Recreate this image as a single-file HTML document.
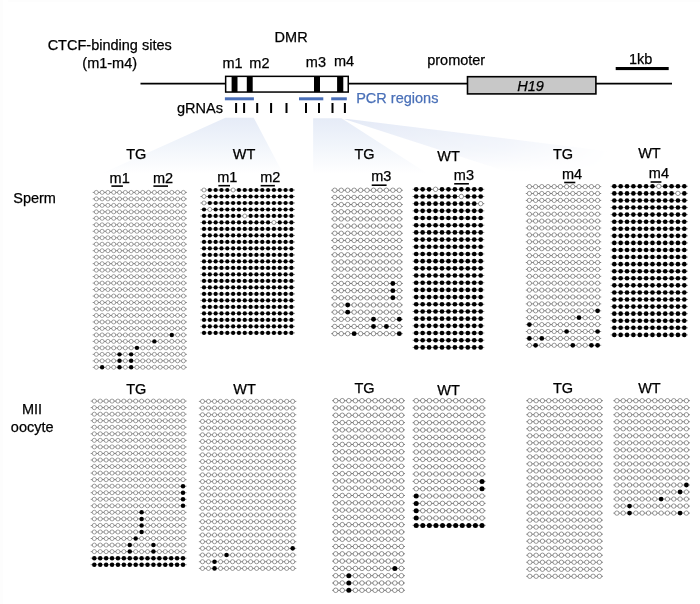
<!DOCTYPE html>
<html><head><meta charset="utf-8"><title>H19 DMR methylation</title>
<style>
html,body{margin:0;padding:0;background:#fff;}
body{width:700px;height:604px;overflow:hidden;}
svg{display:block;font-family:"Liberation Sans",Arial,sans-serif;}
</style></head><body>
<svg width="700" height="604" viewBox="0 0 700 604">
<rect width="700" height="604" fill="#fff"/><rect x="0" y="0" width="3" height="604" fill="#fdfdfd"/><rect x="8" y="0" width="692" height="2" fill="#fdfdfd"/>
<defs>
<linearGradient id="f1" x1="0" y1="117" x2="0" y2="174" gradientUnits="userSpaceOnUse"><stop offset="0" stop-color="#e5ebf7"/><stop offset="0.5" stop-color="#f1f5fb"/><stop offset="1" stop-color="#ffffff"/></linearGradient>
<linearGradient id="f3" x1="0" y1="119" x2="0" y2="172" gradientUnits="userSpaceOnUse"><stop offset="0" stop-color="#e3e9f6"/><stop offset="0.55" stop-color="#eef2fa"/><stop offset="1" stop-color="#ffffff"/></linearGradient>
<linearGradient id="mh" x1="345" y1="0" x2="610" y2="0" gradientUnits="userSpaceOnUse"><stop offset="0" stop-color="#fff"/><stop offset="0.6" stop-color="#aaa"/><stop offset="1" stop-color="#000"/></linearGradient>
<mask id="m3" maskUnits="userSpaceOnUse" x="340" y="110" width="300" height="90"><rect x="340" y="110" width="300" height="90" fill="url(#mh)"/></mask>
</defs>
<polygon points="225.4,117.7 253.7,117.7 283.3,174 100.7,174" fill="url(#f1)"/>
<polygon points="313.1,118.2 341.5,118.2 425,172 425,174 313.1,174" fill="url(#f1)"/>
<polygon points="344,119 348,119 610,151.5 610,172 508,172" fill="url(#f3)" mask="url(#m3)"/>

<path d="M140.5 83.7H225M349 83.7H467M596 83.7H672" stroke="#000" stroke-width="1.75" fill="none"/>
<rect x="225.65" y="76.35" width="122.6" height="15.7" fill="#fff" stroke="#000" stroke-width="1.5"/>
<rect x="231.6" y="76.3" width="5.9" height="15.8" fill="#000"/>
<rect x="246.8" y="76.3" width="5.9" height="15.8" fill="#000"/>
<rect x="314.0" y="76.3" width="6.0" height="15.8" fill="#000"/>
<rect x="337.1" y="76.3" width="6.2" height="15.8" fill="#000"/>
<rect x="467.5" y="76.7" width="128.4" height="17.2" fill="#c8c8c8" stroke="#000" stroke-width="1.6"/>
<rect x="224.9" y="97.3" width="29.0" height="3.0" fill="#4a6fb8"/>
<rect x="299.0" y="97.3" width="24.3" height="3.0" fill="#4a6fb8"/>
<rect x="331.2" y="97.3" width="15.6" height="3.0" fill="#4a6fb8"/>
<path d="M236.1 102.9V112.9M244.1 102.9V112.9M257.2 102.9V112.9M271.1 102.9V112.9M286.5 102.9V112.9M306.0 102.9V112.9M319.0 102.9V112.9M332.5 102.9V112.9M344.9 102.9V112.9" stroke="#000" stroke-width="2" fill="none"/>
<rect x="615.7" y="67.0" width="53" height="3.1" fill="#000"/>
<text x="109.7" y="50.1" text-anchor="middle" fill="#000" stroke="#000" stroke-width="0.25" font-size="14.5">CTCF-binding sites</text>
<text x="109.7" y="68.4" text-anchor="middle" fill="#000" stroke="#000" stroke-width="0.25" font-size="14.5">(m1-m4)</text>
<text x="291.1" y="42.2" text-anchor="middle" fill="#000" stroke="#000" stroke-width="0.25" font-size="14.5">DMR</text>
<text x="232.6" y="68.0" text-anchor="middle" fill="#000" stroke="#000" stroke-width="0.25" font-size="14.5">m1</text>
<text x="259.4" y="68.4" text-anchor="middle" fill="#000" stroke="#000" stroke-width="0.25" font-size="14.5">m2</text>
<text x="315.9" y="66.9" text-anchor="middle" fill="#000" stroke="#000" stroke-width="0.25" font-size="14.5">m3</text>
<text x="344.0" y="65.8" text-anchor="middle" fill="#000" stroke="#000" stroke-width="0.25" font-size="14.5">m4</text>
<text x="200.0" y="112.9" text-anchor="middle" fill="#000" stroke="#000" stroke-width="0.25" font-size="14.5">gRNAs</text>
<text x="397.3" y="103.0" text-anchor="middle" fill="#4a70b8" stroke="#4a70b8" stroke-width="0.25" font-size="14.5">PCR regions</text>
<text x="456.2" y="64.5" text-anchor="middle" fill="#000" stroke="#000" stroke-width="0.25" font-size="14.5">promoter</text>
<text x="530.5" y="90.9" text-anchor="middle" fill="#000" stroke="#000" stroke-width="0.25" font-size="14.5" font-style="italic">H19</text>
<text x="640.7" y="63.5" text-anchor="middle" fill="#000" stroke="#000" stroke-width="0.25" font-size="14.5">1kb</text>
<text x="34.6" y="202.9" text-anchor="middle" fill="#000" stroke="#000" stroke-width="0.25" font-size="14.5">Sperm</text>
<text x="32.0" y="414.3" text-anchor="middle" fill="#000" stroke="#000" stroke-width="0.25" font-size="14.5">MII</text>
<text x="32.2" y="431.7" text-anchor="middle" fill="#000" stroke="#000" stroke-width="0.25" font-size="14.5">oocyte</text>
<text x="136.2" y="159.4" text-anchor="middle" fill="#000" stroke="#000" stroke-width="0.25" font-size="14.5">TG</text>
<text x="244.1" y="159.4" text-anchor="middle" fill="#000" stroke="#000" stroke-width="0.25" font-size="14.5">WT</text>
<text x="364.5" y="159.3" text-anchor="middle" fill="#000" stroke="#000" stroke-width="0.25" font-size="14.5">TG</text>
<text x="448.6" y="161.1" text-anchor="middle" fill="#000" stroke="#000" stroke-width="0.25" font-size="14.5">WT</text>
<text x="563.0" y="158.9" text-anchor="middle" fill="#000" stroke="#000" stroke-width="0.25" font-size="14.5">TG</text>
<text x="649.4" y="158.1" text-anchor="middle" fill="#000" stroke="#000" stroke-width="0.25" font-size="14.5">WT</text>
<text x="136.2" y="394.4" text-anchor="middle" fill="#000" stroke="#000" stroke-width="0.25" font-size="14.5">TG</text>
<text x="244.5" y="393.8" text-anchor="middle" fill="#000" stroke="#000" stroke-width="0.25" font-size="14.5">WT</text>
<text x="364.5" y="393.1" text-anchor="middle" fill="#000" stroke="#000" stroke-width="0.25" font-size="14.5">TG</text>
<text x="448.6" y="394.9" text-anchor="middle" fill="#000" stroke="#000" stroke-width="0.25" font-size="14.5">WT</text>
<text x="563.0" y="393.1" text-anchor="middle" fill="#000" stroke="#000" stroke-width="0.25" font-size="14.5">TG</text>
<text x="649.4" y="392.6" text-anchor="middle" fill="#000" stroke="#000" stroke-width="0.25" font-size="14.5">WT</text>
<text x="109.6" y="182.8" text-anchor="start" fill="#000" stroke="#000" stroke-width="0.25" font-size="14.5">m1</text>
<path d="M111.4 186.1H122.9" stroke="#000" stroke-width="1.6"/>
<text x="153.0" y="182.9" text-anchor="start" fill="#000" stroke="#000" stroke-width="0.25" font-size="14.5">m2</text>
<path d="M153.4 186.1H168.0" stroke="#000" stroke-width="1.6"/>
<text x="217.2" y="181.6" text-anchor="start" fill="#000" stroke="#000" stroke-width="0.25" font-size="14.5">m1</text>
<path d="M218.4 185.7H230.0" stroke="#000" stroke-width="1.6"/>
<text x="260.2" y="181.6" text-anchor="start" fill="#000" stroke="#000" stroke-width="0.25" font-size="14.5">m2</text>
<path d="M260.6 185.7H274.9" stroke="#000" stroke-width="1.6"/>
<text x="371.2" y="181.1" text-anchor="start" fill="#000" stroke="#000" stroke-width="0.25" font-size="14.5">m3</text>
<path d="M371.7 185.2H386.6" stroke="#000" stroke-width="1.6"/>
<text x="453.8" y="179.9" text-anchor="start" fill="#000" stroke="#000" stroke-width="0.25" font-size="14.5">m3</text>
<path d="M454.2 183.8H468.9" stroke="#000" stroke-width="1.6"/>
<text x="561.9" y="178.7" text-anchor="start" fill="#000" stroke="#000" stroke-width="0.25" font-size="14.5">m4</text>
<path d="M564.2 182.5H575.3" stroke="#000" stroke-width="1.6"/>
<text x="648.8" y="177.9" text-anchor="start" fill="#000" stroke="#000" stroke-width="0.25" font-size="14.5">m4</text>
<path d="M650.6 182.0H661.4" stroke="#000" stroke-width="1.6"/>
<g>
<path d="M92.70 192.40H187.00M92.70 198.88H187.00M92.70 205.36H187.00M92.70 211.83H187.00M92.70 218.31H187.00M92.70 224.79H187.00M92.70 231.27H187.00M92.70 237.75H187.00M92.70 244.22H187.00M92.70 250.70H187.00M92.70 257.18H187.00M92.70 263.66H187.00M92.70 270.14H187.00M92.70 276.61H187.00M92.70 283.09H187.00M92.70 289.57H187.00M92.70 296.05H187.00M92.70 302.53H187.00M92.70 309.00H187.00M92.70 315.48H187.00M92.70 321.96H187.00M92.70 328.44H187.00M92.70 334.92H187.00M92.70 341.39H187.00M92.70 347.87H187.00M92.70 354.35H187.00M92.70 360.83H187.00M92.70 367.31H187.00" stroke="#222" stroke-width="0.48" fill="none"/>
<g fill="#fff" stroke="#222" stroke-width="0.42">
<circle cx="96.30" cy="192.40" r="2.00"/>
<circle cx="102.11" cy="192.40" r="2.00"/>
<circle cx="107.91" cy="192.40" r="2.00"/>
<circle cx="113.72" cy="192.40" r="2.00"/>
<circle cx="119.53" cy="192.40" r="2.00"/>
<circle cx="125.34" cy="192.40" r="2.00"/>
<circle cx="131.14" cy="192.40" r="2.00"/>
<circle cx="136.95" cy="192.40" r="2.00"/>
<circle cx="142.76" cy="192.40" r="2.00"/>
<circle cx="148.56" cy="192.40" r="2.00"/>
<circle cx="154.37" cy="192.40" r="2.00"/>
<circle cx="160.18" cy="192.40" r="2.00"/>
<circle cx="165.98" cy="192.40" r="2.00"/>
<circle cx="171.79" cy="192.40" r="2.00"/>
<circle cx="177.60" cy="192.40" r="2.00"/>
<circle cx="183.41" cy="192.40" r="2.00"/>
<circle cx="96.30" cy="198.88" r="2.00"/>
<circle cx="102.11" cy="198.88" r="2.00"/>
<circle cx="107.91" cy="198.88" r="2.00"/>
<circle cx="113.72" cy="198.88" r="2.00"/>
<circle cx="119.53" cy="198.88" r="2.00"/>
<circle cx="125.34" cy="198.88" r="2.00"/>
<circle cx="131.14" cy="198.88" r="2.00"/>
<circle cx="136.95" cy="198.88" r="2.00"/>
<circle cx="142.76" cy="198.88" r="2.00"/>
<circle cx="148.56" cy="198.88" r="2.00"/>
<circle cx="154.37" cy="198.88" r="2.00"/>
<circle cx="160.18" cy="198.88" r="2.00"/>
<circle cx="165.98" cy="198.88" r="2.00"/>
<circle cx="171.79" cy="198.88" r="2.00"/>
<circle cx="177.60" cy="198.88" r="2.00"/>
<circle cx="183.41" cy="198.88" r="2.00"/>
<circle cx="96.30" cy="205.36" r="2.00"/>
<circle cx="102.11" cy="205.36" r="2.00"/>
<circle cx="107.91" cy="205.36" r="2.00"/>
<circle cx="113.72" cy="205.36" r="2.00"/>
<circle cx="119.53" cy="205.36" r="2.00"/>
<circle cx="125.34" cy="205.36" r="2.00"/>
<circle cx="131.14" cy="205.36" r="2.00"/>
<circle cx="136.95" cy="205.36" r="2.00"/>
<circle cx="142.76" cy="205.36" r="2.00"/>
<circle cx="148.56" cy="205.36" r="2.00"/>
<circle cx="154.37" cy="205.36" r="2.00"/>
<circle cx="160.18" cy="205.36" r="2.00"/>
<circle cx="165.98" cy="205.36" r="2.00"/>
<circle cx="171.79" cy="205.36" r="2.00"/>
<circle cx="177.60" cy="205.36" r="2.00"/>
<circle cx="183.41" cy="205.36" r="2.00"/>
<circle cx="96.30" cy="211.83" r="2.00"/>
<circle cx="102.11" cy="211.83" r="2.00"/>
<circle cx="107.91" cy="211.83" r="2.00"/>
<circle cx="113.72" cy="211.83" r="2.00"/>
<circle cx="119.53" cy="211.83" r="2.00"/>
<circle cx="125.34" cy="211.83" r="2.00"/>
<circle cx="131.14" cy="211.83" r="2.00"/>
<circle cx="136.95" cy="211.83" r="2.00"/>
<circle cx="142.76" cy="211.83" r="2.00"/>
<circle cx="148.56" cy="211.83" r="2.00"/>
<circle cx="154.37" cy="211.83" r="2.00"/>
<circle cx="160.18" cy="211.83" r="2.00"/>
<circle cx="165.98" cy="211.83" r="2.00"/>
<circle cx="171.79" cy="211.83" r="2.00"/>
<circle cx="177.60" cy="211.83" r="2.00"/>
<circle cx="183.41" cy="211.83" r="2.00"/>
<circle cx="96.30" cy="218.31" r="2.00"/>
<circle cx="102.11" cy="218.31" r="2.00"/>
<circle cx="107.91" cy="218.31" r="2.00"/>
<circle cx="113.72" cy="218.31" r="2.00"/>
<circle cx="119.53" cy="218.31" r="2.00"/>
<circle cx="125.34" cy="218.31" r="2.00"/>
<circle cx="131.14" cy="218.31" r="2.00"/>
<circle cx="136.95" cy="218.31" r="2.00"/>
<circle cx="142.76" cy="218.31" r="2.00"/>
<circle cx="148.56" cy="218.31" r="2.00"/>
<circle cx="154.37" cy="218.31" r="2.00"/>
<circle cx="160.18" cy="218.31" r="2.00"/>
<circle cx="165.98" cy="218.31" r="2.00"/>
<circle cx="171.79" cy="218.31" r="2.00"/>
<circle cx="177.60" cy="218.31" r="2.00"/>
<circle cx="183.41" cy="218.31" r="2.00"/>
<circle cx="96.30" cy="224.79" r="2.00"/>
<circle cx="102.11" cy="224.79" r="2.00"/>
<circle cx="107.91" cy="224.79" r="2.00"/>
<circle cx="113.72" cy="224.79" r="2.00"/>
<circle cx="119.53" cy="224.79" r="2.00"/>
<circle cx="125.34" cy="224.79" r="2.00"/>
<circle cx="131.14" cy="224.79" r="2.00"/>
<circle cx="136.95" cy="224.79" r="2.00"/>
<circle cx="142.76" cy="224.79" r="2.00"/>
<circle cx="148.56" cy="224.79" r="2.00"/>
<circle cx="154.37" cy="224.79" r="2.00"/>
<circle cx="160.18" cy="224.79" r="2.00"/>
<circle cx="165.98" cy="224.79" r="2.00"/>
<circle cx="171.79" cy="224.79" r="2.00"/>
<circle cx="177.60" cy="224.79" r="2.00"/>
<circle cx="183.41" cy="224.79" r="2.00"/>
<circle cx="96.30" cy="231.27" r="2.00"/>
<circle cx="102.11" cy="231.27" r="2.00"/>
<circle cx="107.91" cy="231.27" r="2.00"/>
<circle cx="113.72" cy="231.27" r="2.00"/>
<circle cx="119.53" cy="231.27" r="2.00"/>
<circle cx="125.34" cy="231.27" r="2.00"/>
<circle cx="131.14" cy="231.27" r="2.00"/>
<circle cx="136.95" cy="231.27" r="2.00"/>
<circle cx="142.76" cy="231.27" r="2.00"/>
<circle cx="148.56" cy="231.27" r="2.00"/>
<circle cx="154.37" cy="231.27" r="2.00"/>
<circle cx="160.18" cy="231.27" r="2.00"/>
<circle cx="165.98" cy="231.27" r="2.00"/>
<circle cx="171.79" cy="231.27" r="2.00"/>
<circle cx="177.60" cy="231.27" r="2.00"/>
<circle cx="183.41" cy="231.27" r="2.00"/>
<circle cx="96.30" cy="237.75" r="2.00"/>
<circle cx="102.11" cy="237.75" r="2.00"/>
<circle cx="107.91" cy="237.75" r="2.00"/>
<circle cx="113.72" cy="237.75" r="2.00"/>
<circle cx="119.53" cy="237.75" r="2.00"/>
<circle cx="125.34" cy="237.75" r="2.00"/>
<circle cx="131.14" cy="237.75" r="2.00"/>
<circle cx="136.95" cy="237.75" r="2.00"/>
<circle cx="142.76" cy="237.75" r="2.00"/>
<circle cx="148.56" cy="237.75" r="2.00"/>
<circle cx="154.37" cy="237.75" r="2.00"/>
<circle cx="160.18" cy="237.75" r="2.00"/>
<circle cx="165.98" cy="237.75" r="2.00"/>
<circle cx="171.79" cy="237.75" r="2.00"/>
<circle cx="177.60" cy="237.75" r="2.00"/>
<circle cx="183.41" cy="237.75" r="2.00"/>
<circle cx="96.30" cy="244.22" r="2.00"/>
<circle cx="102.11" cy="244.22" r="2.00"/>
<circle cx="107.91" cy="244.22" r="2.00"/>
<circle cx="113.72" cy="244.22" r="2.00"/>
<circle cx="119.53" cy="244.22" r="2.00"/>
<circle cx="125.34" cy="244.22" r="2.00"/>
<circle cx="131.14" cy="244.22" r="2.00"/>
<circle cx="136.95" cy="244.22" r="2.00"/>
<circle cx="142.76" cy="244.22" r="2.00"/>
<circle cx="148.56" cy="244.22" r="2.00"/>
<circle cx="154.37" cy="244.22" r="2.00"/>
<circle cx="160.18" cy="244.22" r="2.00"/>
<circle cx="165.98" cy="244.22" r="2.00"/>
<circle cx="171.79" cy="244.22" r="2.00"/>
<circle cx="177.60" cy="244.22" r="2.00"/>
<circle cx="183.41" cy="244.22" r="2.00"/>
<circle cx="96.30" cy="250.70" r="2.00"/>
<circle cx="102.11" cy="250.70" r="2.00"/>
<circle cx="107.91" cy="250.70" r="2.00"/>
<circle cx="113.72" cy="250.70" r="2.00"/>
<circle cx="119.53" cy="250.70" r="2.00"/>
<circle cx="125.34" cy="250.70" r="2.00"/>
<circle cx="131.14" cy="250.70" r="2.00"/>
<circle cx="136.95" cy="250.70" r="2.00"/>
<circle cx="142.76" cy="250.70" r="2.00"/>
<circle cx="148.56" cy="250.70" r="2.00"/>
<circle cx="154.37" cy="250.70" r="2.00"/>
<circle cx="160.18" cy="250.70" r="2.00"/>
<circle cx="165.98" cy="250.70" r="2.00"/>
<circle cx="171.79" cy="250.70" r="2.00"/>
<circle cx="177.60" cy="250.70" r="2.00"/>
<circle cx="183.41" cy="250.70" r="2.00"/>
<circle cx="96.30" cy="257.18" r="2.00"/>
<circle cx="102.11" cy="257.18" r="2.00"/>
<circle cx="107.91" cy="257.18" r="2.00"/>
<circle cx="113.72" cy="257.18" r="2.00"/>
<circle cx="119.53" cy="257.18" r="2.00"/>
<circle cx="125.34" cy="257.18" r="2.00"/>
<circle cx="131.14" cy="257.18" r="2.00"/>
<circle cx="136.95" cy="257.18" r="2.00"/>
<circle cx="142.76" cy="257.18" r="2.00"/>
<circle cx="148.56" cy="257.18" r="2.00"/>
<circle cx="154.37" cy="257.18" r="2.00"/>
<circle cx="160.18" cy="257.18" r="2.00"/>
<circle cx="165.98" cy="257.18" r="2.00"/>
<circle cx="171.79" cy="257.18" r="2.00"/>
<circle cx="177.60" cy="257.18" r="2.00"/>
<circle cx="183.41" cy="257.18" r="2.00"/>
<circle cx="96.30" cy="263.66" r="2.00"/>
<circle cx="102.11" cy="263.66" r="2.00"/>
<circle cx="107.91" cy="263.66" r="2.00"/>
<circle cx="113.72" cy="263.66" r="2.00"/>
<circle cx="119.53" cy="263.66" r="2.00"/>
<circle cx="125.34" cy="263.66" r="2.00"/>
<circle cx="131.14" cy="263.66" r="2.00"/>
<circle cx="136.95" cy="263.66" r="2.00"/>
<circle cx="142.76" cy="263.66" r="2.00"/>
<circle cx="148.56" cy="263.66" r="2.00"/>
<circle cx="154.37" cy="263.66" r="2.00"/>
<circle cx="160.18" cy="263.66" r="2.00"/>
<circle cx="165.98" cy="263.66" r="2.00"/>
<circle cx="171.79" cy="263.66" r="2.00"/>
<circle cx="177.60" cy="263.66" r="2.00"/>
<circle cx="183.41" cy="263.66" r="2.00"/>
<circle cx="96.30" cy="270.14" r="2.00"/>
<circle cx="102.11" cy="270.14" r="2.00"/>
<circle cx="107.91" cy="270.14" r="2.00"/>
<circle cx="113.72" cy="270.14" r="2.00"/>
<circle cx="119.53" cy="270.14" r="2.00"/>
<circle cx="125.34" cy="270.14" r="2.00"/>
<circle cx="131.14" cy="270.14" r="2.00"/>
<circle cx="136.95" cy="270.14" r="2.00"/>
<circle cx="142.76" cy="270.14" r="2.00"/>
<circle cx="148.56" cy="270.14" r="2.00"/>
<circle cx="154.37" cy="270.14" r="2.00"/>
<circle cx="160.18" cy="270.14" r="2.00"/>
<circle cx="165.98" cy="270.14" r="2.00"/>
<circle cx="171.79" cy="270.14" r="2.00"/>
<circle cx="177.60" cy="270.14" r="2.00"/>
<circle cx="183.41" cy="270.14" r="2.00"/>
<circle cx="96.30" cy="276.61" r="2.00"/>
<circle cx="102.11" cy="276.61" r="2.00"/>
<circle cx="107.91" cy="276.61" r="2.00"/>
<circle cx="113.72" cy="276.61" r="2.00"/>
<circle cx="119.53" cy="276.61" r="2.00"/>
<circle cx="125.34" cy="276.61" r="2.00"/>
<circle cx="131.14" cy="276.61" r="2.00"/>
<circle cx="136.95" cy="276.61" r="2.00"/>
<circle cx="142.76" cy="276.61" r="2.00"/>
<circle cx="148.56" cy="276.61" r="2.00"/>
<circle cx="154.37" cy="276.61" r="2.00"/>
<circle cx="160.18" cy="276.61" r="2.00"/>
<circle cx="165.98" cy="276.61" r="2.00"/>
<circle cx="171.79" cy="276.61" r="2.00"/>
<circle cx="177.60" cy="276.61" r="2.00"/>
<circle cx="183.41" cy="276.61" r="2.00"/>
<circle cx="96.30" cy="283.09" r="2.00"/>
<circle cx="102.11" cy="283.09" r="2.00"/>
<circle cx="107.91" cy="283.09" r="2.00"/>
<circle cx="113.72" cy="283.09" r="2.00"/>
<circle cx="119.53" cy="283.09" r="2.00"/>
<circle cx="125.34" cy="283.09" r="2.00"/>
<circle cx="131.14" cy="283.09" r="2.00"/>
<circle cx="136.95" cy="283.09" r="2.00"/>
<circle cx="142.76" cy="283.09" r="2.00"/>
<circle cx="148.56" cy="283.09" r="2.00"/>
<circle cx="154.37" cy="283.09" r="2.00"/>
<circle cx="160.18" cy="283.09" r="2.00"/>
<circle cx="165.98" cy="283.09" r="2.00"/>
<circle cx="171.79" cy="283.09" r="2.00"/>
<circle cx="177.60" cy="283.09" r="2.00"/>
<circle cx="183.41" cy="283.09" r="2.00"/>
<circle cx="96.30" cy="289.57" r="2.00"/>
<circle cx="102.11" cy="289.57" r="2.00"/>
<circle cx="107.91" cy="289.57" r="2.00"/>
<circle cx="113.72" cy="289.57" r="2.00"/>
<circle cx="119.53" cy="289.57" r="2.00"/>
<circle cx="125.34" cy="289.57" r="2.00"/>
<circle cx="131.14" cy="289.57" r="2.00"/>
<circle cx="136.95" cy="289.57" r="2.00"/>
<circle cx="142.76" cy="289.57" r="2.00"/>
<circle cx="148.56" cy="289.57" r="2.00"/>
<circle cx="154.37" cy="289.57" r="2.00"/>
<circle cx="160.18" cy="289.57" r="2.00"/>
<circle cx="165.98" cy="289.57" r="2.00"/>
<circle cx="171.79" cy="289.57" r="2.00"/>
<circle cx="177.60" cy="289.57" r="2.00"/>
<circle cx="183.41" cy="289.57" r="2.00"/>
<circle cx="96.30" cy="296.05" r="2.00"/>
<circle cx="102.11" cy="296.05" r="2.00"/>
<circle cx="107.91" cy="296.05" r="2.00"/>
<circle cx="113.72" cy="296.05" r="2.00"/>
<circle cx="119.53" cy="296.05" r="2.00"/>
<circle cx="125.34" cy="296.05" r="2.00"/>
<circle cx="131.14" cy="296.05" r="2.00"/>
<circle cx="136.95" cy="296.05" r="2.00"/>
<circle cx="142.76" cy="296.05" r="2.00"/>
<circle cx="148.56" cy="296.05" r="2.00"/>
<circle cx="154.37" cy="296.05" r="2.00"/>
<circle cx="160.18" cy="296.05" r="2.00"/>
<circle cx="165.98" cy="296.05" r="2.00"/>
<circle cx="171.79" cy="296.05" r="2.00"/>
<circle cx="177.60" cy="296.05" r="2.00"/>
<circle cx="183.41" cy="296.05" r="2.00"/>
<circle cx="96.30" cy="302.53" r="2.00"/>
<circle cx="102.11" cy="302.53" r="2.00"/>
<circle cx="107.91" cy="302.53" r="2.00"/>
<circle cx="113.72" cy="302.53" r="2.00"/>
<circle cx="119.53" cy="302.53" r="2.00"/>
<circle cx="125.34" cy="302.53" r="2.00"/>
<circle cx="131.14" cy="302.53" r="2.00"/>
<circle cx="136.95" cy="302.53" r="2.00"/>
<circle cx="142.76" cy="302.53" r="2.00"/>
<circle cx="148.56" cy="302.53" r="2.00"/>
<circle cx="154.37" cy="302.53" r="2.00"/>
<circle cx="160.18" cy="302.53" r="2.00"/>
<circle cx="165.98" cy="302.53" r="2.00"/>
<circle cx="171.79" cy="302.53" r="2.00"/>
<circle cx="177.60" cy="302.53" r="2.00"/>
<circle cx="183.41" cy="302.53" r="2.00"/>
<circle cx="96.30" cy="309.00" r="2.00"/>
<circle cx="102.11" cy="309.00" r="2.00"/>
<circle cx="107.91" cy="309.00" r="2.00"/>
<circle cx="113.72" cy="309.00" r="2.00"/>
<circle cx="119.53" cy="309.00" r="2.00"/>
<circle cx="125.34" cy="309.00" r="2.00"/>
<circle cx="131.14" cy="309.00" r="2.00"/>
<circle cx="136.95" cy="309.00" r="2.00"/>
<circle cx="142.76" cy="309.00" r="2.00"/>
<circle cx="148.56" cy="309.00" r="2.00"/>
<circle cx="154.37" cy="309.00" r="2.00"/>
<circle cx="160.18" cy="309.00" r="2.00"/>
<circle cx="165.98" cy="309.00" r="2.00"/>
<circle cx="171.79" cy="309.00" r="2.00"/>
<circle cx="177.60" cy="309.00" r="2.00"/>
<circle cx="183.41" cy="309.00" r="2.00"/>
<circle cx="96.30" cy="315.48" r="2.00"/>
<circle cx="102.11" cy="315.48" r="2.00"/>
<circle cx="107.91" cy="315.48" r="2.00"/>
<circle cx="113.72" cy="315.48" r="2.00"/>
<circle cx="119.53" cy="315.48" r="2.00"/>
<circle cx="125.34" cy="315.48" r="2.00"/>
<circle cx="131.14" cy="315.48" r="2.00"/>
<circle cx="136.95" cy="315.48" r="2.00"/>
<circle cx="142.76" cy="315.48" r="2.00"/>
<circle cx="148.56" cy="315.48" r="2.00"/>
<circle cx="154.37" cy="315.48" r="2.00"/>
<circle cx="160.18" cy="315.48" r="2.00"/>
<circle cx="165.98" cy="315.48" r="2.00"/>
<circle cx="171.79" cy="315.48" r="2.00"/>
<circle cx="177.60" cy="315.48" r="2.00"/>
<circle cx="183.41" cy="315.48" r="2.00"/>
<circle cx="96.30" cy="321.96" r="2.00"/>
<circle cx="102.11" cy="321.96" r="2.00"/>
<circle cx="107.91" cy="321.96" r="2.00"/>
<circle cx="113.72" cy="321.96" r="2.00"/>
<circle cx="119.53" cy="321.96" r="2.00"/>
<circle cx="125.34" cy="321.96" r="2.00"/>
<circle cx="131.14" cy="321.96" r="2.00"/>
<circle cx="136.95" cy="321.96" r="2.00"/>
<circle cx="142.76" cy="321.96" r="2.00"/>
<circle cx="148.56" cy="321.96" r="2.00"/>
<circle cx="154.37" cy="321.96" r="2.00"/>
<circle cx="160.18" cy="321.96" r="2.00"/>
<circle cx="165.98" cy="321.96" r="2.00"/>
<circle cx="171.79" cy="321.96" r="2.00"/>
<circle cx="177.60" cy="321.96" r="2.00"/>
<circle cx="183.41" cy="321.96" r="2.00"/>
<circle cx="96.30" cy="328.44" r="2.00"/>
<circle cx="102.11" cy="328.44" r="2.00"/>
<circle cx="107.91" cy="328.44" r="2.00"/>
<circle cx="113.72" cy="328.44" r="2.00"/>
<circle cx="119.53" cy="328.44" r="2.00"/>
<circle cx="125.34" cy="328.44" r="2.00"/>
<circle cx="131.14" cy="328.44" r="2.00"/>
<circle cx="136.95" cy="328.44" r="2.00"/>
<circle cx="142.76" cy="328.44" r="2.00"/>
<circle cx="148.56" cy="328.44" r="2.00"/>
<circle cx="154.37" cy="328.44" r="2.00"/>
<circle cx="160.18" cy="328.44" r="2.00"/>
<circle cx="165.98" cy="328.44" r="2.00"/>
<circle cx="171.79" cy="328.44" r="2.00"/>
<circle cx="177.60" cy="328.44" r="2.00"/>
<circle cx="183.41" cy="328.44" r="2.00"/>
<circle cx="96.30" cy="334.92" r="2.00"/>
<circle cx="102.11" cy="334.92" r="2.00"/>
<circle cx="107.91" cy="334.92" r="2.00"/>
<circle cx="113.72" cy="334.92" r="2.00"/>
<circle cx="119.53" cy="334.92" r="2.00"/>
<circle cx="125.34" cy="334.92" r="2.00"/>
<circle cx="131.14" cy="334.92" r="2.00"/>
<circle cx="136.95" cy="334.92" r="2.00"/>
<circle cx="142.76" cy="334.92" r="2.00"/>
<circle cx="148.56" cy="334.92" r="2.00"/>
<circle cx="154.37" cy="334.92" r="2.00"/>
<circle cx="160.18" cy="334.92" r="2.00"/>
<circle cx="165.98" cy="334.92" r="2.00"/>
<circle cx="177.60" cy="334.92" r="2.00"/>
<circle cx="183.41" cy="334.92" r="2.00"/>
<circle cx="96.30" cy="341.39" r="2.00"/>
<circle cx="102.11" cy="341.39" r="2.00"/>
<circle cx="107.91" cy="341.39" r="2.00"/>
<circle cx="113.72" cy="341.39" r="2.00"/>
<circle cx="119.53" cy="341.39" r="2.00"/>
<circle cx="125.34" cy="341.39" r="2.00"/>
<circle cx="131.14" cy="341.39" r="2.00"/>
<circle cx="136.95" cy="341.39" r="2.00"/>
<circle cx="142.76" cy="341.39" r="2.00"/>
<circle cx="148.56" cy="341.39" r="2.00"/>
<circle cx="160.18" cy="341.39" r="2.00"/>
<circle cx="165.98" cy="341.39" r="2.00"/>
<circle cx="171.79" cy="341.39" r="2.00"/>
<circle cx="177.60" cy="341.39" r="2.00"/>
<circle cx="183.41" cy="341.39" r="2.00"/>
<circle cx="96.30" cy="347.87" r="2.00"/>
<circle cx="102.11" cy="347.87" r="2.00"/>
<circle cx="107.91" cy="347.87" r="2.00"/>
<circle cx="113.72" cy="347.87" r="2.00"/>
<circle cx="119.53" cy="347.87" r="2.00"/>
<circle cx="125.34" cy="347.87" r="2.00"/>
<circle cx="131.14" cy="347.87" r="2.00"/>
<circle cx="142.76" cy="347.87" r="2.00"/>
<circle cx="148.56" cy="347.87" r="2.00"/>
<circle cx="154.37" cy="347.87" r="2.00"/>
<circle cx="160.18" cy="347.87" r="2.00"/>
<circle cx="165.98" cy="347.87" r="2.00"/>
<circle cx="171.79" cy="347.87" r="2.00"/>
<circle cx="177.60" cy="347.87" r="2.00"/>
<circle cx="183.41" cy="347.87" r="2.00"/>
<circle cx="96.30" cy="354.35" r="2.00"/>
<circle cx="102.11" cy="354.35" r="2.00"/>
<circle cx="107.91" cy="354.35" r="2.00"/>
<circle cx="113.72" cy="354.35" r="2.00"/>
<circle cx="125.34" cy="354.35" r="2.00"/>
<circle cx="136.95" cy="354.35" r="2.00"/>
<circle cx="142.76" cy="354.35" r="2.00"/>
<circle cx="148.56" cy="354.35" r="2.00"/>
<circle cx="154.37" cy="354.35" r="2.00"/>
<circle cx="160.18" cy="354.35" r="2.00"/>
<circle cx="165.98" cy="354.35" r="2.00"/>
<circle cx="171.79" cy="354.35" r="2.00"/>
<circle cx="177.60" cy="354.35" r="2.00"/>
<circle cx="183.41" cy="354.35" r="2.00"/>
<circle cx="96.30" cy="360.83" r="2.00"/>
<circle cx="102.11" cy="360.83" r="2.00"/>
<circle cx="107.91" cy="360.83" r="2.00"/>
<circle cx="113.72" cy="360.83" r="2.00"/>
<circle cx="125.34" cy="360.83" r="2.00"/>
<circle cx="136.95" cy="360.83" r="2.00"/>
<circle cx="142.76" cy="360.83" r="2.00"/>
<circle cx="148.56" cy="360.83" r="2.00"/>
<circle cx="154.37" cy="360.83" r="2.00"/>
<circle cx="160.18" cy="360.83" r="2.00"/>
<circle cx="165.98" cy="360.83" r="2.00"/>
<circle cx="171.79" cy="360.83" r="2.00"/>
<circle cx="177.60" cy="360.83" r="2.00"/>
<circle cx="183.41" cy="360.83" r="2.00"/>
<circle cx="96.30" cy="367.31" r="2.00"/>
<circle cx="107.91" cy="367.31" r="2.00"/>
<circle cx="113.72" cy="367.31" r="2.00"/>
<circle cx="125.34" cy="367.31" r="2.00"/>
<circle cx="136.95" cy="367.31" r="2.00"/>
<circle cx="142.76" cy="367.31" r="2.00"/>
<circle cx="148.56" cy="367.31" r="2.00"/>
<circle cx="154.37" cy="367.31" r="2.00"/>
<circle cx="160.18" cy="367.31" r="2.00"/>
<circle cx="165.98" cy="367.31" r="2.00"/>
<circle cx="171.79" cy="367.31" r="2.00"/>
<circle cx="177.60" cy="367.31" r="2.00"/>
<circle cx="183.41" cy="367.31" r="2.00"/>
</g>
<g fill="#000">
<circle cx="171.79" cy="334.92" r="2.21"/>
<circle cx="154.37" cy="341.39" r="2.21"/>
<circle cx="136.95" cy="347.87" r="2.21"/>
<circle cx="119.53" cy="354.35" r="2.21"/>
<circle cx="131.14" cy="354.35" r="2.21"/>
<circle cx="119.53" cy="360.83" r="2.21"/>
<circle cx="131.14" cy="360.83" r="2.21"/>
<circle cx="102.11" cy="367.31" r="2.21"/>
<circle cx="119.53" cy="367.31" r="2.21"/>
<circle cx="131.14" cy="367.31" r="2.21"/>
</g>
</g>
<g>
<path d="M200.40 190.00H295.00M200.40 196.50H295.00M200.40 202.99H295.00M200.40 209.49H295.00M200.40 215.98H295.00M200.40 222.47H295.00M200.40 228.97H295.00M200.40 235.47H295.00M200.40 241.96H295.00M200.40 248.45H295.00M200.40 254.95H295.00M200.40 261.44H295.00M200.40 267.94H295.00M200.40 274.44H295.00M200.40 280.93H295.00M200.40 287.43H295.00M200.40 293.92H295.00M200.40 300.42H295.00M200.40 306.91H295.00M200.40 313.40H295.00M200.40 319.90H295.00M200.40 326.39H295.00M200.40 332.89H295.00" stroke="#222" stroke-width="0.48" fill="none"/>
<g fill="#fff" stroke="#222" stroke-width="0.43">
<circle cx="204.00" cy="190.00" r="2.01"/>
<circle cx="233.13" cy="190.00" r="2.01"/>
<circle cx="204.00" cy="196.50" r="2.01"/>
<circle cx="204.00" cy="202.99" r="2.01"/>
<circle cx="209.83" cy="209.49" r="2.01"/>
<circle cx="244.79" cy="215.98" r="2.01"/>
<circle cx="273.92" cy="222.47" r="2.01"/>
</g>
<g fill="#000">
<circle cx="209.83" cy="190.00" r="2.11"/>
<circle cx="215.65" cy="190.00" r="2.11"/>
<circle cx="221.48" cy="190.00" r="2.11"/>
<circle cx="227.31" cy="190.00" r="2.11"/>
<circle cx="238.96" cy="190.00" r="2.11"/>
<circle cx="244.79" cy="190.00" r="2.11"/>
<circle cx="250.62" cy="190.00" r="2.11"/>
<circle cx="256.44" cy="190.00" r="2.11"/>
<circle cx="262.27" cy="190.00" r="2.11"/>
<circle cx="268.10" cy="190.00" r="2.11"/>
<circle cx="273.92" cy="190.00" r="2.11"/>
<circle cx="279.75" cy="190.00" r="2.11"/>
<circle cx="285.58" cy="190.00" r="2.11"/>
<circle cx="291.40" cy="190.00" r="2.11"/>
<circle cx="209.83" cy="196.50" r="2.11"/>
<circle cx="215.65" cy="196.50" r="2.11"/>
<circle cx="221.48" cy="196.50" r="2.11"/>
<circle cx="227.31" cy="196.50" r="2.11"/>
<circle cx="233.13" cy="196.50" r="2.11"/>
<circle cx="238.96" cy="196.50" r="2.11"/>
<circle cx="244.79" cy="196.50" r="2.11"/>
<circle cx="250.62" cy="196.50" r="2.11"/>
<circle cx="256.44" cy="196.50" r="2.11"/>
<circle cx="262.27" cy="196.50" r="2.11"/>
<circle cx="268.10" cy="196.50" r="2.11"/>
<circle cx="273.92" cy="196.50" r="2.11"/>
<circle cx="279.75" cy="196.50" r="2.11"/>
<circle cx="285.58" cy="196.50" r="2.11"/>
<circle cx="291.40" cy="196.50" r="2.11"/>
<circle cx="209.83" cy="202.99" r="2.11"/>
<circle cx="215.65" cy="202.99" r="2.11"/>
<circle cx="221.48" cy="202.99" r="2.11"/>
<circle cx="227.31" cy="202.99" r="2.11"/>
<circle cx="233.13" cy="202.99" r="2.11"/>
<circle cx="238.96" cy="202.99" r="2.11"/>
<circle cx="244.79" cy="202.99" r="2.11"/>
<circle cx="250.62" cy="202.99" r="2.11"/>
<circle cx="256.44" cy="202.99" r="2.11"/>
<circle cx="262.27" cy="202.99" r="2.11"/>
<circle cx="268.10" cy="202.99" r="2.11"/>
<circle cx="273.92" cy="202.99" r="2.11"/>
<circle cx="279.75" cy="202.99" r="2.11"/>
<circle cx="285.58" cy="202.99" r="2.11"/>
<circle cx="291.40" cy="202.99" r="2.11"/>
<circle cx="204.00" cy="209.49" r="2.11"/>
<circle cx="215.65" cy="209.49" r="2.11"/>
<circle cx="221.48" cy="209.49" r="2.11"/>
<circle cx="227.31" cy="209.49" r="2.11"/>
<circle cx="233.13" cy="209.49" r="2.11"/>
<circle cx="238.96" cy="209.49" r="2.11"/>
<circle cx="244.79" cy="209.49" r="2.11"/>
<circle cx="250.62" cy="209.49" r="2.11"/>
<circle cx="256.44" cy="209.49" r="2.11"/>
<circle cx="262.27" cy="209.49" r="2.11"/>
<circle cx="268.10" cy="209.49" r="2.11"/>
<circle cx="273.92" cy="209.49" r="2.11"/>
<circle cx="279.75" cy="209.49" r="2.11"/>
<circle cx="285.58" cy="209.49" r="2.11"/>
<circle cx="291.40" cy="209.49" r="2.11"/>
<circle cx="204.00" cy="215.98" r="2.11"/>
<circle cx="209.83" cy="215.98" r="2.11"/>
<circle cx="215.65" cy="215.98" r="2.11"/>
<circle cx="221.48" cy="215.98" r="2.11"/>
<circle cx="227.31" cy="215.98" r="2.11"/>
<circle cx="233.13" cy="215.98" r="2.11"/>
<circle cx="238.96" cy="215.98" r="2.11"/>
<circle cx="250.62" cy="215.98" r="2.11"/>
<circle cx="256.44" cy="215.98" r="2.11"/>
<circle cx="262.27" cy="215.98" r="2.11"/>
<circle cx="268.10" cy="215.98" r="2.11"/>
<circle cx="273.92" cy="215.98" r="2.11"/>
<circle cx="279.75" cy="215.98" r="2.11"/>
<circle cx="285.58" cy="215.98" r="2.11"/>
<circle cx="291.40" cy="215.98" r="2.11"/>
<circle cx="204.00" cy="222.47" r="2.11"/>
<circle cx="209.83" cy="222.47" r="2.11"/>
<circle cx="215.65" cy="222.47" r="2.11"/>
<circle cx="221.48" cy="222.47" r="2.11"/>
<circle cx="227.31" cy="222.47" r="2.11"/>
<circle cx="233.13" cy="222.47" r="2.11"/>
<circle cx="238.96" cy="222.47" r="2.11"/>
<circle cx="244.79" cy="222.47" r="2.11"/>
<circle cx="250.62" cy="222.47" r="2.11"/>
<circle cx="256.44" cy="222.47" r="2.11"/>
<circle cx="262.27" cy="222.47" r="2.11"/>
<circle cx="268.10" cy="222.47" r="2.11"/>
<circle cx="279.75" cy="222.47" r="2.11"/>
<circle cx="285.58" cy="222.47" r="2.11"/>
<circle cx="291.40" cy="222.47" r="2.11"/>
<circle cx="204.00" cy="228.97" r="2.11"/>
<circle cx="209.83" cy="228.97" r="2.11"/>
<circle cx="215.65" cy="228.97" r="2.11"/>
<circle cx="221.48" cy="228.97" r="2.11"/>
<circle cx="227.31" cy="228.97" r="2.11"/>
<circle cx="233.13" cy="228.97" r="2.11"/>
<circle cx="238.96" cy="228.97" r="2.11"/>
<circle cx="244.79" cy="228.97" r="2.11"/>
<circle cx="250.62" cy="228.97" r="2.11"/>
<circle cx="256.44" cy="228.97" r="2.11"/>
<circle cx="262.27" cy="228.97" r="2.11"/>
<circle cx="268.10" cy="228.97" r="2.11"/>
<circle cx="273.92" cy="228.97" r="2.11"/>
<circle cx="279.75" cy="228.97" r="2.11"/>
<circle cx="285.58" cy="228.97" r="2.11"/>
<circle cx="291.40" cy="228.97" r="2.11"/>
<circle cx="204.00" cy="235.47" r="2.11"/>
<circle cx="209.83" cy="235.47" r="2.11"/>
<circle cx="215.65" cy="235.47" r="2.11"/>
<circle cx="221.48" cy="235.47" r="2.11"/>
<circle cx="227.31" cy="235.47" r="2.11"/>
<circle cx="233.13" cy="235.47" r="2.11"/>
<circle cx="238.96" cy="235.47" r="2.11"/>
<circle cx="244.79" cy="235.47" r="2.11"/>
<circle cx="250.62" cy="235.47" r="2.11"/>
<circle cx="256.44" cy="235.47" r="2.11"/>
<circle cx="262.27" cy="235.47" r="2.11"/>
<circle cx="268.10" cy="235.47" r="2.11"/>
<circle cx="273.92" cy="235.47" r="2.11"/>
<circle cx="279.75" cy="235.47" r="2.11"/>
<circle cx="285.58" cy="235.47" r="2.11"/>
<circle cx="291.40" cy="235.47" r="2.11"/>
<circle cx="204.00" cy="241.96" r="2.11"/>
<circle cx="209.83" cy="241.96" r="2.11"/>
<circle cx="215.65" cy="241.96" r="2.11"/>
<circle cx="221.48" cy="241.96" r="2.11"/>
<circle cx="227.31" cy="241.96" r="2.11"/>
<circle cx="233.13" cy="241.96" r="2.11"/>
<circle cx="238.96" cy="241.96" r="2.11"/>
<circle cx="244.79" cy="241.96" r="2.11"/>
<circle cx="250.62" cy="241.96" r="2.11"/>
<circle cx="256.44" cy="241.96" r="2.11"/>
<circle cx="262.27" cy="241.96" r="2.11"/>
<circle cx="268.10" cy="241.96" r="2.11"/>
<circle cx="273.92" cy="241.96" r="2.11"/>
<circle cx="279.75" cy="241.96" r="2.11"/>
<circle cx="285.58" cy="241.96" r="2.11"/>
<circle cx="291.40" cy="241.96" r="2.11"/>
<circle cx="204.00" cy="248.45" r="2.11"/>
<circle cx="209.83" cy="248.45" r="2.11"/>
<circle cx="215.65" cy="248.45" r="2.11"/>
<circle cx="221.48" cy="248.45" r="2.11"/>
<circle cx="227.31" cy="248.45" r="2.11"/>
<circle cx="233.13" cy="248.45" r="2.11"/>
<circle cx="238.96" cy="248.45" r="2.11"/>
<circle cx="244.79" cy="248.45" r="2.11"/>
<circle cx="250.62" cy="248.45" r="2.11"/>
<circle cx="256.44" cy="248.45" r="2.11"/>
<circle cx="262.27" cy="248.45" r="2.11"/>
<circle cx="268.10" cy="248.45" r="2.11"/>
<circle cx="273.92" cy="248.45" r="2.11"/>
<circle cx="279.75" cy="248.45" r="2.11"/>
<circle cx="285.58" cy="248.45" r="2.11"/>
<circle cx="291.40" cy="248.45" r="2.11"/>
<circle cx="204.00" cy="254.95" r="2.11"/>
<circle cx="209.83" cy="254.95" r="2.11"/>
<circle cx="215.65" cy="254.95" r="2.11"/>
<circle cx="221.48" cy="254.95" r="2.11"/>
<circle cx="227.31" cy="254.95" r="2.11"/>
<circle cx="233.13" cy="254.95" r="2.11"/>
<circle cx="238.96" cy="254.95" r="2.11"/>
<circle cx="244.79" cy="254.95" r="2.11"/>
<circle cx="250.62" cy="254.95" r="2.11"/>
<circle cx="256.44" cy="254.95" r="2.11"/>
<circle cx="262.27" cy="254.95" r="2.11"/>
<circle cx="268.10" cy="254.95" r="2.11"/>
<circle cx="273.92" cy="254.95" r="2.11"/>
<circle cx="279.75" cy="254.95" r="2.11"/>
<circle cx="285.58" cy="254.95" r="2.11"/>
<circle cx="291.40" cy="254.95" r="2.11"/>
<circle cx="204.00" cy="261.44" r="2.11"/>
<circle cx="209.83" cy="261.44" r="2.11"/>
<circle cx="215.65" cy="261.44" r="2.11"/>
<circle cx="221.48" cy="261.44" r="2.11"/>
<circle cx="227.31" cy="261.44" r="2.11"/>
<circle cx="233.13" cy="261.44" r="2.11"/>
<circle cx="238.96" cy="261.44" r="2.11"/>
<circle cx="244.79" cy="261.44" r="2.11"/>
<circle cx="250.62" cy="261.44" r="2.11"/>
<circle cx="256.44" cy="261.44" r="2.11"/>
<circle cx="262.27" cy="261.44" r="2.11"/>
<circle cx="268.10" cy="261.44" r="2.11"/>
<circle cx="273.92" cy="261.44" r="2.11"/>
<circle cx="279.75" cy="261.44" r="2.11"/>
<circle cx="285.58" cy="261.44" r="2.11"/>
<circle cx="291.40" cy="261.44" r="2.11"/>
<circle cx="204.00" cy="267.94" r="2.11"/>
<circle cx="209.83" cy="267.94" r="2.11"/>
<circle cx="215.65" cy="267.94" r="2.11"/>
<circle cx="221.48" cy="267.94" r="2.11"/>
<circle cx="227.31" cy="267.94" r="2.11"/>
<circle cx="233.13" cy="267.94" r="2.11"/>
<circle cx="238.96" cy="267.94" r="2.11"/>
<circle cx="244.79" cy="267.94" r="2.11"/>
<circle cx="250.62" cy="267.94" r="2.11"/>
<circle cx="256.44" cy="267.94" r="2.11"/>
<circle cx="262.27" cy="267.94" r="2.11"/>
<circle cx="268.10" cy="267.94" r="2.11"/>
<circle cx="273.92" cy="267.94" r="2.11"/>
<circle cx="279.75" cy="267.94" r="2.11"/>
<circle cx="285.58" cy="267.94" r="2.11"/>
<circle cx="291.40" cy="267.94" r="2.11"/>
<circle cx="204.00" cy="274.44" r="2.11"/>
<circle cx="209.83" cy="274.44" r="2.11"/>
<circle cx="215.65" cy="274.44" r="2.11"/>
<circle cx="221.48" cy="274.44" r="2.11"/>
<circle cx="227.31" cy="274.44" r="2.11"/>
<circle cx="233.13" cy="274.44" r="2.11"/>
<circle cx="238.96" cy="274.44" r="2.11"/>
<circle cx="244.79" cy="274.44" r="2.11"/>
<circle cx="250.62" cy="274.44" r="2.11"/>
<circle cx="256.44" cy="274.44" r="2.11"/>
<circle cx="262.27" cy="274.44" r="2.11"/>
<circle cx="268.10" cy="274.44" r="2.11"/>
<circle cx="273.92" cy="274.44" r="2.11"/>
<circle cx="279.75" cy="274.44" r="2.11"/>
<circle cx="285.58" cy="274.44" r="2.11"/>
<circle cx="291.40" cy="274.44" r="2.11"/>
<circle cx="204.00" cy="280.93" r="2.11"/>
<circle cx="209.83" cy="280.93" r="2.11"/>
<circle cx="215.65" cy="280.93" r="2.11"/>
<circle cx="221.48" cy="280.93" r="2.11"/>
<circle cx="227.31" cy="280.93" r="2.11"/>
<circle cx="233.13" cy="280.93" r="2.11"/>
<circle cx="238.96" cy="280.93" r="2.11"/>
<circle cx="244.79" cy="280.93" r="2.11"/>
<circle cx="250.62" cy="280.93" r="2.11"/>
<circle cx="256.44" cy="280.93" r="2.11"/>
<circle cx="262.27" cy="280.93" r="2.11"/>
<circle cx="268.10" cy="280.93" r="2.11"/>
<circle cx="273.92" cy="280.93" r="2.11"/>
<circle cx="279.75" cy="280.93" r="2.11"/>
<circle cx="285.58" cy="280.93" r="2.11"/>
<circle cx="291.40" cy="280.93" r="2.11"/>
<circle cx="204.00" cy="287.43" r="2.11"/>
<circle cx="209.83" cy="287.43" r="2.11"/>
<circle cx="215.65" cy="287.43" r="2.11"/>
<circle cx="221.48" cy="287.43" r="2.11"/>
<circle cx="227.31" cy="287.43" r="2.11"/>
<circle cx="233.13" cy="287.43" r="2.11"/>
<circle cx="238.96" cy="287.43" r="2.11"/>
<circle cx="244.79" cy="287.43" r="2.11"/>
<circle cx="250.62" cy="287.43" r="2.11"/>
<circle cx="256.44" cy="287.43" r="2.11"/>
<circle cx="262.27" cy="287.43" r="2.11"/>
<circle cx="268.10" cy="287.43" r="2.11"/>
<circle cx="273.92" cy="287.43" r="2.11"/>
<circle cx="279.75" cy="287.43" r="2.11"/>
<circle cx="285.58" cy="287.43" r="2.11"/>
<circle cx="291.40" cy="287.43" r="2.11"/>
<circle cx="204.00" cy="293.92" r="2.11"/>
<circle cx="209.83" cy="293.92" r="2.11"/>
<circle cx="215.65" cy="293.92" r="2.11"/>
<circle cx="221.48" cy="293.92" r="2.11"/>
<circle cx="227.31" cy="293.92" r="2.11"/>
<circle cx="233.13" cy="293.92" r="2.11"/>
<circle cx="238.96" cy="293.92" r="2.11"/>
<circle cx="244.79" cy="293.92" r="2.11"/>
<circle cx="250.62" cy="293.92" r="2.11"/>
<circle cx="256.44" cy="293.92" r="2.11"/>
<circle cx="262.27" cy="293.92" r="2.11"/>
<circle cx="268.10" cy="293.92" r="2.11"/>
<circle cx="273.92" cy="293.92" r="2.11"/>
<circle cx="279.75" cy="293.92" r="2.11"/>
<circle cx="285.58" cy="293.92" r="2.11"/>
<circle cx="291.40" cy="293.92" r="2.11"/>
<circle cx="204.00" cy="300.42" r="2.11"/>
<circle cx="209.83" cy="300.42" r="2.11"/>
<circle cx="215.65" cy="300.42" r="2.11"/>
<circle cx="221.48" cy="300.42" r="2.11"/>
<circle cx="227.31" cy="300.42" r="2.11"/>
<circle cx="233.13" cy="300.42" r="2.11"/>
<circle cx="238.96" cy="300.42" r="2.11"/>
<circle cx="244.79" cy="300.42" r="2.11"/>
<circle cx="250.62" cy="300.42" r="2.11"/>
<circle cx="256.44" cy="300.42" r="2.11"/>
<circle cx="262.27" cy="300.42" r="2.11"/>
<circle cx="268.10" cy="300.42" r="2.11"/>
<circle cx="273.92" cy="300.42" r="2.11"/>
<circle cx="279.75" cy="300.42" r="2.11"/>
<circle cx="285.58" cy="300.42" r="2.11"/>
<circle cx="291.40" cy="300.42" r="2.11"/>
<circle cx="204.00" cy="306.91" r="2.11"/>
<circle cx="209.83" cy="306.91" r="2.11"/>
<circle cx="215.65" cy="306.91" r="2.11"/>
<circle cx="221.48" cy="306.91" r="2.11"/>
<circle cx="227.31" cy="306.91" r="2.11"/>
<circle cx="233.13" cy="306.91" r="2.11"/>
<circle cx="238.96" cy="306.91" r="2.11"/>
<circle cx="244.79" cy="306.91" r="2.11"/>
<circle cx="250.62" cy="306.91" r="2.11"/>
<circle cx="256.44" cy="306.91" r="2.11"/>
<circle cx="262.27" cy="306.91" r="2.11"/>
<circle cx="268.10" cy="306.91" r="2.11"/>
<circle cx="273.92" cy="306.91" r="2.11"/>
<circle cx="279.75" cy="306.91" r="2.11"/>
<circle cx="285.58" cy="306.91" r="2.11"/>
<circle cx="291.40" cy="306.91" r="2.11"/>
<circle cx="204.00" cy="313.40" r="2.11"/>
<circle cx="209.83" cy="313.40" r="2.11"/>
<circle cx="215.65" cy="313.40" r="2.11"/>
<circle cx="221.48" cy="313.40" r="2.11"/>
<circle cx="227.31" cy="313.40" r="2.11"/>
<circle cx="233.13" cy="313.40" r="2.11"/>
<circle cx="238.96" cy="313.40" r="2.11"/>
<circle cx="244.79" cy="313.40" r="2.11"/>
<circle cx="250.62" cy="313.40" r="2.11"/>
<circle cx="256.44" cy="313.40" r="2.11"/>
<circle cx="262.27" cy="313.40" r="2.11"/>
<circle cx="268.10" cy="313.40" r="2.11"/>
<circle cx="273.92" cy="313.40" r="2.11"/>
<circle cx="279.75" cy="313.40" r="2.11"/>
<circle cx="285.58" cy="313.40" r="2.11"/>
<circle cx="291.40" cy="313.40" r="2.11"/>
<circle cx="204.00" cy="319.90" r="2.11"/>
<circle cx="209.83" cy="319.90" r="2.11"/>
<circle cx="215.65" cy="319.90" r="2.11"/>
<circle cx="221.48" cy="319.90" r="2.11"/>
<circle cx="227.31" cy="319.90" r="2.11"/>
<circle cx="233.13" cy="319.90" r="2.11"/>
<circle cx="238.96" cy="319.90" r="2.11"/>
<circle cx="244.79" cy="319.90" r="2.11"/>
<circle cx="250.62" cy="319.90" r="2.11"/>
<circle cx="256.44" cy="319.90" r="2.11"/>
<circle cx="262.27" cy="319.90" r="2.11"/>
<circle cx="268.10" cy="319.90" r="2.11"/>
<circle cx="273.92" cy="319.90" r="2.11"/>
<circle cx="279.75" cy="319.90" r="2.11"/>
<circle cx="285.58" cy="319.90" r="2.11"/>
<circle cx="291.40" cy="319.90" r="2.11"/>
<circle cx="204.00" cy="326.39" r="2.11"/>
<circle cx="209.83" cy="326.39" r="2.11"/>
<circle cx="215.65" cy="326.39" r="2.11"/>
<circle cx="221.48" cy="326.39" r="2.11"/>
<circle cx="227.31" cy="326.39" r="2.11"/>
<circle cx="233.13" cy="326.39" r="2.11"/>
<circle cx="238.96" cy="326.39" r="2.11"/>
<circle cx="244.79" cy="326.39" r="2.11"/>
<circle cx="250.62" cy="326.39" r="2.11"/>
<circle cx="256.44" cy="326.39" r="2.11"/>
<circle cx="262.27" cy="326.39" r="2.11"/>
<circle cx="268.10" cy="326.39" r="2.11"/>
<circle cx="273.92" cy="326.39" r="2.11"/>
<circle cx="279.75" cy="326.39" r="2.11"/>
<circle cx="285.58" cy="326.39" r="2.11"/>
<circle cx="291.40" cy="326.39" r="2.11"/>
<circle cx="204.00" cy="332.89" r="2.11"/>
<circle cx="209.83" cy="332.89" r="2.11"/>
<circle cx="215.65" cy="332.89" r="2.11"/>
<circle cx="221.48" cy="332.89" r="2.11"/>
<circle cx="227.31" cy="332.89" r="2.11"/>
<circle cx="233.13" cy="332.89" r="2.11"/>
<circle cx="238.96" cy="332.89" r="2.11"/>
<circle cx="244.79" cy="332.89" r="2.11"/>
<circle cx="250.62" cy="332.89" r="2.11"/>
<circle cx="256.44" cy="332.89" r="2.11"/>
<circle cx="262.27" cy="332.89" r="2.11"/>
<circle cx="268.10" cy="332.89" r="2.11"/>
<circle cx="273.92" cy="332.89" r="2.11"/>
<circle cx="279.75" cy="332.89" r="2.11"/>
<circle cx="285.58" cy="332.89" r="2.11"/>
<circle cx="291.40" cy="332.89" r="2.11"/>
</g>
</g>
<g>
<path d="M331.20 190.25H402.90M331.20 197.42H402.90M331.20 204.59H402.90M331.20 211.76H402.90M331.20 218.93H402.90M331.20 226.10H402.90M331.20 233.27H402.90M331.20 240.44H402.90M331.20 247.61H402.90M331.20 254.78H402.90M331.20 261.95H402.90M331.20 269.12H402.90M331.20 276.29H402.90M331.20 283.46H402.90M331.20 290.63H402.90M331.20 297.80H402.90M331.20 304.97H402.90M331.20 312.14H402.90M331.20 319.31H402.90M331.20 326.48H402.90M331.20 333.65H402.90" stroke="#222" stroke-width="0.54" fill="none"/>
<g fill="#fff" stroke="#222" stroke-width="0.47">
<circle cx="334.80" cy="190.25" r="2.23"/>
<circle cx="341.25" cy="190.25" r="2.23"/>
<circle cx="347.70" cy="190.25" r="2.23"/>
<circle cx="354.15" cy="190.25" r="2.23"/>
<circle cx="360.60" cy="190.25" r="2.23"/>
<circle cx="367.05" cy="190.25" r="2.23"/>
<circle cx="373.50" cy="190.25" r="2.23"/>
<circle cx="379.95" cy="190.25" r="2.23"/>
<circle cx="386.40" cy="190.25" r="2.23"/>
<circle cx="392.85" cy="190.25" r="2.23"/>
<circle cx="399.30" cy="190.25" r="2.23"/>
<circle cx="334.80" cy="197.42" r="2.23"/>
<circle cx="341.25" cy="197.42" r="2.23"/>
<circle cx="347.70" cy="197.42" r="2.23"/>
<circle cx="354.15" cy="197.42" r="2.23"/>
<circle cx="360.60" cy="197.42" r="2.23"/>
<circle cx="367.05" cy="197.42" r="2.23"/>
<circle cx="373.50" cy="197.42" r="2.23"/>
<circle cx="379.95" cy="197.42" r="2.23"/>
<circle cx="386.40" cy="197.42" r="2.23"/>
<circle cx="392.85" cy="197.42" r="2.23"/>
<circle cx="399.30" cy="197.42" r="2.23"/>
<circle cx="334.80" cy="204.59" r="2.23"/>
<circle cx="341.25" cy="204.59" r="2.23"/>
<circle cx="347.70" cy="204.59" r="2.23"/>
<circle cx="354.15" cy="204.59" r="2.23"/>
<circle cx="360.60" cy="204.59" r="2.23"/>
<circle cx="367.05" cy="204.59" r="2.23"/>
<circle cx="373.50" cy="204.59" r="2.23"/>
<circle cx="379.95" cy="204.59" r="2.23"/>
<circle cx="386.40" cy="204.59" r="2.23"/>
<circle cx="392.85" cy="204.59" r="2.23"/>
<circle cx="399.30" cy="204.59" r="2.23"/>
<circle cx="334.80" cy="211.76" r="2.23"/>
<circle cx="341.25" cy="211.76" r="2.23"/>
<circle cx="347.70" cy="211.76" r="2.23"/>
<circle cx="354.15" cy="211.76" r="2.23"/>
<circle cx="360.60" cy="211.76" r="2.23"/>
<circle cx="367.05" cy="211.76" r="2.23"/>
<circle cx="373.50" cy="211.76" r="2.23"/>
<circle cx="379.95" cy="211.76" r="2.23"/>
<circle cx="386.40" cy="211.76" r="2.23"/>
<circle cx="392.85" cy="211.76" r="2.23"/>
<circle cx="399.30" cy="211.76" r="2.23"/>
<circle cx="334.80" cy="218.93" r="2.23"/>
<circle cx="341.25" cy="218.93" r="2.23"/>
<circle cx="347.70" cy="218.93" r="2.23"/>
<circle cx="354.15" cy="218.93" r="2.23"/>
<circle cx="360.60" cy="218.93" r="2.23"/>
<circle cx="367.05" cy="218.93" r="2.23"/>
<circle cx="373.50" cy="218.93" r="2.23"/>
<circle cx="379.95" cy="218.93" r="2.23"/>
<circle cx="386.40" cy="218.93" r="2.23"/>
<circle cx="392.85" cy="218.93" r="2.23"/>
<circle cx="399.30" cy="218.93" r="2.23"/>
<circle cx="334.80" cy="226.10" r="2.23"/>
<circle cx="341.25" cy="226.10" r="2.23"/>
<circle cx="347.70" cy="226.10" r="2.23"/>
<circle cx="354.15" cy="226.10" r="2.23"/>
<circle cx="360.60" cy="226.10" r="2.23"/>
<circle cx="367.05" cy="226.10" r="2.23"/>
<circle cx="373.50" cy="226.10" r="2.23"/>
<circle cx="379.95" cy="226.10" r="2.23"/>
<circle cx="386.40" cy="226.10" r="2.23"/>
<circle cx="392.85" cy="226.10" r="2.23"/>
<circle cx="399.30" cy="226.10" r="2.23"/>
<circle cx="334.80" cy="233.27" r="2.23"/>
<circle cx="341.25" cy="233.27" r="2.23"/>
<circle cx="347.70" cy="233.27" r="2.23"/>
<circle cx="354.15" cy="233.27" r="2.23"/>
<circle cx="360.60" cy="233.27" r="2.23"/>
<circle cx="367.05" cy="233.27" r="2.23"/>
<circle cx="373.50" cy="233.27" r="2.23"/>
<circle cx="379.95" cy="233.27" r="2.23"/>
<circle cx="386.40" cy="233.27" r="2.23"/>
<circle cx="392.85" cy="233.27" r="2.23"/>
<circle cx="399.30" cy="233.27" r="2.23"/>
<circle cx="334.80" cy="240.44" r="2.23"/>
<circle cx="341.25" cy="240.44" r="2.23"/>
<circle cx="347.70" cy="240.44" r="2.23"/>
<circle cx="354.15" cy="240.44" r="2.23"/>
<circle cx="360.60" cy="240.44" r="2.23"/>
<circle cx="367.05" cy="240.44" r="2.23"/>
<circle cx="373.50" cy="240.44" r="2.23"/>
<circle cx="379.95" cy="240.44" r="2.23"/>
<circle cx="386.40" cy="240.44" r="2.23"/>
<circle cx="392.85" cy="240.44" r="2.23"/>
<circle cx="399.30" cy="240.44" r="2.23"/>
<circle cx="334.80" cy="247.61" r="2.23"/>
<circle cx="341.25" cy="247.61" r="2.23"/>
<circle cx="347.70" cy="247.61" r="2.23"/>
<circle cx="354.15" cy="247.61" r="2.23"/>
<circle cx="360.60" cy="247.61" r="2.23"/>
<circle cx="367.05" cy="247.61" r="2.23"/>
<circle cx="373.50" cy="247.61" r="2.23"/>
<circle cx="379.95" cy="247.61" r="2.23"/>
<circle cx="386.40" cy="247.61" r="2.23"/>
<circle cx="392.85" cy="247.61" r="2.23"/>
<circle cx="399.30" cy="247.61" r="2.23"/>
<circle cx="334.80" cy="254.78" r="2.23"/>
<circle cx="341.25" cy="254.78" r="2.23"/>
<circle cx="347.70" cy="254.78" r="2.23"/>
<circle cx="354.15" cy="254.78" r="2.23"/>
<circle cx="360.60" cy="254.78" r="2.23"/>
<circle cx="367.05" cy="254.78" r="2.23"/>
<circle cx="373.50" cy="254.78" r="2.23"/>
<circle cx="379.95" cy="254.78" r="2.23"/>
<circle cx="386.40" cy="254.78" r="2.23"/>
<circle cx="392.85" cy="254.78" r="2.23"/>
<circle cx="399.30" cy="254.78" r="2.23"/>
<circle cx="334.80" cy="261.95" r="2.23"/>
<circle cx="341.25" cy="261.95" r="2.23"/>
<circle cx="347.70" cy="261.95" r="2.23"/>
<circle cx="354.15" cy="261.95" r="2.23"/>
<circle cx="360.60" cy="261.95" r="2.23"/>
<circle cx="367.05" cy="261.95" r="2.23"/>
<circle cx="373.50" cy="261.95" r="2.23"/>
<circle cx="379.95" cy="261.95" r="2.23"/>
<circle cx="386.40" cy="261.95" r="2.23"/>
<circle cx="392.85" cy="261.95" r="2.23"/>
<circle cx="399.30" cy="261.95" r="2.23"/>
<circle cx="334.80" cy="269.12" r="2.23"/>
<circle cx="341.25" cy="269.12" r="2.23"/>
<circle cx="347.70" cy="269.12" r="2.23"/>
<circle cx="354.15" cy="269.12" r="2.23"/>
<circle cx="360.60" cy="269.12" r="2.23"/>
<circle cx="367.05" cy="269.12" r="2.23"/>
<circle cx="373.50" cy="269.12" r="2.23"/>
<circle cx="379.95" cy="269.12" r="2.23"/>
<circle cx="386.40" cy="269.12" r="2.23"/>
<circle cx="392.85" cy="269.12" r="2.23"/>
<circle cx="399.30" cy="269.12" r="2.23"/>
<circle cx="334.80" cy="276.29" r="2.23"/>
<circle cx="341.25" cy="276.29" r="2.23"/>
<circle cx="347.70" cy="276.29" r="2.23"/>
<circle cx="354.15" cy="276.29" r="2.23"/>
<circle cx="360.60" cy="276.29" r="2.23"/>
<circle cx="367.05" cy="276.29" r="2.23"/>
<circle cx="373.50" cy="276.29" r="2.23"/>
<circle cx="379.95" cy="276.29" r="2.23"/>
<circle cx="386.40" cy="276.29" r="2.23"/>
<circle cx="392.85" cy="276.29" r="2.23"/>
<circle cx="399.30" cy="276.29" r="2.23"/>
<circle cx="334.80" cy="283.46" r="2.23"/>
<circle cx="341.25" cy="283.46" r="2.23"/>
<circle cx="347.70" cy="283.46" r="2.23"/>
<circle cx="354.15" cy="283.46" r="2.23"/>
<circle cx="360.60" cy="283.46" r="2.23"/>
<circle cx="367.05" cy="283.46" r="2.23"/>
<circle cx="373.50" cy="283.46" r="2.23"/>
<circle cx="379.95" cy="283.46" r="2.23"/>
<circle cx="386.40" cy="283.46" r="2.23"/>
<circle cx="399.30" cy="283.46" r="2.23"/>
<circle cx="334.80" cy="290.63" r="2.23"/>
<circle cx="341.25" cy="290.63" r="2.23"/>
<circle cx="347.70" cy="290.63" r="2.23"/>
<circle cx="354.15" cy="290.63" r="2.23"/>
<circle cx="360.60" cy="290.63" r="2.23"/>
<circle cx="367.05" cy="290.63" r="2.23"/>
<circle cx="373.50" cy="290.63" r="2.23"/>
<circle cx="379.95" cy="290.63" r="2.23"/>
<circle cx="386.40" cy="290.63" r="2.23"/>
<circle cx="399.30" cy="290.63" r="2.23"/>
<circle cx="334.80" cy="297.80" r="2.23"/>
<circle cx="341.25" cy="297.80" r="2.23"/>
<circle cx="347.70" cy="297.80" r="2.23"/>
<circle cx="354.15" cy="297.80" r="2.23"/>
<circle cx="360.60" cy="297.80" r="2.23"/>
<circle cx="367.05" cy="297.80" r="2.23"/>
<circle cx="373.50" cy="297.80" r="2.23"/>
<circle cx="379.95" cy="297.80" r="2.23"/>
<circle cx="386.40" cy="297.80" r="2.23"/>
<circle cx="399.30" cy="297.80" r="2.23"/>
<circle cx="334.80" cy="304.97" r="2.23"/>
<circle cx="341.25" cy="304.97" r="2.23"/>
<circle cx="354.15" cy="304.97" r="2.23"/>
<circle cx="360.60" cy="304.97" r="2.23"/>
<circle cx="367.05" cy="304.97" r="2.23"/>
<circle cx="373.50" cy="304.97" r="2.23"/>
<circle cx="379.95" cy="304.97" r="2.23"/>
<circle cx="386.40" cy="304.97" r="2.23"/>
<circle cx="392.85" cy="304.97" r="2.23"/>
<circle cx="399.30" cy="304.97" r="2.23"/>
<circle cx="334.80" cy="312.14" r="2.23"/>
<circle cx="341.25" cy="312.14" r="2.23"/>
<circle cx="354.15" cy="312.14" r="2.23"/>
<circle cx="360.60" cy="312.14" r="2.23"/>
<circle cx="367.05" cy="312.14" r="2.23"/>
<circle cx="373.50" cy="312.14" r="2.23"/>
<circle cx="379.95" cy="312.14" r="2.23"/>
<circle cx="386.40" cy="312.14" r="2.23"/>
<circle cx="392.85" cy="312.14" r="2.23"/>
<circle cx="399.30" cy="312.14" r="2.23"/>
<circle cx="334.80" cy="319.31" r="2.23"/>
<circle cx="341.25" cy="319.31" r="2.23"/>
<circle cx="347.70" cy="319.31" r="2.23"/>
<circle cx="354.15" cy="319.31" r="2.23"/>
<circle cx="360.60" cy="319.31" r="2.23"/>
<circle cx="367.05" cy="319.31" r="2.23"/>
<circle cx="379.95" cy="319.31" r="2.23"/>
<circle cx="386.40" cy="319.31" r="2.23"/>
<circle cx="392.85" cy="319.31" r="2.23"/>
<circle cx="334.80" cy="326.48" r="2.23"/>
<circle cx="341.25" cy="326.48" r="2.23"/>
<circle cx="347.70" cy="326.48" r="2.23"/>
<circle cx="354.15" cy="326.48" r="2.23"/>
<circle cx="360.60" cy="326.48" r="2.23"/>
<circle cx="367.05" cy="326.48" r="2.23"/>
<circle cx="379.95" cy="326.48" r="2.23"/>
<circle cx="392.85" cy="326.48" r="2.23"/>
<circle cx="399.30" cy="326.48" r="2.23"/>
<circle cx="334.80" cy="333.65" r="2.23"/>
<circle cx="341.25" cy="333.65" r="2.23"/>
<circle cx="347.70" cy="333.65" r="2.23"/>
<circle cx="360.60" cy="333.65" r="2.23"/>
<circle cx="367.05" cy="333.65" r="2.23"/>
<circle cx="373.50" cy="333.65" r="2.23"/>
<circle cx="379.95" cy="333.65" r="2.23"/>
<circle cx="386.40" cy="333.65" r="2.23"/>
<circle cx="392.85" cy="333.65" r="2.23"/>
</g>
<g fill="#000">
<circle cx="392.85" cy="283.46" r="2.45"/>
<circle cx="392.85" cy="290.63" r="2.45"/>
<circle cx="392.85" cy="297.80" r="2.45"/>
<circle cx="347.70" cy="304.97" r="2.45"/>
<circle cx="347.70" cy="312.14" r="2.45"/>
<circle cx="373.50" cy="319.31" r="2.45"/>
<circle cx="399.30" cy="319.31" r="2.45"/>
<circle cx="373.50" cy="326.48" r="2.45"/>
<circle cx="386.40" cy="326.48" r="2.45"/>
<circle cx="354.15" cy="333.65" r="2.45"/>
<circle cx="399.30" cy="333.65" r="2.45"/>
</g>
</g>
<g>
<path d="M412.60 189.30H484.30M412.60 196.49H484.30M412.60 203.67H484.30M412.60 210.86H484.30M412.60 218.04H484.30M412.60 225.23H484.30M412.60 232.42H484.30M412.60 239.60H484.30M412.60 246.79H484.30M412.60 253.97H484.30M412.60 261.16H484.30M412.60 268.35H484.30M412.60 275.53H484.30M412.60 282.72H484.30M412.60 289.90H484.30M412.60 297.09H484.30M412.60 304.28H484.30M412.60 311.46H484.30M412.60 318.65H484.30M412.60 325.83H484.30M412.60 333.02H484.30M412.60 340.21H484.30M412.60 347.39H484.30" stroke="#222" stroke-width="0.54" fill="none"/>
<g fill="#fff" stroke="#222" stroke-width="0.47">
<circle cx="435.55" cy="189.30" r="2.23"/>
<circle cx="461.35" cy="196.49" r="2.23"/>
<circle cx="480.70" cy="203.67" r="2.23"/>
</g>
<g fill="#000">
<circle cx="416.20" cy="189.30" r="2.33"/>
<circle cx="422.65" cy="189.30" r="2.33"/>
<circle cx="429.10" cy="189.30" r="2.33"/>
<circle cx="442.00" cy="189.30" r="2.33"/>
<circle cx="448.45" cy="189.30" r="2.33"/>
<circle cx="454.90" cy="189.30" r="2.33"/>
<circle cx="461.35" cy="189.30" r="2.33"/>
<circle cx="467.80" cy="189.30" r="2.33"/>
<circle cx="474.25" cy="189.30" r="2.33"/>
<circle cx="480.70" cy="189.30" r="2.33"/>
<circle cx="416.20" cy="196.49" r="2.33"/>
<circle cx="422.65" cy="196.49" r="2.33"/>
<circle cx="429.10" cy="196.49" r="2.33"/>
<circle cx="435.55" cy="196.49" r="2.33"/>
<circle cx="442.00" cy="196.49" r="2.33"/>
<circle cx="448.45" cy="196.49" r="2.33"/>
<circle cx="454.90" cy="196.49" r="2.33"/>
<circle cx="467.80" cy="196.49" r="2.33"/>
<circle cx="474.25" cy="196.49" r="2.33"/>
<circle cx="480.70" cy="196.49" r="2.33"/>
<circle cx="416.20" cy="203.67" r="2.33"/>
<circle cx="422.65" cy="203.67" r="2.33"/>
<circle cx="429.10" cy="203.67" r="2.33"/>
<circle cx="435.55" cy="203.67" r="2.33"/>
<circle cx="442.00" cy="203.67" r="2.33"/>
<circle cx="448.45" cy="203.67" r="2.33"/>
<circle cx="454.90" cy="203.67" r="2.33"/>
<circle cx="461.35" cy="203.67" r="2.33"/>
<circle cx="467.80" cy="203.67" r="2.33"/>
<circle cx="474.25" cy="203.67" r="2.33"/>
<circle cx="416.20" cy="210.86" r="2.33"/>
<circle cx="422.65" cy="210.86" r="2.33"/>
<circle cx="429.10" cy="210.86" r="2.33"/>
<circle cx="435.55" cy="210.86" r="2.33"/>
<circle cx="442.00" cy="210.86" r="2.33"/>
<circle cx="448.45" cy="210.86" r="2.33"/>
<circle cx="454.90" cy="210.86" r="2.33"/>
<circle cx="461.35" cy="210.86" r="2.33"/>
<circle cx="467.80" cy="210.86" r="2.33"/>
<circle cx="474.25" cy="210.86" r="2.33"/>
<circle cx="480.70" cy="210.86" r="2.33"/>
<circle cx="416.20" cy="218.04" r="2.33"/>
<circle cx="422.65" cy="218.04" r="2.33"/>
<circle cx="429.10" cy="218.04" r="2.33"/>
<circle cx="435.55" cy="218.04" r="2.33"/>
<circle cx="442.00" cy="218.04" r="2.33"/>
<circle cx="448.45" cy="218.04" r="2.33"/>
<circle cx="454.90" cy="218.04" r="2.33"/>
<circle cx="461.35" cy="218.04" r="2.33"/>
<circle cx="467.80" cy="218.04" r="2.33"/>
<circle cx="474.25" cy="218.04" r="2.33"/>
<circle cx="480.70" cy="218.04" r="2.33"/>
<circle cx="416.20" cy="225.23" r="2.33"/>
<circle cx="422.65" cy="225.23" r="2.33"/>
<circle cx="429.10" cy="225.23" r="2.33"/>
<circle cx="435.55" cy="225.23" r="2.33"/>
<circle cx="442.00" cy="225.23" r="2.33"/>
<circle cx="448.45" cy="225.23" r="2.33"/>
<circle cx="454.90" cy="225.23" r="2.33"/>
<circle cx="461.35" cy="225.23" r="2.33"/>
<circle cx="467.80" cy="225.23" r="2.33"/>
<circle cx="474.25" cy="225.23" r="2.33"/>
<circle cx="480.70" cy="225.23" r="2.33"/>
<circle cx="416.20" cy="232.42" r="2.33"/>
<circle cx="422.65" cy="232.42" r="2.33"/>
<circle cx="429.10" cy="232.42" r="2.33"/>
<circle cx="435.55" cy="232.42" r="2.33"/>
<circle cx="442.00" cy="232.42" r="2.33"/>
<circle cx="448.45" cy="232.42" r="2.33"/>
<circle cx="454.90" cy="232.42" r="2.33"/>
<circle cx="461.35" cy="232.42" r="2.33"/>
<circle cx="467.80" cy="232.42" r="2.33"/>
<circle cx="474.25" cy="232.42" r="2.33"/>
<circle cx="480.70" cy="232.42" r="2.33"/>
<circle cx="416.20" cy="239.60" r="2.33"/>
<circle cx="422.65" cy="239.60" r="2.33"/>
<circle cx="429.10" cy="239.60" r="2.33"/>
<circle cx="435.55" cy="239.60" r="2.33"/>
<circle cx="442.00" cy="239.60" r="2.33"/>
<circle cx="448.45" cy="239.60" r="2.33"/>
<circle cx="454.90" cy="239.60" r="2.33"/>
<circle cx="461.35" cy="239.60" r="2.33"/>
<circle cx="467.80" cy="239.60" r="2.33"/>
<circle cx="474.25" cy="239.60" r="2.33"/>
<circle cx="480.70" cy="239.60" r="2.33"/>
<circle cx="416.20" cy="246.79" r="2.33"/>
<circle cx="422.65" cy="246.79" r="2.33"/>
<circle cx="429.10" cy="246.79" r="2.33"/>
<circle cx="435.55" cy="246.79" r="2.33"/>
<circle cx="442.00" cy="246.79" r="2.33"/>
<circle cx="448.45" cy="246.79" r="2.33"/>
<circle cx="454.90" cy="246.79" r="2.33"/>
<circle cx="461.35" cy="246.79" r="2.33"/>
<circle cx="467.80" cy="246.79" r="2.33"/>
<circle cx="474.25" cy="246.79" r="2.33"/>
<circle cx="480.70" cy="246.79" r="2.33"/>
<circle cx="416.20" cy="253.97" r="2.33"/>
<circle cx="422.65" cy="253.97" r="2.33"/>
<circle cx="429.10" cy="253.97" r="2.33"/>
<circle cx="435.55" cy="253.97" r="2.33"/>
<circle cx="442.00" cy="253.97" r="2.33"/>
<circle cx="448.45" cy="253.97" r="2.33"/>
<circle cx="454.90" cy="253.97" r="2.33"/>
<circle cx="461.35" cy="253.97" r="2.33"/>
<circle cx="467.80" cy="253.97" r="2.33"/>
<circle cx="474.25" cy="253.97" r="2.33"/>
<circle cx="480.70" cy="253.97" r="2.33"/>
<circle cx="416.20" cy="261.16" r="2.33"/>
<circle cx="422.65" cy="261.16" r="2.33"/>
<circle cx="429.10" cy="261.16" r="2.33"/>
<circle cx="435.55" cy="261.16" r="2.33"/>
<circle cx="442.00" cy="261.16" r="2.33"/>
<circle cx="448.45" cy="261.16" r="2.33"/>
<circle cx="454.90" cy="261.16" r="2.33"/>
<circle cx="461.35" cy="261.16" r="2.33"/>
<circle cx="467.80" cy="261.16" r="2.33"/>
<circle cx="474.25" cy="261.16" r="2.33"/>
<circle cx="480.70" cy="261.16" r="2.33"/>
<circle cx="416.20" cy="268.35" r="2.33"/>
<circle cx="422.65" cy="268.35" r="2.33"/>
<circle cx="429.10" cy="268.35" r="2.33"/>
<circle cx="435.55" cy="268.35" r="2.33"/>
<circle cx="442.00" cy="268.35" r="2.33"/>
<circle cx="448.45" cy="268.35" r="2.33"/>
<circle cx="454.90" cy="268.35" r="2.33"/>
<circle cx="461.35" cy="268.35" r="2.33"/>
<circle cx="467.80" cy="268.35" r="2.33"/>
<circle cx="474.25" cy="268.35" r="2.33"/>
<circle cx="480.70" cy="268.35" r="2.33"/>
<circle cx="416.20" cy="275.53" r="2.33"/>
<circle cx="422.65" cy="275.53" r="2.33"/>
<circle cx="429.10" cy="275.53" r="2.33"/>
<circle cx="435.55" cy="275.53" r="2.33"/>
<circle cx="442.00" cy="275.53" r="2.33"/>
<circle cx="448.45" cy="275.53" r="2.33"/>
<circle cx="454.90" cy="275.53" r="2.33"/>
<circle cx="461.35" cy="275.53" r="2.33"/>
<circle cx="467.80" cy="275.53" r="2.33"/>
<circle cx="474.25" cy="275.53" r="2.33"/>
<circle cx="480.70" cy="275.53" r="2.33"/>
<circle cx="416.20" cy="282.72" r="2.33"/>
<circle cx="422.65" cy="282.72" r="2.33"/>
<circle cx="429.10" cy="282.72" r="2.33"/>
<circle cx="435.55" cy="282.72" r="2.33"/>
<circle cx="442.00" cy="282.72" r="2.33"/>
<circle cx="448.45" cy="282.72" r="2.33"/>
<circle cx="454.90" cy="282.72" r="2.33"/>
<circle cx="461.35" cy="282.72" r="2.33"/>
<circle cx="467.80" cy="282.72" r="2.33"/>
<circle cx="474.25" cy="282.72" r="2.33"/>
<circle cx="480.70" cy="282.72" r="2.33"/>
<circle cx="416.20" cy="289.90" r="2.33"/>
<circle cx="422.65" cy="289.90" r="2.33"/>
<circle cx="429.10" cy="289.90" r="2.33"/>
<circle cx="435.55" cy="289.90" r="2.33"/>
<circle cx="442.00" cy="289.90" r="2.33"/>
<circle cx="448.45" cy="289.90" r="2.33"/>
<circle cx="454.90" cy="289.90" r="2.33"/>
<circle cx="461.35" cy="289.90" r="2.33"/>
<circle cx="467.80" cy="289.90" r="2.33"/>
<circle cx="474.25" cy="289.90" r="2.33"/>
<circle cx="480.70" cy="289.90" r="2.33"/>
<circle cx="416.20" cy="297.09" r="2.33"/>
<circle cx="422.65" cy="297.09" r="2.33"/>
<circle cx="429.10" cy="297.09" r="2.33"/>
<circle cx="435.55" cy="297.09" r="2.33"/>
<circle cx="442.00" cy="297.09" r="2.33"/>
<circle cx="448.45" cy="297.09" r="2.33"/>
<circle cx="454.90" cy="297.09" r="2.33"/>
<circle cx="461.35" cy="297.09" r="2.33"/>
<circle cx="467.80" cy="297.09" r="2.33"/>
<circle cx="474.25" cy="297.09" r="2.33"/>
<circle cx="480.70" cy="297.09" r="2.33"/>
<circle cx="416.20" cy="304.28" r="2.33"/>
<circle cx="422.65" cy="304.28" r="2.33"/>
<circle cx="429.10" cy="304.28" r="2.33"/>
<circle cx="435.55" cy="304.28" r="2.33"/>
<circle cx="442.00" cy="304.28" r="2.33"/>
<circle cx="448.45" cy="304.28" r="2.33"/>
<circle cx="454.90" cy="304.28" r="2.33"/>
<circle cx="461.35" cy="304.28" r="2.33"/>
<circle cx="467.80" cy="304.28" r="2.33"/>
<circle cx="474.25" cy="304.28" r="2.33"/>
<circle cx="480.70" cy="304.28" r="2.33"/>
<circle cx="416.20" cy="311.46" r="2.33"/>
<circle cx="422.65" cy="311.46" r="2.33"/>
<circle cx="429.10" cy="311.46" r="2.33"/>
<circle cx="435.55" cy="311.46" r="2.33"/>
<circle cx="442.00" cy="311.46" r="2.33"/>
<circle cx="448.45" cy="311.46" r="2.33"/>
<circle cx="454.90" cy="311.46" r="2.33"/>
<circle cx="461.35" cy="311.46" r="2.33"/>
<circle cx="467.80" cy="311.46" r="2.33"/>
<circle cx="474.25" cy="311.46" r="2.33"/>
<circle cx="480.70" cy="311.46" r="2.33"/>
<circle cx="416.20" cy="318.65" r="2.33"/>
<circle cx="422.65" cy="318.65" r="2.33"/>
<circle cx="429.10" cy="318.65" r="2.33"/>
<circle cx="435.55" cy="318.65" r="2.33"/>
<circle cx="442.00" cy="318.65" r="2.33"/>
<circle cx="448.45" cy="318.65" r="2.33"/>
<circle cx="454.90" cy="318.65" r="2.33"/>
<circle cx="461.35" cy="318.65" r="2.33"/>
<circle cx="467.80" cy="318.65" r="2.33"/>
<circle cx="474.25" cy="318.65" r="2.33"/>
<circle cx="480.70" cy="318.65" r="2.33"/>
<circle cx="416.20" cy="325.83" r="2.33"/>
<circle cx="422.65" cy="325.83" r="2.33"/>
<circle cx="429.10" cy="325.83" r="2.33"/>
<circle cx="435.55" cy="325.83" r="2.33"/>
<circle cx="442.00" cy="325.83" r="2.33"/>
<circle cx="448.45" cy="325.83" r="2.33"/>
<circle cx="454.90" cy="325.83" r="2.33"/>
<circle cx="461.35" cy="325.83" r="2.33"/>
<circle cx="467.80" cy="325.83" r="2.33"/>
<circle cx="474.25" cy="325.83" r="2.33"/>
<circle cx="480.70" cy="325.83" r="2.33"/>
<circle cx="416.20" cy="333.02" r="2.33"/>
<circle cx="422.65" cy="333.02" r="2.33"/>
<circle cx="429.10" cy="333.02" r="2.33"/>
<circle cx="435.55" cy="333.02" r="2.33"/>
<circle cx="442.00" cy="333.02" r="2.33"/>
<circle cx="448.45" cy="333.02" r="2.33"/>
<circle cx="454.90" cy="333.02" r="2.33"/>
<circle cx="461.35" cy="333.02" r="2.33"/>
<circle cx="467.80" cy="333.02" r="2.33"/>
<circle cx="474.25" cy="333.02" r="2.33"/>
<circle cx="480.70" cy="333.02" r="2.33"/>
<circle cx="416.20" cy="340.21" r="2.33"/>
<circle cx="422.65" cy="340.21" r="2.33"/>
<circle cx="429.10" cy="340.21" r="2.33"/>
<circle cx="435.55" cy="340.21" r="2.33"/>
<circle cx="442.00" cy="340.21" r="2.33"/>
<circle cx="448.45" cy="340.21" r="2.33"/>
<circle cx="454.90" cy="340.21" r="2.33"/>
<circle cx="461.35" cy="340.21" r="2.33"/>
<circle cx="467.80" cy="340.21" r="2.33"/>
<circle cx="474.25" cy="340.21" r="2.33"/>
<circle cx="480.70" cy="340.21" r="2.33"/>
<circle cx="416.20" cy="347.39" r="2.33"/>
<circle cx="422.65" cy="347.39" r="2.33"/>
<circle cx="429.10" cy="347.39" r="2.33"/>
<circle cx="435.55" cy="347.39" r="2.33"/>
<circle cx="442.00" cy="347.39" r="2.33"/>
<circle cx="448.45" cy="347.39" r="2.33"/>
<circle cx="454.90" cy="347.39" r="2.33"/>
<circle cx="461.35" cy="347.39" r="2.33"/>
<circle cx="467.80" cy="347.39" r="2.33"/>
<circle cx="474.25" cy="347.39" r="2.33"/>
<circle cx="480.70" cy="347.39" r="2.33"/>
</g>
</g>
<g>
<path d="M525.80 186.60H601.20M525.80 193.50H601.20M525.80 200.40H601.20M525.80 207.30H601.20M525.80 214.20H601.20M525.80 221.10H601.20M525.80 228.00H601.20M525.80 234.90H601.20M525.80 241.80H601.20M525.80 248.70H601.20M525.80 255.60H601.20M525.80 262.50H601.20M525.80 269.40H601.20M525.80 276.30H601.20M525.80 283.20H601.20M525.80 290.10H601.20M525.80 297.00H601.20M525.80 303.90H601.20M525.80 310.80H601.20M525.80 317.70H601.20M525.80 324.60H601.20M525.80 331.50H601.20M525.80 338.40H601.20M525.80 345.30H601.20" stroke="#222" stroke-width="0.51" fill="none"/>
<g fill="#fff" stroke="#222" stroke-width="0.45">
<circle cx="529.40" cy="186.60" r="2.14"/>
<circle cx="535.60" cy="186.60" r="2.14"/>
<circle cx="541.80" cy="186.60" r="2.14"/>
<circle cx="548.00" cy="186.60" r="2.14"/>
<circle cx="554.20" cy="186.60" r="2.14"/>
<circle cx="560.40" cy="186.60" r="2.14"/>
<circle cx="566.60" cy="186.60" r="2.14"/>
<circle cx="572.80" cy="186.60" r="2.14"/>
<circle cx="579.00" cy="186.60" r="2.14"/>
<circle cx="585.20" cy="186.60" r="2.14"/>
<circle cx="591.40" cy="186.60" r="2.14"/>
<circle cx="597.60" cy="186.60" r="2.14"/>
<circle cx="529.40" cy="193.50" r="2.14"/>
<circle cx="535.60" cy="193.50" r="2.14"/>
<circle cx="541.80" cy="193.50" r="2.14"/>
<circle cx="548.00" cy="193.50" r="2.14"/>
<circle cx="554.20" cy="193.50" r="2.14"/>
<circle cx="560.40" cy="193.50" r="2.14"/>
<circle cx="566.60" cy="193.50" r="2.14"/>
<circle cx="572.80" cy="193.50" r="2.14"/>
<circle cx="579.00" cy="193.50" r="2.14"/>
<circle cx="585.20" cy="193.50" r="2.14"/>
<circle cx="591.40" cy="193.50" r="2.14"/>
<circle cx="597.60" cy="193.50" r="2.14"/>
<circle cx="529.40" cy="200.40" r="2.14"/>
<circle cx="535.60" cy="200.40" r="2.14"/>
<circle cx="541.80" cy="200.40" r="2.14"/>
<circle cx="548.00" cy="200.40" r="2.14"/>
<circle cx="554.20" cy="200.40" r="2.14"/>
<circle cx="560.40" cy="200.40" r="2.14"/>
<circle cx="566.60" cy="200.40" r="2.14"/>
<circle cx="572.80" cy="200.40" r="2.14"/>
<circle cx="579.00" cy="200.40" r="2.14"/>
<circle cx="585.20" cy="200.40" r="2.14"/>
<circle cx="591.40" cy="200.40" r="2.14"/>
<circle cx="597.60" cy="200.40" r="2.14"/>
<circle cx="529.40" cy="207.30" r="2.14"/>
<circle cx="535.60" cy="207.30" r="2.14"/>
<circle cx="541.80" cy="207.30" r="2.14"/>
<circle cx="548.00" cy="207.30" r="2.14"/>
<circle cx="554.20" cy="207.30" r="2.14"/>
<circle cx="560.40" cy="207.30" r="2.14"/>
<circle cx="566.60" cy="207.30" r="2.14"/>
<circle cx="572.80" cy="207.30" r="2.14"/>
<circle cx="579.00" cy="207.30" r="2.14"/>
<circle cx="585.20" cy="207.30" r="2.14"/>
<circle cx="591.40" cy="207.30" r="2.14"/>
<circle cx="597.60" cy="207.30" r="2.14"/>
<circle cx="529.40" cy="214.20" r="2.14"/>
<circle cx="535.60" cy="214.20" r="2.14"/>
<circle cx="541.80" cy="214.20" r="2.14"/>
<circle cx="548.00" cy="214.20" r="2.14"/>
<circle cx="554.20" cy="214.20" r="2.14"/>
<circle cx="560.40" cy="214.20" r="2.14"/>
<circle cx="566.60" cy="214.20" r="2.14"/>
<circle cx="572.80" cy="214.20" r="2.14"/>
<circle cx="579.00" cy="214.20" r="2.14"/>
<circle cx="585.20" cy="214.20" r="2.14"/>
<circle cx="591.40" cy="214.20" r="2.14"/>
<circle cx="597.60" cy="214.20" r="2.14"/>
<circle cx="529.40" cy="221.10" r="2.14"/>
<circle cx="535.60" cy="221.10" r="2.14"/>
<circle cx="541.80" cy="221.10" r="2.14"/>
<circle cx="548.00" cy="221.10" r="2.14"/>
<circle cx="554.20" cy="221.10" r="2.14"/>
<circle cx="560.40" cy="221.10" r="2.14"/>
<circle cx="566.60" cy="221.10" r="2.14"/>
<circle cx="572.80" cy="221.10" r="2.14"/>
<circle cx="579.00" cy="221.10" r="2.14"/>
<circle cx="585.20" cy="221.10" r="2.14"/>
<circle cx="591.40" cy="221.10" r="2.14"/>
<circle cx="597.60" cy="221.10" r="2.14"/>
<circle cx="529.40" cy="228.00" r="2.14"/>
<circle cx="535.60" cy="228.00" r="2.14"/>
<circle cx="541.80" cy="228.00" r="2.14"/>
<circle cx="548.00" cy="228.00" r="2.14"/>
<circle cx="554.20" cy="228.00" r="2.14"/>
<circle cx="560.40" cy="228.00" r="2.14"/>
<circle cx="566.60" cy="228.00" r="2.14"/>
<circle cx="572.80" cy="228.00" r="2.14"/>
<circle cx="579.00" cy="228.00" r="2.14"/>
<circle cx="585.20" cy="228.00" r="2.14"/>
<circle cx="591.40" cy="228.00" r="2.14"/>
<circle cx="597.60" cy="228.00" r="2.14"/>
<circle cx="529.40" cy="234.90" r="2.14"/>
<circle cx="535.60" cy="234.90" r="2.14"/>
<circle cx="541.80" cy="234.90" r="2.14"/>
<circle cx="548.00" cy="234.90" r="2.14"/>
<circle cx="554.20" cy="234.90" r="2.14"/>
<circle cx="560.40" cy="234.90" r="2.14"/>
<circle cx="566.60" cy="234.90" r="2.14"/>
<circle cx="572.80" cy="234.90" r="2.14"/>
<circle cx="579.00" cy="234.90" r="2.14"/>
<circle cx="585.20" cy="234.90" r="2.14"/>
<circle cx="591.40" cy="234.90" r="2.14"/>
<circle cx="597.60" cy="234.90" r="2.14"/>
<circle cx="529.40" cy="241.80" r="2.14"/>
<circle cx="535.60" cy="241.80" r="2.14"/>
<circle cx="541.80" cy="241.80" r="2.14"/>
<circle cx="548.00" cy="241.80" r="2.14"/>
<circle cx="554.20" cy="241.80" r="2.14"/>
<circle cx="560.40" cy="241.80" r="2.14"/>
<circle cx="566.60" cy="241.80" r="2.14"/>
<circle cx="572.80" cy="241.80" r="2.14"/>
<circle cx="579.00" cy="241.80" r="2.14"/>
<circle cx="585.20" cy="241.80" r="2.14"/>
<circle cx="591.40" cy="241.80" r="2.14"/>
<circle cx="597.60" cy="241.80" r="2.14"/>
<circle cx="529.40" cy="248.70" r="2.14"/>
<circle cx="535.60" cy="248.70" r="2.14"/>
<circle cx="541.80" cy="248.70" r="2.14"/>
<circle cx="548.00" cy="248.70" r="2.14"/>
<circle cx="554.20" cy="248.70" r="2.14"/>
<circle cx="560.40" cy="248.70" r="2.14"/>
<circle cx="566.60" cy="248.70" r="2.14"/>
<circle cx="572.80" cy="248.70" r="2.14"/>
<circle cx="579.00" cy="248.70" r="2.14"/>
<circle cx="585.20" cy="248.70" r="2.14"/>
<circle cx="591.40" cy="248.70" r="2.14"/>
<circle cx="597.60" cy="248.70" r="2.14"/>
<circle cx="529.40" cy="255.60" r="2.14"/>
<circle cx="535.60" cy="255.60" r="2.14"/>
<circle cx="541.80" cy="255.60" r="2.14"/>
<circle cx="548.00" cy="255.60" r="2.14"/>
<circle cx="554.20" cy="255.60" r="2.14"/>
<circle cx="560.40" cy="255.60" r="2.14"/>
<circle cx="566.60" cy="255.60" r="2.14"/>
<circle cx="572.80" cy="255.60" r="2.14"/>
<circle cx="579.00" cy="255.60" r="2.14"/>
<circle cx="585.20" cy="255.60" r="2.14"/>
<circle cx="591.40" cy="255.60" r="2.14"/>
<circle cx="597.60" cy="255.60" r="2.14"/>
<circle cx="529.40" cy="262.50" r="2.14"/>
<circle cx="535.60" cy="262.50" r="2.14"/>
<circle cx="541.80" cy="262.50" r="2.14"/>
<circle cx="548.00" cy="262.50" r="2.14"/>
<circle cx="554.20" cy="262.50" r="2.14"/>
<circle cx="560.40" cy="262.50" r="2.14"/>
<circle cx="566.60" cy="262.50" r="2.14"/>
<circle cx="572.80" cy="262.50" r="2.14"/>
<circle cx="579.00" cy="262.50" r="2.14"/>
<circle cx="585.20" cy="262.50" r="2.14"/>
<circle cx="591.40" cy="262.50" r="2.14"/>
<circle cx="597.60" cy="262.50" r="2.14"/>
<circle cx="529.40" cy="269.40" r="2.14"/>
<circle cx="535.60" cy="269.40" r="2.14"/>
<circle cx="541.80" cy="269.40" r="2.14"/>
<circle cx="548.00" cy="269.40" r="2.14"/>
<circle cx="554.20" cy="269.40" r="2.14"/>
<circle cx="560.40" cy="269.40" r="2.14"/>
<circle cx="566.60" cy="269.40" r="2.14"/>
<circle cx="572.80" cy="269.40" r="2.14"/>
<circle cx="579.00" cy="269.40" r="2.14"/>
<circle cx="585.20" cy="269.40" r="2.14"/>
<circle cx="591.40" cy="269.40" r="2.14"/>
<circle cx="597.60" cy="269.40" r="2.14"/>
<circle cx="529.40" cy="276.30" r="2.14"/>
<circle cx="535.60" cy="276.30" r="2.14"/>
<circle cx="541.80" cy="276.30" r="2.14"/>
<circle cx="548.00" cy="276.30" r="2.14"/>
<circle cx="554.20" cy="276.30" r="2.14"/>
<circle cx="560.40" cy="276.30" r="2.14"/>
<circle cx="566.60" cy="276.30" r="2.14"/>
<circle cx="572.80" cy="276.30" r="2.14"/>
<circle cx="579.00" cy="276.30" r="2.14"/>
<circle cx="585.20" cy="276.30" r="2.14"/>
<circle cx="591.40" cy="276.30" r="2.14"/>
<circle cx="597.60" cy="276.30" r="2.14"/>
<circle cx="529.40" cy="283.20" r="2.14"/>
<circle cx="535.60" cy="283.20" r="2.14"/>
<circle cx="541.80" cy="283.20" r="2.14"/>
<circle cx="548.00" cy="283.20" r="2.14"/>
<circle cx="554.20" cy="283.20" r="2.14"/>
<circle cx="560.40" cy="283.20" r="2.14"/>
<circle cx="566.60" cy="283.20" r="2.14"/>
<circle cx="572.80" cy="283.20" r="2.14"/>
<circle cx="579.00" cy="283.20" r="2.14"/>
<circle cx="585.20" cy="283.20" r="2.14"/>
<circle cx="591.40" cy="283.20" r="2.14"/>
<circle cx="597.60" cy="283.20" r="2.14"/>
<circle cx="529.40" cy="290.10" r="2.14"/>
<circle cx="535.60" cy="290.10" r="2.14"/>
<circle cx="541.80" cy="290.10" r="2.14"/>
<circle cx="548.00" cy="290.10" r="2.14"/>
<circle cx="554.20" cy="290.10" r="2.14"/>
<circle cx="560.40" cy="290.10" r="2.14"/>
<circle cx="566.60" cy="290.10" r="2.14"/>
<circle cx="572.80" cy="290.10" r="2.14"/>
<circle cx="579.00" cy="290.10" r="2.14"/>
<circle cx="585.20" cy="290.10" r="2.14"/>
<circle cx="591.40" cy="290.10" r="2.14"/>
<circle cx="597.60" cy="290.10" r="2.14"/>
<circle cx="529.40" cy="297.00" r="2.14"/>
<circle cx="535.60" cy="297.00" r="2.14"/>
<circle cx="541.80" cy="297.00" r="2.14"/>
<circle cx="548.00" cy="297.00" r="2.14"/>
<circle cx="554.20" cy="297.00" r="2.14"/>
<circle cx="560.40" cy="297.00" r="2.14"/>
<circle cx="566.60" cy="297.00" r="2.14"/>
<circle cx="572.80" cy="297.00" r="2.14"/>
<circle cx="579.00" cy="297.00" r="2.14"/>
<circle cx="585.20" cy="297.00" r="2.14"/>
<circle cx="591.40" cy="297.00" r="2.14"/>
<circle cx="597.60" cy="297.00" r="2.14"/>
<circle cx="529.40" cy="303.90" r="2.14"/>
<circle cx="535.60" cy="303.90" r="2.14"/>
<circle cx="541.80" cy="303.90" r="2.14"/>
<circle cx="548.00" cy="303.90" r="2.14"/>
<circle cx="554.20" cy="303.90" r="2.14"/>
<circle cx="560.40" cy="303.90" r="2.14"/>
<circle cx="566.60" cy="303.90" r="2.14"/>
<circle cx="572.80" cy="303.90" r="2.14"/>
<circle cx="579.00" cy="303.90" r="2.14"/>
<circle cx="585.20" cy="303.90" r="2.14"/>
<circle cx="591.40" cy="303.90" r="2.14"/>
<circle cx="597.60" cy="303.90" r="2.14"/>
<circle cx="529.40" cy="310.80" r="2.14"/>
<circle cx="535.60" cy="310.80" r="2.14"/>
<circle cx="541.80" cy="310.80" r="2.14"/>
<circle cx="548.00" cy="310.80" r="2.14"/>
<circle cx="554.20" cy="310.80" r="2.14"/>
<circle cx="560.40" cy="310.80" r="2.14"/>
<circle cx="566.60" cy="310.80" r="2.14"/>
<circle cx="572.80" cy="310.80" r="2.14"/>
<circle cx="579.00" cy="310.80" r="2.14"/>
<circle cx="585.20" cy="310.80" r="2.14"/>
<circle cx="591.40" cy="310.80" r="2.14"/>
<circle cx="529.40" cy="317.70" r="2.14"/>
<circle cx="535.60" cy="317.70" r="2.14"/>
<circle cx="541.80" cy="317.70" r="2.14"/>
<circle cx="548.00" cy="317.70" r="2.14"/>
<circle cx="554.20" cy="317.70" r="2.14"/>
<circle cx="560.40" cy="317.70" r="2.14"/>
<circle cx="566.60" cy="317.70" r="2.14"/>
<circle cx="572.80" cy="317.70" r="2.14"/>
<circle cx="585.20" cy="317.70" r="2.14"/>
<circle cx="591.40" cy="317.70" r="2.14"/>
<circle cx="597.60" cy="317.70" r="2.14"/>
<circle cx="535.60" cy="324.60" r="2.14"/>
<circle cx="541.80" cy="324.60" r="2.14"/>
<circle cx="548.00" cy="324.60" r="2.14"/>
<circle cx="554.20" cy="324.60" r="2.14"/>
<circle cx="560.40" cy="324.60" r="2.14"/>
<circle cx="566.60" cy="324.60" r="2.14"/>
<circle cx="572.80" cy="324.60" r="2.14"/>
<circle cx="579.00" cy="324.60" r="2.14"/>
<circle cx="585.20" cy="324.60" r="2.14"/>
<circle cx="591.40" cy="324.60" r="2.14"/>
<circle cx="597.60" cy="324.60" r="2.14"/>
<circle cx="529.40" cy="331.50" r="2.14"/>
<circle cx="535.60" cy="331.50" r="2.14"/>
<circle cx="541.80" cy="331.50" r="2.14"/>
<circle cx="548.00" cy="331.50" r="2.14"/>
<circle cx="554.20" cy="331.50" r="2.14"/>
<circle cx="560.40" cy="331.50" r="2.14"/>
<circle cx="572.80" cy="331.50" r="2.14"/>
<circle cx="579.00" cy="331.50" r="2.14"/>
<circle cx="585.20" cy="331.50" r="2.14"/>
<circle cx="591.40" cy="331.50" r="2.14"/>
<circle cx="535.60" cy="338.40" r="2.14"/>
<circle cx="548.00" cy="338.40" r="2.14"/>
<circle cx="554.20" cy="338.40" r="2.14"/>
<circle cx="560.40" cy="338.40" r="2.14"/>
<circle cx="566.60" cy="338.40" r="2.14"/>
<circle cx="572.80" cy="338.40" r="2.14"/>
<circle cx="579.00" cy="338.40" r="2.14"/>
<circle cx="585.20" cy="338.40" r="2.14"/>
<circle cx="591.40" cy="338.40" r="2.14"/>
<circle cx="597.60" cy="338.40" r="2.14"/>
<circle cx="529.40" cy="345.30" r="2.14"/>
<circle cx="541.80" cy="345.30" r="2.14"/>
<circle cx="548.00" cy="345.30" r="2.14"/>
<circle cx="554.20" cy="345.30" r="2.14"/>
<circle cx="560.40" cy="345.30" r="2.14"/>
<circle cx="566.60" cy="345.30" r="2.14"/>
<circle cx="579.00" cy="345.30" r="2.14"/>
<circle cx="585.20" cy="345.30" r="2.14"/>
</g>
<g fill="#000">
<circle cx="597.60" cy="310.80" r="2.36"/>
<circle cx="579.00" cy="317.70" r="2.36"/>
<circle cx="529.40" cy="324.60" r="2.36"/>
<circle cx="566.60" cy="331.50" r="2.36"/>
<circle cx="597.60" cy="331.50" r="2.36"/>
<circle cx="529.40" cy="338.40" r="2.36"/>
<circle cx="541.80" cy="338.40" r="2.36"/>
<circle cx="535.60" cy="345.30" r="2.36"/>
<circle cx="572.80" cy="345.30" r="2.36"/>
<circle cx="591.40" cy="345.30" r="2.36"/>
<circle cx="597.60" cy="345.30" r="2.36"/>
</g>
</g>
<g>
<path d="M610.70 186.30H687.90M610.70 193.38H687.90M610.70 200.45H687.90M610.70 207.53H687.90M610.70 214.60H687.90M610.70 221.68H687.90M610.70 228.76H687.90M610.70 235.83H687.90M610.70 242.91H687.90M610.70 249.98H687.90M610.70 257.06H687.90M610.70 264.14H687.90M610.70 271.21H687.90M610.70 278.29H687.90M610.70 285.36H687.90M610.70 292.44H687.90M610.70 299.52H687.90M610.70 306.59H687.90M610.70 313.67H687.90M610.70 320.74H687.90M610.70 327.82H687.90M610.70 334.90H687.90" stroke="#222" stroke-width="0.53" fill="none"/>
<g fill="#fff" stroke="#222" stroke-width="0.46">
<circle cx="658.85" cy="186.30" r="2.20"/>
<circle cx="677.94" cy="193.38" r="2.20"/>
</g>
<g fill="#000">
<circle cx="614.30" cy="186.30" r="2.30"/>
<circle cx="620.66" cy="186.30" r="2.30"/>
<circle cx="627.03" cy="186.30" r="2.30"/>
<circle cx="633.39" cy="186.30" r="2.30"/>
<circle cx="639.76" cy="186.30" r="2.30"/>
<circle cx="646.12" cy="186.30" r="2.30"/>
<circle cx="652.48" cy="186.30" r="2.30"/>
<circle cx="665.21" cy="186.30" r="2.30"/>
<circle cx="671.58" cy="186.30" r="2.30"/>
<circle cx="677.94" cy="186.30" r="2.30"/>
<circle cx="684.30" cy="186.30" r="2.30"/>
<circle cx="614.30" cy="193.38" r="2.30"/>
<circle cx="620.66" cy="193.38" r="2.30"/>
<circle cx="627.03" cy="193.38" r="2.30"/>
<circle cx="633.39" cy="193.38" r="2.30"/>
<circle cx="639.76" cy="193.38" r="2.30"/>
<circle cx="646.12" cy="193.38" r="2.30"/>
<circle cx="652.48" cy="193.38" r="2.30"/>
<circle cx="658.85" cy="193.38" r="2.30"/>
<circle cx="665.21" cy="193.38" r="2.30"/>
<circle cx="671.58" cy="193.38" r="2.30"/>
<circle cx="684.30" cy="193.38" r="2.30"/>
<circle cx="614.30" cy="200.45" r="2.30"/>
<circle cx="620.66" cy="200.45" r="2.30"/>
<circle cx="627.03" cy="200.45" r="2.30"/>
<circle cx="633.39" cy="200.45" r="2.30"/>
<circle cx="639.76" cy="200.45" r="2.30"/>
<circle cx="646.12" cy="200.45" r="2.30"/>
<circle cx="652.48" cy="200.45" r="2.30"/>
<circle cx="658.85" cy="200.45" r="2.30"/>
<circle cx="665.21" cy="200.45" r="2.30"/>
<circle cx="671.58" cy="200.45" r="2.30"/>
<circle cx="677.94" cy="200.45" r="2.30"/>
<circle cx="684.30" cy="200.45" r="2.30"/>
<circle cx="614.30" cy="207.53" r="2.30"/>
<circle cx="620.66" cy="207.53" r="2.30"/>
<circle cx="627.03" cy="207.53" r="2.30"/>
<circle cx="633.39" cy="207.53" r="2.30"/>
<circle cx="639.76" cy="207.53" r="2.30"/>
<circle cx="646.12" cy="207.53" r="2.30"/>
<circle cx="652.48" cy="207.53" r="2.30"/>
<circle cx="658.85" cy="207.53" r="2.30"/>
<circle cx="665.21" cy="207.53" r="2.30"/>
<circle cx="671.58" cy="207.53" r="2.30"/>
<circle cx="677.94" cy="207.53" r="2.30"/>
<circle cx="684.30" cy="207.53" r="2.30"/>
<circle cx="614.30" cy="214.60" r="2.30"/>
<circle cx="620.66" cy="214.60" r="2.30"/>
<circle cx="627.03" cy="214.60" r="2.30"/>
<circle cx="633.39" cy="214.60" r="2.30"/>
<circle cx="639.76" cy="214.60" r="2.30"/>
<circle cx="646.12" cy="214.60" r="2.30"/>
<circle cx="652.48" cy="214.60" r="2.30"/>
<circle cx="658.85" cy="214.60" r="2.30"/>
<circle cx="665.21" cy="214.60" r="2.30"/>
<circle cx="671.58" cy="214.60" r="2.30"/>
<circle cx="677.94" cy="214.60" r="2.30"/>
<circle cx="684.30" cy="214.60" r="2.30"/>
<circle cx="614.30" cy="221.68" r="2.30"/>
<circle cx="620.66" cy="221.68" r="2.30"/>
<circle cx="627.03" cy="221.68" r="2.30"/>
<circle cx="633.39" cy="221.68" r="2.30"/>
<circle cx="639.76" cy="221.68" r="2.30"/>
<circle cx="646.12" cy="221.68" r="2.30"/>
<circle cx="652.48" cy="221.68" r="2.30"/>
<circle cx="658.85" cy="221.68" r="2.30"/>
<circle cx="665.21" cy="221.68" r="2.30"/>
<circle cx="671.58" cy="221.68" r="2.30"/>
<circle cx="677.94" cy="221.68" r="2.30"/>
<circle cx="684.30" cy="221.68" r="2.30"/>
<circle cx="614.30" cy="228.76" r="2.30"/>
<circle cx="620.66" cy="228.76" r="2.30"/>
<circle cx="627.03" cy="228.76" r="2.30"/>
<circle cx="633.39" cy="228.76" r="2.30"/>
<circle cx="639.76" cy="228.76" r="2.30"/>
<circle cx="646.12" cy="228.76" r="2.30"/>
<circle cx="652.48" cy="228.76" r="2.30"/>
<circle cx="658.85" cy="228.76" r="2.30"/>
<circle cx="665.21" cy="228.76" r="2.30"/>
<circle cx="671.58" cy="228.76" r="2.30"/>
<circle cx="677.94" cy="228.76" r="2.30"/>
<circle cx="684.30" cy="228.76" r="2.30"/>
<circle cx="614.30" cy="235.83" r="2.30"/>
<circle cx="620.66" cy="235.83" r="2.30"/>
<circle cx="627.03" cy="235.83" r="2.30"/>
<circle cx="633.39" cy="235.83" r="2.30"/>
<circle cx="639.76" cy="235.83" r="2.30"/>
<circle cx="646.12" cy="235.83" r="2.30"/>
<circle cx="652.48" cy="235.83" r="2.30"/>
<circle cx="658.85" cy="235.83" r="2.30"/>
<circle cx="665.21" cy="235.83" r="2.30"/>
<circle cx="671.58" cy="235.83" r="2.30"/>
<circle cx="677.94" cy="235.83" r="2.30"/>
<circle cx="684.30" cy="235.83" r="2.30"/>
<circle cx="614.30" cy="242.91" r="2.30"/>
<circle cx="620.66" cy="242.91" r="2.30"/>
<circle cx="627.03" cy="242.91" r="2.30"/>
<circle cx="633.39" cy="242.91" r="2.30"/>
<circle cx="639.76" cy="242.91" r="2.30"/>
<circle cx="646.12" cy="242.91" r="2.30"/>
<circle cx="652.48" cy="242.91" r="2.30"/>
<circle cx="658.85" cy="242.91" r="2.30"/>
<circle cx="665.21" cy="242.91" r="2.30"/>
<circle cx="671.58" cy="242.91" r="2.30"/>
<circle cx="677.94" cy="242.91" r="2.30"/>
<circle cx="684.30" cy="242.91" r="2.30"/>
<circle cx="614.30" cy="249.98" r="2.30"/>
<circle cx="620.66" cy="249.98" r="2.30"/>
<circle cx="627.03" cy="249.98" r="2.30"/>
<circle cx="633.39" cy="249.98" r="2.30"/>
<circle cx="639.76" cy="249.98" r="2.30"/>
<circle cx="646.12" cy="249.98" r="2.30"/>
<circle cx="652.48" cy="249.98" r="2.30"/>
<circle cx="658.85" cy="249.98" r="2.30"/>
<circle cx="665.21" cy="249.98" r="2.30"/>
<circle cx="671.58" cy="249.98" r="2.30"/>
<circle cx="677.94" cy="249.98" r="2.30"/>
<circle cx="684.30" cy="249.98" r="2.30"/>
<circle cx="614.30" cy="257.06" r="2.30"/>
<circle cx="620.66" cy="257.06" r="2.30"/>
<circle cx="627.03" cy="257.06" r="2.30"/>
<circle cx="633.39" cy="257.06" r="2.30"/>
<circle cx="639.76" cy="257.06" r="2.30"/>
<circle cx="646.12" cy="257.06" r="2.30"/>
<circle cx="652.48" cy="257.06" r="2.30"/>
<circle cx="658.85" cy="257.06" r="2.30"/>
<circle cx="665.21" cy="257.06" r="2.30"/>
<circle cx="671.58" cy="257.06" r="2.30"/>
<circle cx="677.94" cy="257.06" r="2.30"/>
<circle cx="684.30" cy="257.06" r="2.30"/>
<circle cx="614.30" cy="264.14" r="2.30"/>
<circle cx="620.66" cy="264.14" r="2.30"/>
<circle cx="627.03" cy="264.14" r="2.30"/>
<circle cx="633.39" cy="264.14" r="2.30"/>
<circle cx="639.76" cy="264.14" r="2.30"/>
<circle cx="646.12" cy="264.14" r="2.30"/>
<circle cx="652.48" cy="264.14" r="2.30"/>
<circle cx="658.85" cy="264.14" r="2.30"/>
<circle cx="665.21" cy="264.14" r="2.30"/>
<circle cx="671.58" cy="264.14" r="2.30"/>
<circle cx="677.94" cy="264.14" r="2.30"/>
<circle cx="684.30" cy="264.14" r="2.30"/>
<circle cx="614.30" cy="271.21" r="2.30"/>
<circle cx="620.66" cy="271.21" r="2.30"/>
<circle cx="627.03" cy="271.21" r="2.30"/>
<circle cx="633.39" cy="271.21" r="2.30"/>
<circle cx="639.76" cy="271.21" r="2.30"/>
<circle cx="646.12" cy="271.21" r="2.30"/>
<circle cx="652.48" cy="271.21" r="2.30"/>
<circle cx="658.85" cy="271.21" r="2.30"/>
<circle cx="665.21" cy="271.21" r="2.30"/>
<circle cx="671.58" cy="271.21" r="2.30"/>
<circle cx="677.94" cy="271.21" r="2.30"/>
<circle cx="684.30" cy="271.21" r="2.30"/>
<circle cx="614.30" cy="278.29" r="2.30"/>
<circle cx="620.66" cy="278.29" r="2.30"/>
<circle cx="627.03" cy="278.29" r="2.30"/>
<circle cx="633.39" cy="278.29" r="2.30"/>
<circle cx="639.76" cy="278.29" r="2.30"/>
<circle cx="646.12" cy="278.29" r="2.30"/>
<circle cx="652.48" cy="278.29" r="2.30"/>
<circle cx="658.85" cy="278.29" r="2.30"/>
<circle cx="665.21" cy="278.29" r="2.30"/>
<circle cx="671.58" cy="278.29" r="2.30"/>
<circle cx="677.94" cy="278.29" r="2.30"/>
<circle cx="684.30" cy="278.29" r="2.30"/>
<circle cx="614.30" cy="285.36" r="2.30"/>
<circle cx="620.66" cy="285.36" r="2.30"/>
<circle cx="627.03" cy="285.36" r="2.30"/>
<circle cx="633.39" cy="285.36" r="2.30"/>
<circle cx="639.76" cy="285.36" r="2.30"/>
<circle cx="646.12" cy="285.36" r="2.30"/>
<circle cx="652.48" cy="285.36" r="2.30"/>
<circle cx="658.85" cy="285.36" r="2.30"/>
<circle cx="665.21" cy="285.36" r="2.30"/>
<circle cx="671.58" cy="285.36" r="2.30"/>
<circle cx="677.94" cy="285.36" r="2.30"/>
<circle cx="684.30" cy="285.36" r="2.30"/>
<circle cx="614.30" cy="292.44" r="2.30"/>
<circle cx="620.66" cy="292.44" r="2.30"/>
<circle cx="627.03" cy="292.44" r="2.30"/>
<circle cx="633.39" cy="292.44" r="2.30"/>
<circle cx="639.76" cy="292.44" r="2.30"/>
<circle cx="646.12" cy="292.44" r="2.30"/>
<circle cx="652.48" cy="292.44" r="2.30"/>
<circle cx="658.85" cy="292.44" r="2.30"/>
<circle cx="665.21" cy="292.44" r="2.30"/>
<circle cx="671.58" cy="292.44" r="2.30"/>
<circle cx="677.94" cy="292.44" r="2.30"/>
<circle cx="684.30" cy="292.44" r="2.30"/>
<circle cx="614.30" cy="299.52" r="2.30"/>
<circle cx="620.66" cy="299.52" r="2.30"/>
<circle cx="627.03" cy="299.52" r="2.30"/>
<circle cx="633.39" cy="299.52" r="2.30"/>
<circle cx="639.76" cy="299.52" r="2.30"/>
<circle cx="646.12" cy="299.52" r="2.30"/>
<circle cx="652.48" cy="299.52" r="2.30"/>
<circle cx="658.85" cy="299.52" r="2.30"/>
<circle cx="665.21" cy="299.52" r="2.30"/>
<circle cx="671.58" cy="299.52" r="2.30"/>
<circle cx="677.94" cy="299.52" r="2.30"/>
<circle cx="684.30" cy="299.52" r="2.30"/>
<circle cx="614.30" cy="306.59" r="2.30"/>
<circle cx="620.66" cy="306.59" r="2.30"/>
<circle cx="627.03" cy="306.59" r="2.30"/>
<circle cx="633.39" cy="306.59" r="2.30"/>
<circle cx="639.76" cy="306.59" r="2.30"/>
<circle cx="646.12" cy="306.59" r="2.30"/>
<circle cx="652.48" cy="306.59" r="2.30"/>
<circle cx="658.85" cy="306.59" r="2.30"/>
<circle cx="665.21" cy="306.59" r="2.30"/>
<circle cx="671.58" cy="306.59" r="2.30"/>
<circle cx="677.94" cy="306.59" r="2.30"/>
<circle cx="684.30" cy="306.59" r="2.30"/>
<circle cx="614.30" cy="313.67" r="2.30"/>
<circle cx="620.66" cy="313.67" r="2.30"/>
<circle cx="627.03" cy="313.67" r="2.30"/>
<circle cx="633.39" cy="313.67" r="2.30"/>
<circle cx="639.76" cy="313.67" r="2.30"/>
<circle cx="646.12" cy="313.67" r="2.30"/>
<circle cx="652.48" cy="313.67" r="2.30"/>
<circle cx="658.85" cy="313.67" r="2.30"/>
<circle cx="665.21" cy="313.67" r="2.30"/>
<circle cx="671.58" cy="313.67" r="2.30"/>
<circle cx="677.94" cy="313.67" r="2.30"/>
<circle cx="684.30" cy="313.67" r="2.30"/>
<circle cx="614.30" cy="320.74" r="2.30"/>
<circle cx="620.66" cy="320.74" r="2.30"/>
<circle cx="627.03" cy="320.74" r="2.30"/>
<circle cx="633.39" cy="320.74" r="2.30"/>
<circle cx="639.76" cy="320.74" r="2.30"/>
<circle cx="646.12" cy="320.74" r="2.30"/>
<circle cx="652.48" cy="320.74" r="2.30"/>
<circle cx="658.85" cy="320.74" r="2.30"/>
<circle cx="665.21" cy="320.74" r="2.30"/>
<circle cx="671.58" cy="320.74" r="2.30"/>
<circle cx="677.94" cy="320.74" r="2.30"/>
<circle cx="684.30" cy="320.74" r="2.30"/>
<circle cx="614.30" cy="327.82" r="2.30"/>
<circle cx="620.66" cy="327.82" r="2.30"/>
<circle cx="627.03" cy="327.82" r="2.30"/>
<circle cx="633.39" cy="327.82" r="2.30"/>
<circle cx="639.76" cy="327.82" r="2.30"/>
<circle cx="646.12" cy="327.82" r="2.30"/>
<circle cx="652.48" cy="327.82" r="2.30"/>
<circle cx="658.85" cy="327.82" r="2.30"/>
<circle cx="665.21" cy="327.82" r="2.30"/>
<circle cx="671.58" cy="327.82" r="2.30"/>
<circle cx="677.94" cy="327.82" r="2.30"/>
<circle cx="684.30" cy="327.82" r="2.30"/>
<circle cx="614.30" cy="334.90" r="2.30"/>
<circle cx="620.66" cy="334.90" r="2.30"/>
<circle cx="627.03" cy="334.90" r="2.30"/>
<circle cx="633.39" cy="334.90" r="2.30"/>
<circle cx="639.76" cy="334.90" r="2.30"/>
<circle cx="646.12" cy="334.90" r="2.30"/>
<circle cx="652.48" cy="334.90" r="2.30"/>
<circle cx="658.85" cy="334.90" r="2.30"/>
<circle cx="665.21" cy="334.90" r="2.30"/>
<circle cx="671.58" cy="334.90" r="2.30"/>
<circle cx="677.94" cy="334.90" r="2.30"/>
<circle cx="684.30" cy="334.90" r="2.30"/>
</g>
</g>
<g>
<path d="M90.70 401.10H186.59M90.70 407.64H186.59M90.70 414.19H186.59M90.70 420.73H186.59M90.70 427.28H186.59M90.70 433.82H186.59M90.70 440.36H186.59M90.70 446.91H186.59M90.70 453.45H186.59M90.70 460.00H186.59M90.70 466.54H186.59M90.70 473.08H186.59M90.70 479.63H186.59M90.70 486.17H186.59M90.70 492.72H186.59M90.70 499.26H186.59M90.70 505.80H186.59M90.70 512.35H186.59M90.70 518.89H186.59M90.70 525.44H186.59M90.70 531.98H186.59M90.70 538.52H186.59M90.70 545.07H186.59M90.70 551.61H186.59M90.70 558.16H186.59M90.70 564.70H186.59" stroke="#222" stroke-width="0.49" fill="none"/>
<g fill="#fff" stroke="#222" stroke-width="0.43">
<circle cx="94.30" cy="401.10" r="2.04"/>
<circle cx="100.21" cy="401.10" r="2.04"/>
<circle cx="106.13" cy="401.10" r="2.04"/>
<circle cx="112.04" cy="401.10" r="2.04"/>
<circle cx="117.95" cy="401.10" r="2.04"/>
<circle cx="123.86" cy="401.10" r="2.04"/>
<circle cx="129.78" cy="401.10" r="2.04"/>
<circle cx="135.69" cy="401.10" r="2.04"/>
<circle cx="141.60" cy="401.10" r="2.04"/>
<circle cx="147.52" cy="401.10" r="2.04"/>
<circle cx="153.43" cy="401.10" r="2.04"/>
<circle cx="159.34" cy="401.10" r="2.04"/>
<circle cx="165.26" cy="401.10" r="2.04"/>
<circle cx="171.17" cy="401.10" r="2.04"/>
<circle cx="177.08" cy="401.10" r="2.04"/>
<circle cx="183.00" cy="401.10" r="2.04"/>
<circle cx="94.30" cy="407.64" r="2.04"/>
<circle cx="100.21" cy="407.64" r="2.04"/>
<circle cx="106.13" cy="407.64" r="2.04"/>
<circle cx="112.04" cy="407.64" r="2.04"/>
<circle cx="117.95" cy="407.64" r="2.04"/>
<circle cx="123.86" cy="407.64" r="2.04"/>
<circle cx="129.78" cy="407.64" r="2.04"/>
<circle cx="135.69" cy="407.64" r="2.04"/>
<circle cx="141.60" cy="407.64" r="2.04"/>
<circle cx="147.52" cy="407.64" r="2.04"/>
<circle cx="153.43" cy="407.64" r="2.04"/>
<circle cx="159.34" cy="407.64" r="2.04"/>
<circle cx="165.26" cy="407.64" r="2.04"/>
<circle cx="171.17" cy="407.64" r="2.04"/>
<circle cx="177.08" cy="407.64" r="2.04"/>
<circle cx="183.00" cy="407.64" r="2.04"/>
<circle cx="94.30" cy="414.19" r="2.04"/>
<circle cx="100.21" cy="414.19" r="2.04"/>
<circle cx="106.13" cy="414.19" r="2.04"/>
<circle cx="112.04" cy="414.19" r="2.04"/>
<circle cx="117.95" cy="414.19" r="2.04"/>
<circle cx="123.86" cy="414.19" r="2.04"/>
<circle cx="129.78" cy="414.19" r="2.04"/>
<circle cx="135.69" cy="414.19" r="2.04"/>
<circle cx="141.60" cy="414.19" r="2.04"/>
<circle cx="147.52" cy="414.19" r="2.04"/>
<circle cx="153.43" cy="414.19" r="2.04"/>
<circle cx="159.34" cy="414.19" r="2.04"/>
<circle cx="165.26" cy="414.19" r="2.04"/>
<circle cx="171.17" cy="414.19" r="2.04"/>
<circle cx="177.08" cy="414.19" r="2.04"/>
<circle cx="183.00" cy="414.19" r="2.04"/>
<circle cx="94.30" cy="420.73" r="2.04"/>
<circle cx="100.21" cy="420.73" r="2.04"/>
<circle cx="106.13" cy="420.73" r="2.04"/>
<circle cx="112.04" cy="420.73" r="2.04"/>
<circle cx="117.95" cy="420.73" r="2.04"/>
<circle cx="123.86" cy="420.73" r="2.04"/>
<circle cx="129.78" cy="420.73" r="2.04"/>
<circle cx="135.69" cy="420.73" r="2.04"/>
<circle cx="141.60" cy="420.73" r="2.04"/>
<circle cx="147.52" cy="420.73" r="2.04"/>
<circle cx="153.43" cy="420.73" r="2.04"/>
<circle cx="159.34" cy="420.73" r="2.04"/>
<circle cx="165.26" cy="420.73" r="2.04"/>
<circle cx="171.17" cy="420.73" r="2.04"/>
<circle cx="177.08" cy="420.73" r="2.04"/>
<circle cx="183.00" cy="420.73" r="2.04"/>
<circle cx="94.30" cy="427.28" r="2.04"/>
<circle cx="100.21" cy="427.28" r="2.04"/>
<circle cx="106.13" cy="427.28" r="2.04"/>
<circle cx="112.04" cy="427.28" r="2.04"/>
<circle cx="117.95" cy="427.28" r="2.04"/>
<circle cx="123.86" cy="427.28" r="2.04"/>
<circle cx="129.78" cy="427.28" r="2.04"/>
<circle cx="135.69" cy="427.28" r="2.04"/>
<circle cx="141.60" cy="427.28" r="2.04"/>
<circle cx="147.52" cy="427.28" r="2.04"/>
<circle cx="153.43" cy="427.28" r="2.04"/>
<circle cx="159.34" cy="427.28" r="2.04"/>
<circle cx="165.26" cy="427.28" r="2.04"/>
<circle cx="171.17" cy="427.28" r="2.04"/>
<circle cx="177.08" cy="427.28" r="2.04"/>
<circle cx="183.00" cy="427.28" r="2.04"/>
<circle cx="94.30" cy="433.82" r="2.04"/>
<circle cx="100.21" cy="433.82" r="2.04"/>
<circle cx="106.13" cy="433.82" r="2.04"/>
<circle cx="112.04" cy="433.82" r="2.04"/>
<circle cx="117.95" cy="433.82" r="2.04"/>
<circle cx="123.86" cy="433.82" r="2.04"/>
<circle cx="129.78" cy="433.82" r="2.04"/>
<circle cx="135.69" cy="433.82" r="2.04"/>
<circle cx="141.60" cy="433.82" r="2.04"/>
<circle cx="147.52" cy="433.82" r="2.04"/>
<circle cx="153.43" cy="433.82" r="2.04"/>
<circle cx="159.34" cy="433.82" r="2.04"/>
<circle cx="165.26" cy="433.82" r="2.04"/>
<circle cx="171.17" cy="433.82" r="2.04"/>
<circle cx="177.08" cy="433.82" r="2.04"/>
<circle cx="183.00" cy="433.82" r="2.04"/>
<circle cx="94.30" cy="440.36" r="2.04"/>
<circle cx="100.21" cy="440.36" r="2.04"/>
<circle cx="106.13" cy="440.36" r="2.04"/>
<circle cx="112.04" cy="440.36" r="2.04"/>
<circle cx="117.95" cy="440.36" r="2.04"/>
<circle cx="123.86" cy="440.36" r="2.04"/>
<circle cx="129.78" cy="440.36" r="2.04"/>
<circle cx="135.69" cy="440.36" r="2.04"/>
<circle cx="141.60" cy="440.36" r="2.04"/>
<circle cx="147.52" cy="440.36" r="2.04"/>
<circle cx="153.43" cy="440.36" r="2.04"/>
<circle cx="159.34" cy="440.36" r="2.04"/>
<circle cx="165.26" cy="440.36" r="2.04"/>
<circle cx="171.17" cy="440.36" r="2.04"/>
<circle cx="177.08" cy="440.36" r="2.04"/>
<circle cx="183.00" cy="440.36" r="2.04"/>
<circle cx="94.30" cy="446.91" r="2.04"/>
<circle cx="100.21" cy="446.91" r="2.04"/>
<circle cx="106.13" cy="446.91" r="2.04"/>
<circle cx="112.04" cy="446.91" r="2.04"/>
<circle cx="117.95" cy="446.91" r="2.04"/>
<circle cx="123.86" cy="446.91" r="2.04"/>
<circle cx="129.78" cy="446.91" r="2.04"/>
<circle cx="135.69" cy="446.91" r="2.04"/>
<circle cx="141.60" cy="446.91" r="2.04"/>
<circle cx="147.52" cy="446.91" r="2.04"/>
<circle cx="153.43" cy="446.91" r="2.04"/>
<circle cx="159.34" cy="446.91" r="2.04"/>
<circle cx="165.26" cy="446.91" r="2.04"/>
<circle cx="171.17" cy="446.91" r="2.04"/>
<circle cx="177.08" cy="446.91" r="2.04"/>
<circle cx="183.00" cy="446.91" r="2.04"/>
<circle cx="94.30" cy="453.45" r="2.04"/>
<circle cx="100.21" cy="453.45" r="2.04"/>
<circle cx="106.13" cy="453.45" r="2.04"/>
<circle cx="112.04" cy="453.45" r="2.04"/>
<circle cx="117.95" cy="453.45" r="2.04"/>
<circle cx="123.86" cy="453.45" r="2.04"/>
<circle cx="129.78" cy="453.45" r="2.04"/>
<circle cx="135.69" cy="453.45" r="2.04"/>
<circle cx="141.60" cy="453.45" r="2.04"/>
<circle cx="147.52" cy="453.45" r="2.04"/>
<circle cx="153.43" cy="453.45" r="2.04"/>
<circle cx="159.34" cy="453.45" r="2.04"/>
<circle cx="165.26" cy="453.45" r="2.04"/>
<circle cx="171.17" cy="453.45" r="2.04"/>
<circle cx="177.08" cy="453.45" r="2.04"/>
<circle cx="183.00" cy="453.45" r="2.04"/>
<circle cx="94.30" cy="460.00" r="2.04"/>
<circle cx="100.21" cy="460.00" r="2.04"/>
<circle cx="106.13" cy="460.00" r="2.04"/>
<circle cx="112.04" cy="460.00" r="2.04"/>
<circle cx="117.95" cy="460.00" r="2.04"/>
<circle cx="123.86" cy="460.00" r="2.04"/>
<circle cx="129.78" cy="460.00" r="2.04"/>
<circle cx="135.69" cy="460.00" r="2.04"/>
<circle cx="141.60" cy="460.00" r="2.04"/>
<circle cx="147.52" cy="460.00" r="2.04"/>
<circle cx="153.43" cy="460.00" r="2.04"/>
<circle cx="159.34" cy="460.00" r="2.04"/>
<circle cx="165.26" cy="460.00" r="2.04"/>
<circle cx="171.17" cy="460.00" r="2.04"/>
<circle cx="177.08" cy="460.00" r="2.04"/>
<circle cx="183.00" cy="460.00" r="2.04"/>
<circle cx="94.30" cy="466.54" r="2.04"/>
<circle cx="100.21" cy="466.54" r="2.04"/>
<circle cx="106.13" cy="466.54" r="2.04"/>
<circle cx="112.04" cy="466.54" r="2.04"/>
<circle cx="117.95" cy="466.54" r="2.04"/>
<circle cx="123.86" cy="466.54" r="2.04"/>
<circle cx="129.78" cy="466.54" r="2.04"/>
<circle cx="135.69" cy="466.54" r="2.04"/>
<circle cx="141.60" cy="466.54" r="2.04"/>
<circle cx="147.52" cy="466.54" r="2.04"/>
<circle cx="153.43" cy="466.54" r="2.04"/>
<circle cx="159.34" cy="466.54" r="2.04"/>
<circle cx="165.26" cy="466.54" r="2.04"/>
<circle cx="171.17" cy="466.54" r="2.04"/>
<circle cx="177.08" cy="466.54" r="2.04"/>
<circle cx="183.00" cy="466.54" r="2.04"/>
<circle cx="94.30" cy="473.08" r="2.04"/>
<circle cx="100.21" cy="473.08" r="2.04"/>
<circle cx="106.13" cy="473.08" r="2.04"/>
<circle cx="112.04" cy="473.08" r="2.04"/>
<circle cx="117.95" cy="473.08" r="2.04"/>
<circle cx="123.86" cy="473.08" r="2.04"/>
<circle cx="129.78" cy="473.08" r="2.04"/>
<circle cx="135.69" cy="473.08" r="2.04"/>
<circle cx="141.60" cy="473.08" r="2.04"/>
<circle cx="147.52" cy="473.08" r="2.04"/>
<circle cx="153.43" cy="473.08" r="2.04"/>
<circle cx="159.34" cy="473.08" r="2.04"/>
<circle cx="165.26" cy="473.08" r="2.04"/>
<circle cx="171.17" cy="473.08" r="2.04"/>
<circle cx="177.08" cy="473.08" r="2.04"/>
<circle cx="183.00" cy="473.08" r="2.04"/>
<circle cx="94.30" cy="479.63" r="2.04"/>
<circle cx="100.21" cy="479.63" r="2.04"/>
<circle cx="106.13" cy="479.63" r="2.04"/>
<circle cx="112.04" cy="479.63" r="2.04"/>
<circle cx="117.95" cy="479.63" r="2.04"/>
<circle cx="123.86" cy="479.63" r="2.04"/>
<circle cx="129.78" cy="479.63" r="2.04"/>
<circle cx="135.69" cy="479.63" r="2.04"/>
<circle cx="141.60" cy="479.63" r="2.04"/>
<circle cx="147.52" cy="479.63" r="2.04"/>
<circle cx="153.43" cy="479.63" r="2.04"/>
<circle cx="159.34" cy="479.63" r="2.04"/>
<circle cx="165.26" cy="479.63" r="2.04"/>
<circle cx="171.17" cy="479.63" r="2.04"/>
<circle cx="177.08" cy="479.63" r="2.04"/>
<circle cx="183.00" cy="479.63" r="2.04"/>
<circle cx="94.30" cy="486.17" r="2.04"/>
<circle cx="100.21" cy="486.17" r="2.04"/>
<circle cx="106.13" cy="486.17" r="2.04"/>
<circle cx="112.04" cy="486.17" r="2.04"/>
<circle cx="117.95" cy="486.17" r="2.04"/>
<circle cx="123.86" cy="486.17" r="2.04"/>
<circle cx="129.78" cy="486.17" r="2.04"/>
<circle cx="135.69" cy="486.17" r="2.04"/>
<circle cx="141.60" cy="486.17" r="2.04"/>
<circle cx="147.52" cy="486.17" r="2.04"/>
<circle cx="153.43" cy="486.17" r="2.04"/>
<circle cx="159.34" cy="486.17" r="2.04"/>
<circle cx="165.26" cy="486.17" r="2.04"/>
<circle cx="171.17" cy="486.17" r="2.04"/>
<circle cx="177.08" cy="486.17" r="2.04"/>
<circle cx="94.30" cy="492.72" r="2.04"/>
<circle cx="100.21" cy="492.72" r="2.04"/>
<circle cx="106.13" cy="492.72" r="2.04"/>
<circle cx="112.04" cy="492.72" r="2.04"/>
<circle cx="117.95" cy="492.72" r="2.04"/>
<circle cx="123.86" cy="492.72" r="2.04"/>
<circle cx="129.78" cy="492.72" r="2.04"/>
<circle cx="135.69" cy="492.72" r="2.04"/>
<circle cx="141.60" cy="492.72" r="2.04"/>
<circle cx="147.52" cy="492.72" r="2.04"/>
<circle cx="153.43" cy="492.72" r="2.04"/>
<circle cx="159.34" cy="492.72" r="2.04"/>
<circle cx="165.26" cy="492.72" r="2.04"/>
<circle cx="171.17" cy="492.72" r="2.04"/>
<circle cx="177.08" cy="492.72" r="2.04"/>
<circle cx="94.30" cy="499.26" r="2.04"/>
<circle cx="100.21" cy="499.26" r="2.04"/>
<circle cx="106.13" cy="499.26" r="2.04"/>
<circle cx="112.04" cy="499.26" r="2.04"/>
<circle cx="117.95" cy="499.26" r="2.04"/>
<circle cx="123.86" cy="499.26" r="2.04"/>
<circle cx="129.78" cy="499.26" r="2.04"/>
<circle cx="135.69" cy="499.26" r="2.04"/>
<circle cx="141.60" cy="499.26" r="2.04"/>
<circle cx="147.52" cy="499.26" r="2.04"/>
<circle cx="153.43" cy="499.26" r="2.04"/>
<circle cx="159.34" cy="499.26" r="2.04"/>
<circle cx="165.26" cy="499.26" r="2.04"/>
<circle cx="171.17" cy="499.26" r="2.04"/>
<circle cx="177.08" cy="499.26" r="2.04"/>
<circle cx="94.30" cy="505.80" r="2.04"/>
<circle cx="100.21" cy="505.80" r="2.04"/>
<circle cx="106.13" cy="505.80" r="2.04"/>
<circle cx="112.04" cy="505.80" r="2.04"/>
<circle cx="117.95" cy="505.80" r="2.04"/>
<circle cx="123.86" cy="505.80" r="2.04"/>
<circle cx="129.78" cy="505.80" r="2.04"/>
<circle cx="135.69" cy="505.80" r="2.04"/>
<circle cx="141.60" cy="505.80" r="2.04"/>
<circle cx="147.52" cy="505.80" r="2.04"/>
<circle cx="153.43" cy="505.80" r="2.04"/>
<circle cx="159.34" cy="505.80" r="2.04"/>
<circle cx="165.26" cy="505.80" r="2.04"/>
<circle cx="171.17" cy="505.80" r="2.04"/>
<circle cx="177.08" cy="505.80" r="2.04"/>
<circle cx="94.30" cy="512.35" r="2.04"/>
<circle cx="100.21" cy="512.35" r="2.04"/>
<circle cx="106.13" cy="512.35" r="2.04"/>
<circle cx="112.04" cy="512.35" r="2.04"/>
<circle cx="117.95" cy="512.35" r="2.04"/>
<circle cx="123.86" cy="512.35" r="2.04"/>
<circle cx="129.78" cy="512.35" r="2.04"/>
<circle cx="135.69" cy="512.35" r="2.04"/>
<circle cx="147.52" cy="512.35" r="2.04"/>
<circle cx="153.43" cy="512.35" r="2.04"/>
<circle cx="159.34" cy="512.35" r="2.04"/>
<circle cx="165.26" cy="512.35" r="2.04"/>
<circle cx="171.17" cy="512.35" r="2.04"/>
<circle cx="177.08" cy="512.35" r="2.04"/>
<circle cx="183.00" cy="512.35" r="2.04"/>
<circle cx="94.30" cy="518.89" r="2.04"/>
<circle cx="100.21" cy="518.89" r="2.04"/>
<circle cx="106.13" cy="518.89" r="2.04"/>
<circle cx="112.04" cy="518.89" r="2.04"/>
<circle cx="117.95" cy="518.89" r="2.04"/>
<circle cx="123.86" cy="518.89" r="2.04"/>
<circle cx="129.78" cy="518.89" r="2.04"/>
<circle cx="135.69" cy="518.89" r="2.04"/>
<circle cx="147.52" cy="518.89" r="2.04"/>
<circle cx="153.43" cy="518.89" r="2.04"/>
<circle cx="159.34" cy="518.89" r="2.04"/>
<circle cx="165.26" cy="518.89" r="2.04"/>
<circle cx="171.17" cy="518.89" r="2.04"/>
<circle cx="177.08" cy="518.89" r="2.04"/>
<circle cx="183.00" cy="518.89" r="2.04"/>
<circle cx="94.30" cy="525.44" r="2.04"/>
<circle cx="100.21" cy="525.44" r="2.04"/>
<circle cx="106.13" cy="525.44" r="2.04"/>
<circle cx="112.04" cy="525.44" r="2.04"/>
<circle cx="117.95" cy="525.44" r="2.04"/>
<circle cx="123.86" cy="525.44" r="2.04"/>
<circle cx="129.78" cy="525.44" r="2.04"/>
<circle cx="135.69" cy="525.44" r="2.04"/>
<circle cx="147.52" cy="525.44" r="2.04"/>
<circle cx="153.43" cy="525.44" r="2.04"/>
<circle cx="159.34" cy="525.44" r="2.04"/>
<circle cx="165.26" cy="525.44" r="2.04"/>
<circle cx="171.17" cy="525.44" r="2.04"/>
<circle cx="177.08" cy="525.44" r="2.04"/>
<circle cx="183.00" cy="525.44" r="2.04"/>
<circle cx="94.30" cy="531.98" r="2.04"/>
<circle cx="100.21" cy="531.98" r="2.04"/>
<circle cx="106.13" cy="531.98" r="2.04"/>
<circle cx="112.04" cy="531.98" r="2.04"/>
<circle cx="117.95" cy="531.98" r="2.04"/>
<circle cx="123.86" cy="531.98" r="2.04"/>
<circle cx="129.78" cy="531.98" r="2.04"/>
<circle cx="135.69" cy="531.98" r="2.04"/>
<circle cx="147.52" cy="531.98" r="2.04"/>
<circle cx="153.43" cy="531.98" r="2.04"/>
<circle cx="159.34" cy="531.98" r="2.04"/>
<circle cx="165.26" cy="531.98" r="2.04"/>
<circle cx="171.17" cy="531.98" r="2.04"/>
<circle cx="177.08" cy="531.98" r="2.04"/>
<circle cx="183.00" cy="531.98" r="2.04"/>
<circle cx="94.30" cy="538.52" r="2.04"/>
<circle cx="100.21" cy="538.52" r="2.04"/>
<circle cx="106.13" cy="538.52" r="2.04"/>
<circle cx="112.04" cy="538.52" r="2.04"/>
<circle cx="117.95" cy="538.52" r="2.04"/>
<circle cx="123.86" cy="538.52" r="2.04"/>
<circle cx="129.78" cy="538.52" r="2.04"/>
<circle cx="141.60" cy="538.52" r="2.04"/>
<circle cx="147.52" cy="538.52" r="2.04"/>
<circle cx="153.43" cy="538.52" r="2.04"/>
<circle cx="159.34" cy="538.52" r="2.04"/>
<circle cx="165.26" cy="538.52" r="2.04"/>
<circle cx="171.17" cy="538.52" r="2.04"/>
<circle cx="177.08" cy="538.52" r="2.04"/>
<circle cx="183.00" cy="538.52" r="2.04"/>
<circle cx="94.30" cy="545.07" r="2.04"/>
<circle cx="100.21" cy="545.07" r="2.04"/>
<circle cx="106.13" cy="545.07" r="2.04"/>
<circle cx="112.04" cy="545.07" r="2.04"/>
<circle cx="117.95" cy="545.07" r="2.04"/>
<circle cx="123.86" cy="545.07" r="2.04"/>
<circle cx="135.69" cy="545.07" r="2.04"/>
<circle cx="141.60" cy="545.07" r="2.04"/>
<circle cx="147.52" cy="545.07" r="2.04"/>
<circle cx="159.34" cy="545.07" r="2.04"/>
<circle cx="165.26" cy="545.07" r="2.04"/>
<circle cx="171.17" cy="545.07" r="2.04"/>
<circle cx="177.08" cy="545.07" r="2.04"/>
<circle cx="183.00" cy="545.07" r="2.04"/>
<circle cx="94.30" cy="551.61" r="2.04"/>
<circle cx="100.21" cy="551.61" r="2.04"/>
<circle cx="106.13" cy="551.61" r="2.04"/>
<circle cx="112.04" cy="551.61" r="2.04"/>
<circle cx="117.95" cy="551.61" r="2.04"/>
<circle cx="123.86" cy="551.61" r="2.04"/>
<circle cx="135.69" cy="551.61" r="2.04"/>
<circle cx="141.60" cy="551.61" r="2.04"/>
<circle cx="147.52" cy="551.61" r="2.04"/>
<circle cx="159.34" cy="551.61" r="2.04"/>
<circle cx="165.26" cy="551.61" r="2.04"/>
<circle cx="171.17" cy="551.61" r="2.04"/>
<circle cx="177.08" cy="551.61" r="2.04"/>
<circle cx="183.00" cy="551.61" r="2.04"/>
</g>
<g fill="#000">
<circle cx="183.00" cy="486.17" r="2.25"/>
<circle cx="183.00" cy="492.72" r="2.25"/>
<circle cx="183.00" cy="499.26" r="2.25"/>
<circle cx="183.00" cy="505.80" r="2.25"/>
<circle cx="141.60" cy="512.35" r="2.25"/>
<circle cx="141.60" cy="518.89" r="2.25"/>
<circle cx="141.60" cy="525.44" r="2.25"/>
<circle cx="141.60" cy="531.98" r="2.25"/>
<circle cx="135.69" cy="538.52" r="2.25"/>
<circle cx="129.78" cy="545.07" r="2.25"/>
<circle cx="153.43" cy="545.07" r="2.25"/>
<circle cx="129.78" cy="551.61" r="2.25"/>
<circle cx="153.43" cy="551.61" r="2.25"/>
<circle cx="94.30" cy="558.16" r="2.25"/>
<circle cx="100.21" cy="558.16" r="2.25"/>
<circle cx="106.13" cy="558.16" r="2.25"/>
<circle cx="112.04" cy="558.16" r="2.25"/>
<circle cx="117.95" cy="558.16" r="2.25"/>
<circle cx="123.86" cy="558.16" r="2.25"/>
<circle cx="129.78" cy="558.16" r="2.25"/>
<circle cx="135.69" cy="558.16" r="2.25"/>
<circle cx="141.60" cy="558.16" r="2.25"/>
<circle cx="147.52" cy="558.16" r="2.25"/>
<circle cx="153.43" cy="558.16" r="2.25"/>
<circle cx="159.34" cy="558.16" r="2.25"/>
<circle cx="165.26" cy="558.16" r="2.25"/>
<circle cx="171.17" cy="558.16" r="2.25"/>
<circle cx="177.08" cy="558.16" r="2.25"/>
<circle cx="183.00" cy="558.16" r="2.25"/>
<circle cx="94.30" cy="564.70" r="2.25"/>
<circle cx="100.21" cy="564.70" r="2.25"/>
<circle cx="106.13" cy="564.70" r="2.25"/>
<circle cx="112.04" cy="564.70" r="2.25"/>
<circle cx="117.95" cy="564.70" r="2.25"/>
<circle cx="123.86" cy="564.70" r="2.25"/>
<circle cx="129.78" cy="564.70" r="2.25"/>
<circle cx="135.69" cy="564.70" r="2.25"/>
<circle cx="141.60" cy="564.70" r="2.25"/>
<circle cx="147.52" cy="564.70" r="2.25"/>
<circle cx="153.43" cy="564.70" r="2.25"/>
<circle cx="159.34" cy="564.70" r="2.25"/>
<circle cx="165.26" cy="564.70" r="2.25"/>
<circle cx="171.17" cy="564.70" r="2.25"/>
<circle cx="177.08" cy="564.70" r="2.25"/>
<circle cx="183.00" cy="564.70" r="2.25"/>
</g>
</g>
<g>
<path d="M198.90 401.40H296.30M198.90 408.08H296.30M198.90 414.76H296.30M198.90 421.44H296.30M198.90 428.12H296.30M198.90 434.80H296.30M198.90 441.48H296.30M198.90 448.16H296.30M198.90 454.84H296.30M198.90 461.52H296.30M198.90 468.20H296.30M198.90 474.88H296.30M198.90 481.56H296.30M198.90 488.24H296.30M198.90 494.92H296.30M198.90 501.60H296.30M198.90 508.28H296.30M198.90 514.96H296.30M198.90 521.64H296.30M198.90 528.32H296.30M198.90 535.00H296.30M198.90 541.68H296.30M198.90 548.36H296.30M198.90 555.04H296.30M198.90 561.72H296.30M198.90 568.40H296.30" stroke="#222" stroke-width="0.50" fill="none"/>
<g fill="#fff" stroke="#222" stroke-width="0.44">
<circle cx="202.50" cy="401.40" r="2.07"/>
<circle cx="208.51" cy="401.40" r="2.07"/>
<circle cx="214.53" cy="401.40" r="2.07"/>
<circle cx="220.54" cy="401.40" r="2.07"/>
<circle cx="226.55" cy="401.40" r="2.07"/>
<circle cx="232.56" cy="401.40" r="2.07"/>
<circle cx="238.58" cy="401.40" r="2.07"/>
<circle cx="244.59" cy="401.40" r="2.07"/>
<circle cx="250.60" cy="401.40" r="2.07"/>
<circle cx="256.62" cy="401.40" r="2.07"/>
<circle cx="262.63" cy="401.40" r="2.07"/>
<circle cx="268.64" cy="401.40" r="2.07"/>
<circle cx="274.66" cy="401.40" r="2.07"/>
<circle cx="280.67" cy="401.40" r="2.07"/>
<circle cx="286.68" cy="401.40" r="2.07"/>
<circle cx="292.69" cy="401.40" r="2.07"/>
<circle cx="202.50" cy="408.08" r="2.07"/>
<circle cx="208.51" cy="408.08" r="2.07"/>
<circle cx="214.53" cy="408.08" r="2.07"/>
<circle cx="220.54" cy="408.08" r="2.07"/>
<circle cx="226.55" cy="408.08" r="2.07"/>
<circle cx="232.56" cy="408.08" r="2.07"/>
<circle cx="238.58" cy="408.08" r="2.07"/>
<circle cx="244.59" cy="408.08" r="2.07"/>
<circle cx="250.60" cy="408.08" r="2.07"/>
<circle cx="256.62" cy="408.08" r="2.07"/>
<circle cx="262.63" cy="408.08" r="2.07"/>
<circle cx="268.64" cy="408.08" r="2.07"/>
<circle cx="274.66" cy="408.08" r="2.07"/>
<circle cx="280.67" cy="408.08" r="2.07"/>
<circle cx="286.68" cy="408.08" r="2.07"/>
<circle cx="292.69" cy="408.08" r="2.07"/>
<circle cx="202.50" cy="414.76" r="2.07"/>
<circle cx="208.51" cy="414.76" r="2.07"/>
<circle cx="214.53" cy="414.76" r="2.07"/>
<circle cx="220.54" cy="414.76" r="2.07"/>
<circle cx="226.55" cy="414.76" r="2.07"/>
<circle cx="232.56" cy="414.76" r="2.07"/>
<circle cx="238.58" cy="414.76" r="2.07"/>
<circle cx="244.59" cy="414.76" r="2.07"/>
<circle cx="250.60" cy="414.76" r="2.07"/>
<circle cx="256.62" cy="414.76" r="2.07"/>
<circle cx="262.63" cy="414.76" r="2.07"/>
<circle cx="268.64" cy="414.76" r="2.07"/>
<circle cx="274.66" cy="414.76" r="2.07"/>
<circle cx="280.67" cy="414.76" r="2.07"/>
<circle cx="286.68" cy="414.76" r="2.07"/>
<circle cx="292.69" cy="414.76" r="2.07"/>
<circle cx="202.50" cy="421.44" r="2.07"/>
<circle cx="208.51" cy="421.44" r="2.07"/>
<circle cx="214.53" cy="421.44" r="2.07"/>
<circle cx="220.54" cy="421.44" r="2.07"/>
<circle cx="226.55" cy="421.44" r="2.07"/>
<circle cx="232.56" cy="421.44" r="2.07"/>
<circle cx="238.58" cy="421.44" r="2.07"/>
<circle cx="244.59" cy="421.44" r="2.07"/>
<circle cx="250.60" cy="421.44" r="2.07"/>
<circle cx="256.62" cy="421.44" r="2.07"/>
<circle cx="262.63" cy="421.44" r="2.07"/>
<circle cx="268.64" cy="421.44" r="2.07"/>
<circle cx="274.66" cy="421.44" r="2.07"/>
<circle cx="280.67" cy="421.44" r="2.07"/>
<circle cx="286.68" cy="421.44" r="2.07"/>
<circle cx="292.69" cy="421.44" r="2.07"/>
<circle cx="202.50" cy="428.12" r="2.07"/>
<circle cx="208.51" cy="428.12" r="2.07"/>
<circle cx="214.53" cy="428.12" r="2.07"/>
<circle cx="220.54" cy="428.12" r="2.07"/>
<circle cx="226.55" cy="428.12" r="2.07"/>
<circle cx="232.56" cy="428.12" r="2.07"/>
<circle cx="238.58" cy="428.12" r="2.07"/>
<circle cx="244.59" cy="428.12" r="2.07"/>
<circle cx="250.60" cy="428.12" r="2.07"/>
<circle cx="256.62" cy="428.12" r="2.07"/>
<circle cx="262.63" cy="428.12" r="2.07"/>
<circle cx="268.64" cy="428.12" r="2.07"/>
<circle cx="274.66" cy="428.12" r="2.07"/>
<circle cx="280.67" cy="428.12" r="2.07"/>
<circle cx="286.68" cy="428.12" r="2.07"/>
<circle cx="292.69" cy="428.12" r="2.07"/>
<circle cx="202.50" cy="434.80" r="2.07"/>
<circle cx="208.51" cy="434.80" r="2.07"/>
<circle cx="214.53" cy="434.80" r="2.07"/>
<circle cx="220.54" cy="434.80" r="2.07"/>
<circle cx="226.55" cy="434.80" r="2.07"/>
<circle cx="232.56" cy="434.80" r="2.07"/>
<circle cx="238.58" cy="434.80" r="2.07"/>
<circle cx="244.59" cy="434.80" r="2.07"/>
<circle cx="250.60" cy="434.80" r="2.07"/>
<circle cx="256.62" cy="434.80" r="2.07"/>
<circle cx="262.63" cy="434.80" r="2.07"/>
<circle cx="268.64" cy="434.80" r="2.07"/>
<circle cx="274.66" cy="434.80" r="2.07"/>
<circle cx="280.67" cy="434.80" r="2.07"/>
<circle cx="286.68" cy="434.80" r="2.07"/>
<circle cx="292.69" cy="434.80" r="2.07"/>
<circle cx="202.50" cy="441.48" r="2.07"/>
<circle cx="208.51" cy="441.48" r="2.07"/>
<circle cx="214.53" cy="441.48" r="2.07"/>
<circle cx="220.54" cy="441.48" r="2.07"/>
<circle cx="226.55" cy="441.48" r="2.07"/>
<circle cx="232.56" cy="441.48" r="2.07"/>
<circle cx="238.58" cy="441.48" r="2.07"/>
<circle cx="244.59" cy="441.48" r="2.07"/>
<circle cx="250.60" cy="441.48" r="2.07"/>
<circle cx="256.62" cy="441.48" r="2.07"/>
<circle cx="262.63" cy="441.48" r="2.07"/>
<circle cx="268.64" cy="441.48" r="2.07"/>
<circle cx="274.66" cy="441.48" r="2.07"/>
<circle cx="280.67" cy="441.48" r="2.07"/>
<circle cx="286.68" cy="441.48" r="2.07"/>
<circle cx="292.69" cy="441.48" r="2.07"/>
<circle cx="202.50" cy="448.16" r="2.07"/>
<circle cx="208.51" cy="448.16" r="2.07"/>
<circle cx="214.53" cy="448.16" r="2.07"/>
<circle cx="220.54" cy="448.16" r="2.07"/>
<circle cx="226.55" cy="448.16" r="2.07"/>
<circle cx="232.56" cy="448.16" r="2.07"/>
<circle cx="238.58" cy="448.16" r="2.07"/>
<circle cx="244.59" cy="448.16" r="2.07"/>
<circle cx="250.60" cy="448.16" r="2.07"/>
<circle cx="256.62" cy="448.16" r="2.07"/>
<circle cx="262.63" cy="448.16" r="2.07"/>
<circle cx="268.64" cy="448.16" r="2.07"/>
<circle cx="274.66" cy="448.16" r="2.07"/>
<circle cx="280.67" cy="448.16" r="2.07"/>
<circle cx="286.68" cy="448.16" r="2.07"/>
<circle cx="292.69" cy="448.16" r="2.07"/>
<circle cx="202.50" cy="454.84" r="2.07"/>
<circle cx="208.51" cy="454.84" r="2.07"/>
<circle cx="214.53" cy="454.84" r="2.07"/>
<circle cx="220.54" cy="454.84" r="2.07"/>
<circle cx="226.55" cy="454.84" r="2.07"/>
<circle cx="232.56" cy="454.84" r="2.07"/>
<circle cx="238.58" cy="454.84" r="2.07"/>
<circle cx="244.59" cy="454.84" r="2.07"/>
<circle cx="250.60" cy="454.84" r="2.07"/>
<circle cx="256.62" cy="454.84" r="2.07"/>
<circle cx="262.63" cy="454.84" r="2.07"/>
<circle cx="268.64" cy="454.84" r="2.07"/>
<circle cx="274.66" cy="454.84" r="2.07"/>
<circle cx="280.67" cy="454.84" r="2.07"/>
<circle cx="286.68" cy="454.84" r="2.07"/>
<circle cx="292.69" cy="454.84" r="2.07"/>
<circle cx="202.50" cy="461.52" r="2.07"/>
<circle cx="208.51" cy="461.52" r="2.07"/>
<circle cx="214.53" cy="461.52" r="2.07"/>
<circle cx="220.54" cy="461.52" r="2.07"/>
<circle cx="226.55" cy="461.52" r="2.07"/>
<circle cx="232.56" cy="461.52" r="2.07"/>
<circle cx="238.58" cy="461.52" r="2.07"/>
<circle cx="244.59" cy="461.52" r="2.07"/>
<circle cx="250.60" cy="461.52" r="2.07"/>
<circle cx="256.62" cy="461.52" r="2.07"/>
<circle cx="262.63" cy="461.52" r="2.07"/>
<circle cx="268.64" cy="461.52" r="2.07"/>
<circle cx="274.66" cy="461.52" r="2.07"/>
<circle cx="280.67" cy="461.52" r="2.07"/>
<circle cx="286.68" cy="461.52" r="2.07"/>
<circle cx="292.69" cy="461.52" r="2.07"/>
<circle cx="202.50" cy="468.20" r="2.07"/>
<circle cx="208.51" cy="468.20" r="2.07"/>
<circle cx="214.53" cy="468.20" r="2.07"/>
<circle cx="220.54" cy="468.20" r="2.07"/>
<circle cx="226.55" cy="468.20" r="2.07"/>
<circle cx="232.56" cy="468.20" r="2.07"/>
<circle cx="238.58" cy="468.20" r="2.07"/>
<circle cx="244.59" cy="468.20" r="2.07"/>
<circle cx="250.60" cy="468.20" r="2.07"/>
<circle cx="256.62" cy="468.20" r="2.07"/>
<circle cx="262.63" cy="468.20" r="2.07"/>
<circle cx="268.64" cy="468.20" r="2.07"/>
<circle cx="274.66" cy="468.20" r="2.07"/>
<circle cx="280.67" cy="468.20" r="2.07"/>
<circle cx="286.68" cy="468.20" r="2.07"/>
<circle cx="292.69" cy="468.20" r="2.07"/>
<circle cx="202.50" cy="474.88" r="2.07"/>
<circle cx="208.51" cy="474.88" r="2.07"/>
<circle cx="214.53" cy="474.88" r="2.07"/>
<circle cx="220.54" cy="474.88" r="2.07"/>
<circle cx="226.55" cy="474.88" r="2.07"/>
<circle cx="232.56" cy="474.88" r="2.07"/>
<circle cx="238.58" cy="474.88" r="2.07"/>
<circle cx="244.59" cy="474.88" r="2.07"/>
<circle cx="250.60" cy="474.88" r="2.07"/>
<circle cx="256.62" cy="474.88" r="2.07"/>
<circle cx="262.63" cy="474.88" r="2.07"/>
<circle cx="268.64" cy="474.88" r="2.07"/>
<circle cx="274.66" cy="474.88" r="2.07"/>
<circle cx="280.67" cy="474.88" r="2.07"/>
<circle cx="286.68" cy="474.88" r="2.07"/>
<circle cx="292.69" cy="474.88" r="2.07"/>
<circle cx="202.50" cy="481.56" r="2.07"/>
<circle cx="208.51" cy="481.56" r="2.07"/>
<circle cx="214.53" cy="481.56" r="2.07"/>
<circle cx="220.54" cy="481.56" r="2.07"/>
<circle cx="226.55" cy="481.56" r="2.07"/>
<circle cx="232.56" cy="481.56" r="2.07"/>
<circle cx="238.58" cy="481.56" r="2.07"/>
<circle cx="244.59" cy="481.56" r="2.07"/>
<circle cx="250.60" cy="481.56" r="2.07"/>
<circle cx="256.62" cy="481.56" r="2.07"/>
<circle cx="262.63" cy="481.56" r="2.07"/>
<circle cx="268.64" cy="481.56" r="2.07"/>
<circle cx="274.66" cy="481.56" r="2.07"/>
<circle cx="280.67" cy="481.56" r="2.07"/>
<circle cx="286.68" cy="481.56" r="2.07"/>
<circle cx="292.69" cy="481.56" r="2.07"/>
<circle cx="202.50" cy="488.24" r="2.07"/>
<circle cx="208.51" cy="488.24" r="2.07"/>
<circle cx="214.53" cy="488.24" r="2.07"/>
<circle cx="220.54" cy="488.24" r="2.07"/>
<circle cx="226.55" cy="488.24" r="2.07"/>
<circle cx="232.56" cy="488.24" r="2.07"/>
<circle cx="238.58" cy="488.24" r="2.07"/>
<circle cx="244.59" cy="488.24" r="2.07"/>
<circle cx="250.60" cy="488.24" r="2.07"/>
<circle cx="256.62" cy="488.24" r="2.07"/>
<circle cx="262.63" cy="488.24" r="2.07"/>
<circle cx="268.64" cy="488.24" r="2.07"/>
<circle cx="274.66" cy="488.24" r="2.07"/>
<circle cx="280.67" cy="488.24" r="2.07"/>
<circle cx="286.68" cy="488.24" r="2.07"/>
<circle cx="292.69" cy="488.24" r="2.07"/>
<circle cx="202.50" cy="494.92" r="2.07"/>
<circle cx="208.51" cy="494.92" r="2.07"/>
<circle cx="214.53" cy="494.92" r="2.07"/>
<circle cx="220.54" cy="494.92" r="2.07"/>
<circle cx="226.55" cy="494.92" r="2.07"/>
<circle cx="232.56" cy="494.92" r="2.07"/>
<circle cx="238.58" cy="494.92" r="2.07"/>
<circle cx="244.59" cy="494.92" r="2.07"/>
<circle cx="250.60" cy="494.92" r="2.07"/>
<circle cx="256.62" cy="494.92" r="2.07"/>
<circle cx="262.63" cy="494.92" r="2.07"/>
<circle cx="268.64" cy="494.92" r="2.07"/>
<circle cx="274.66" cy="494.92" r="2.07"/>
<circle cx="280.67" cy="494.92" r="2.07"/>
<circle cx="286.68" cy="494.92" r="2.07"/>
<circle cx="292.69" cy="494.92" r="2.07"/>
<circle cx="202.50" cy="501.60" r="2.07"/>
<circle cx="208.51" cy="501.60" r="2.07"/>
<circle cx="214.53" cy="501.60" r="2.07"/>
<circle cx="220.54" cy="501.60" r="2.07"/>
<circle cx="226.55" cy="501.60" r="2.07"/>
<circle cx="232.56" cy="501.60" r="2.07"/>
<circle cx="238.58" cy="501.60" r="2.07"/>
<circle cx="244.59" cy="501.60" r="2.07"/>
<circle cx="250.60" cy="501.60" r="2.07"/>
<circle cx="256.62" cy="501.60" r="2.07"/>
<circle cx="262.63" cy="501.60" r="2.07"/>
<circle cx="268.64" cy="501.60" r="2.07"/>
<circle cx="274.66" cy="501.60" r="2.07"/>
<circle cx="280.67" cy="501.60" r="2.07"/>
<circle cx="286.68" cy="501.60" r="2.07"/>
<circle cx="292.69" cy="501.60" r="2.07"/>
<circle cx="202.50" cy="508.28" r="2.07"/>
<circle cx="208.51" cy="508.28" r="2.07"/>
<circle cx="214.53" cy="508.28" r="2.07"/>
<circle cx="220.54" cy="508.28" r="2.07"/>
<circle cx="226.55" cy="508.28" r="2.07"/>
<circle cx="232.56" cy="508.28" r="2.07"/>
<circle cx="238.58" cy="508.28" r="2.07"/>
<circle cx="244.59" cy="508.28" r="2.07"/>
<circle cx="250.60" cy="508.28" r="2.07"/>
<circle cx="256.62" cy="508.28" r="2.07"/>
<circle cx="262.63" cy="508.28" r="2.07"/>
<circle cx="268.64" cy="508.28" r="2.07"/>
<circle cx="274.66" cy="508.28" r="2.07"/>
<circle cx="280.67" cy="508.28" r="2.07"/>
<circle cx="286.68" cy="508.28" r="2.07"/>
<circle cx="292.69" cy="508.28" r="2.07"/>
<circle cx="202.50" cy="514.96" r="2.07"/>
<circle cx="208.51" cy="514.96" r="2.07"/>
<circle cx="214.53" cy="514.96" r="2.07"/>
<circle cx="220.54" cy="514.96" r="2.07"/>
<circle cx="226.55" cy="514.96" r="2.07"/>
<circle cx="232.56" cy="514.96" r="2.07"/>
<circle cx="238.58" cy="514.96" r="2.07"/>
<circle cx="244.59" cy="514.96" r="2.07"/>
<circle cx="250.60" cy="514.96" r="2.07"/>
<circle cx="256.62" cy="514.96" r="2.07"/>
<circle cx="262.63" cy="514.96" r="2.07"/>
<circle cx="268.64" cy="514.96" r="2.07"/>
<circle cx="274.66" cy="514.96" r="2.07"/>
<circle cx="280.67" cy="514.96" r="2.07"/>
<circle cx="286.68" cy="514.96" r="2.07"/>
<circle cx="292.69" cy="514.96" r="2.07"/>
<circle cx="202.50" cy="521.64" r="2.07"/>
<circle cx="208.51" cy="521.64" r="2.07"/>
<circle cx="214.53" cy="521.64" r="2.07"/>
<circle cx="220.54" cy="521.64" r="2.07"/>
<circle cx="226.55" cy="521.64" r="2.07"/>
<circle cx="232.56" cy="521.64" r="2.07"/>
<circle cx="238.58" cy="521.64" r="2.07"/>
<circle cx="244.59" cy="521.64" r="2.07"/>
<circle cx="250.60" cy="521.64" r="2.07"/>
<circle cx="256.62" cy="521.64" r="2.07"/>
<circle cx="262.63" cy="521.64" r="2.07"/>
<circle cx="268.64" cy="521.64" r="2.07"/>
<circle cx="274.66" cy="521.64" r="2.07"/>
<circle cx="280.67" cy="521.64" r="2.07"/>
<circle cx="286.68" cy="521.64" r="2.07"/>
<circle cx="292.69" cy="521.64" r="2.07"/>
<circle cx="202.50" cy="528.32" r="2.07"/>
<circle cx="208.51" cy="528.32" r="2.07"/>
<circle cx="214.53" cy="528.32" r="2.07"/>
<circle cx="220.54" cy="528.32" r="2.07"/>
<circle cx="226.55" cy="528.32" r="2.07"/>
<circle cx="232.56" cy="528.32" r="2.07"/>
<circle cx="238.58" cy="528.32" r="2.07"/>
<circle cx="244.59" cy="528.32" r="2.07"/>
<circle cx="250.60" cy="528.32" r="2.07"/>
<circle cx="256.62" cy="528.32" r="2.07"/>
<circle cx="262.63" cy="528.32" r="2.07"/>
<circle cx="268.64" cy="528.32" r="2.07"/>
<circle cx="274.66" cy="528.32" r="2.07"/>
<circle cx="280.67" cy="528.32" r="2.07"/>
<circle cx="286.68" cy="528.32" r="2.07"/>
<circle cx="292.69" cy="528.32" r="2.07"/>
<circle cx="202.50" cy="535.00" r="2.07"/>
<circle cx="208.51" cy="535.00" r="2.07"/>
<circle cx="214.53" cy="535.00" r="2.07"/>
<circle cx="220.54" cy="535.00" r="2.07"/>
<circle cx="226.55" cy="535.00" r="2.07"/>
<circle cx="232.56" cy="535.00" r="2.07"/>
<circle cx="238.58" cy="535.00" r="2.07"/>
<circle cx="244.59" cy="535.00" r="2.07"/>
<circle cx="250.60" cy="535.00" r="2.07"/>
<circle cx="256.62" cy="535.00" r="2.07"/>
<circle cx="262.63" cy="535.00" r="2.07"/>
<circle cx="268.64" cy="535.00" r="2.07"/>
<circle cx="274.66" cy="535.00" r="2.07"/>
<circle cx="280.67" cy="535.00" r="2.07"/>
<circle cx="286.68" cy="535.00" r="2.07"/>
<circle cx="292.69" cy="535.00" r="2.07"/>
<circle cx="202.50" cy="541.68" r="2.07"/>
<circle cx="208.51" cy="541.68" r="2.07"/>
<circle cx="214.53" cy="541.68" r="2.07"/>
<circle cx="220.54" cy="541.68" r="2.07"/>
<circle cx="226.55" cy="541.68" r="2.07"/>
<circle cx="232.56" cy="541.68" r="2.07"/>
<circle cx="238.58" cy="541.68" r="2.07"/>
<circle cx="244.59" cy="541.68" r="2.07"/>
<circle cx="250.60" cy="541.68" r="2.07"/>
<circle cx="256.62" cy="541.68" r="2.07"/>
<circle cx="262.63" cy="541.68" r="2.07"/>
<circle cx="268.64" cy="541.68" r="2.07"/>
<circle cx="274.66" cy="541.68" r="2.07"/>
<circle cx="280.67" cy="541.68" r="2.07"/>
<circle cx="286.68" cy="541.68" r="2.07"/>
<circle cx="292.69" cy="541.68" r="2.07"/>
<circle cx="202.50" cy="548.36" r="2.07"/>
<circle cx="208.51" cy="548.36" r="2.07"/>
<circle cx="214.53" cy="548.36" r="2.07"/>
<circle cx="220.54" cy="548.36" r="2.07"/>
<circle cx="226.55" cy="548.36" r="2.07"/>
<circle cx="232.56" cy="548.36" r="2.07"/>
<circle cx="238.58" cy="548.36" r="2.07"/>
<circle cx="244.59" cy="548.36" r="2.07"/>
<circle cx="250.60" cy="548.36" r="2.07"/>
<circle cx="256.62" cy="548.36" r="2.07"/>
<circle cx="262.63" cy="548.36" r="2.07"/>
<circle cx="268.64" cy="548.36" r="2.07"/>
<circle cx="274.66" cy="548.36" r="2.07"/>
<circle cx="280.67" cy="548.36" r="2.07"/>
<circle cx="286.68" cy="548.36" r="2.07"/>
<circle cx="202.50" cy="555.04" r="2.07"/>
<circle cx="208.51" cy="555.04" r="2.07"/>
<circle cx="214.53" cy="555.04" r="2.07"/>
<circle cx="220.54" cy="555.04" r="2.07"/>
<circle cx="232.56" cy="555.04" r="2.07"/>
<circle cx="238.58" cy="555.04" r="2.07"/>
<circle cx="244.59" cy="555.04" r="2.07"/>
<circle cx="250.60" cy="555.04" r="2.07"/>
<circle cx="256.62" cy="555.04" r="2.07"/>
<circle cx="262.63" cy="555.04" r="2.07"/>
<circle cx="268.64" cy="555.04" r="2.07"/>
<circle cx="274.66" cy="555.04" r="2.07"/>
<circle cx="280.67" cy="555.04" r="2.07"/>
<circle cx="286.68" cy="555.04" r="2.07"/>
<circle cx="292.69" cy="555.04" r="2.07"/>
<circle cx="202.50" cy="561.72" r="2.07"/>
<circle cx="208.51" cy="561.72" r="2.07"/>
<circle cx="220.54" cy="561.72" r="2.07"/>
<circle cx="226.55" cy="561.72" r="2.07"/>
<circle cx="232.56" cy="561.72" r="2.07"/>
<circle cx="238.58" cy="561.72" r="2.07"/>
<circle cx="244.59" cy="561.72" r="2.07"/>
<circle cx="250.60" cy="561.72" r="2.07"/>
<circle cx="256.62" cy="561.72" r="2.07"/>
<circle cx="262.63" cy="561.72" r="2.07"/>
<circle cx="268.64" cy="561.72" r="2.07"/>
<circle cx="274.66" cy="561.72" r="2.07"/>
<circle cx="280.67" cy="561.72" r="2.07"/>
<circle cx="286.68" cy="561.72" r="2.07"/>
<circle cx="292.69" cy="561.72" r="2.07"/>
<circle cx="202.50" cy="568.40" r="2.07"/>
<circle cx="208.51" cy="568.40" r="2.07"/>
<circle cx="220.54" cy="568.40" r="2.07"/>
<circle cx="226.55" cy="568.40" r="2.07"/>
<circle cx="232.56" cy="568.40" r="2.07"/>
<circle cx="238.58" cy="568.40" r="2.07"/>
<circle cx="244.59" cy="568.40" r="2.07"/>
<circle cx="250.60" cy="568.40" r="2.07"/>
<circle cx="256.62" cy="568.40" r="2.07"/>
<circle cx="262.63" cy="568.40" r="2.07"/>
<circle cx="268.64" cy="568.40" r="2.07"/>
<circle cx="274.66" cy="568.40" r="2.07"/>
<circle cx="280.67" cy="568.40" r="2.07"/>
<circle cx="286.68" cy="568.40" r="2.07"/>
<circle cx="292.69" cy="568.40" r="2.07"/>
</g>
<g fill="#000">
<circle cx="292.69" cy="548.36" r="2.28"/>
<circle cx="226.55" cy="555.04" r="2.28"/>
<circle cx="214.53" cy="561.72" r="2.28"/>
<circle cx="214.53" cy="568.40" r="2.28"/>
</g>
</g>
<g>
<path d="M332.10 400.70H405.00M332.10 407.99H405.00M332.10 415.28H405.00M332.10 422.58H405.00M332.10 429.87H405.00M332.10 437.16H405.00M332.10 444.45H405.00M332.10 451.74H405.00M332.10 459.04H405.00M332.10 466.33H405.00M332.10 473.62H405.00M332.10 480.91H405.00M332.10 488.20H405.00M332.10 495.50H405.00M332.10 502.79H405.00M332.10 510.08H405.00M332.10 517.37H405.00M332.10 524.66H405.00M332.10 531.96H405.00M332.10 539.25H405.00M332.10 546.54H405.00M332.10 553.83H405.00M332.10 561.12H405.00M332.10 568.42H405.00M332.10 575.71H405.00M332.10 583.00H405.00M332.10 590.29H405.00" stroke="#222" stroke-width="0.55" fill="none"/>
<g fill="#fff" stroke="#222" stroke-width="0.48">
<circle cx="335.70" cy="400.70" r="2.27"/>
<circle cx="342.27" cy="400.70" r="2.27"/>
<circle cx="348.84" cy="400.70" r="2.27"/>
<circle cx="355.41" cy="400.70" r="2.27"/>
<circle cx="361.98" cy="400.70" r="2.27"/>
<circle cx="368.55" cy="400.70" r="2.27"/>
<circle cx="375.12" cy="400.70" r="2.27"/>
<circle cx="381.69" cy="400.70" r="2.27"/>
<circle cx="388.26" cy="400.70" r="2.27"/>
<circle cx="394.83" cy="400.70" r="2.27"/>
<circle cx="401.40" cy="400.70" r="2.27"/>
<circle cx="335.70" cy="407.99" r="2.27"/>
<circle cx="342.27" cy="407.99" r="2.27"/>
<circle cx="348.84" cy="407.99" r="2.27"/>
<circle cx="355.41" cy="407.99" r="2.27"/>
<circle cx="361.98" cy="407.99" r="2.27"/>
<circle cx="368.55" cy="407.99" r="2.27"/>
<circle cx="375.12" cy="407.99" r="2.27"/>
<circle cx="381.69" cy="407.99" r="2.27"/>
<circle cx="388.26" cy="407.99" r="2.27"/>
<circle cx="394.83" cy="407.99" r="2.27"/>
<circle cx="401.40" cy="407.99" r="2.27"/>
<circle cx="335.70" cy="415.28" r="2.27"/>
<circle cx="342.27" cy="415.28" r="2.27"/>
<circle cx="348.84" cy="415.28" r="2.27"/>
<circle cx="355.41" cy="415.28" r="2.27"/>
<circle cx="361.98" cy="415.28" r="2.27"/>
<circle cx="368.55" cy="415.28" r="2.27"/>
<circle cx="375.12" cy="415.28" r="2.27"/>
<circle cx="381.69" cy="415.28" r="2.27"/>
<circle cx="388.26" cy="415.28" r="2.27"/>
<circle cx="394.83" cy="415.28" r="2.27"/>
<circle cx="401.40" cy="415.28" r="2.27"/>
<circle cx="335.70" cy="422.58" r="2.27"/>
<circle cx="342.27" cy="422.58" r="2.27"/>
<circle cx="348.84" cy="422.58" r="2.27"/>
<circle cx="355.41" cy="422.58" r="2.27"/>
<circle cx="361.98" cy="422.58" r="2.27"/>
<circle cx="368.55" cy="422.58" r="2.27"/>
<circle cx="375.12" cy="422.58" r="2.27"/>
<circle cx="381.69" cy="422.58" r="2.27"/>
<circle cx="388.26" cy="422.58" r="2.27"/>
<circle cx="394.83" cy="422.58" r="2.27"/>
<circle cx="401.40" cy="422.58" r="2.27"/>
<circle cx="335.70" cy="429.87" r="2.27"/>
<circle cx="342.27" cy="429.87" r="2.27"/>
<circle cx="348.84" cy="429.87" r="2.27"/>
<circle cx="355.41" cy="429.87" r="2.27"/>
<circle cx="361.98" cy="429.87" r="2.27"/>
<circle cx="368.55" cy="429.87" r="2.27"/>
<circle cx="375.12" cy="429.87" r="2.27"/>
<circle cx="381.69" cy="429.87" r="2.27"/>
<circle cx="388.26" cy="429.87" r="2.27"/>
<circle cx="394.83" cy="429.87" r="2.27"/>
<circle cx="401.40" cy="429.87" r="2.27"/>
<circle cx="335.70" cy="437.16" r="2.27"/>
<circle cx="342.27" cy="437.16" r="2.27"/>
<circle cx="348.84" cy="437.16" r="2.27"/>
<circle cx="355.41" cy="437.16" r="2.27"/>
<circle cx="361.98" cy="437.16" r="2.27"/>
<circle cx="368.55" cy="437.16" r="2.27"/>
<circle cx="375.12" cy="437.16" r="2.27"/>
<circle cx="381.69" cy="437.16" r="2.27"/>
<circle cx="388.26" cy="437.16" r="2.27"/>
<circle cx="394.83" cy="437.16" r="2.27"/>
<circle cx="401.40" cy="437.16" r="2.27"/>
<circle cx="335.70" cy="444.45" r="2.27"/>
<circle cx="342.27" cy="444.45" r="2.27"/>
<circle cx="348.84" cy="444.45" r="2.27"/>
<circle cx="355.41" cy="444.45" r="2.27"/>
<circle cx="361.98" cy="444.45" r="2.27"/>
<circle cx="368.55" cy="444.45" r="2.27"/>
<circle cx="375.12" cy="444.45" r="2.27"/>
<circle cx="381.69" cy="444.45" r="2.27"/>
<circle cx="388.26" cy="444.45" r="2.27"/>
<circle cx="394.83" cy="444.45" r="2.27"/>
<circle cx="401.40" cy="444.45" r="2.27"/>
<circle cx="335.70" cy="451.74" r="2.27"/>
<circle cx="342.27" cy="451.74" r="2.27"/>
<circle cx="348.84" cy="451.74" r="2.27"/>
<circle cx="355.41" cy="451.74" r="2.27"/>
<circle cx="361.98" cy="451.74" r="2.27"/>
<circle cx="368.55" cy="451.74" r="2.27"/>
<circle cx="375.12" cy="451.74" r="2.27"/>
<circle cx="381.69" cy="451.74" r="2.27"/>
<circle cx="388.26" cy="451.74" r="2.27"/>
<circle cx="394.83" cy="451.74" r="2.27"/>
<circle cx="401.40" cy="451.74" r="2.27"/>
<circle cx="335.70" cy="459.04" r="2.27"/>
<circle cx="342.27" cy="459.04" r="2.27"/>
<circle cx="348.84" cy="459.04" r="2.27"/>
<circle cx="355.41" cy="459.04" r="2.27"/>
<circle cx="361.98" cy="459.04" r="2.27"/>
<circle cx="368.55" cy="459.04" r="2.27"/>
<circle cx="375.12" cy="459.04" r="2.27"/>
<circle cx="381.69" cy="459.04" r="2.27"/>
<circle cx="388.26" cy="459.04" r="2.27"/>
<circle cx="394.83" cy="459.04" r="2.27"/>
<circle cx="401.40" cy="459.04" r="2.27"/>
<circle cx="335.70" cy="466.33" r="2.27"/>
<circle cx="342.27" cy="466.33" r="2.27"/>
<circle cx="348.84" cy="466.33" r="2.27"/>
<circle cx="355.41" cy="466.33" r="2.27"/>
<circle cx="361.98" cy="466.33" r="2.27"/>
<circle cx="368.55" cy="466.33" r="2.27"/>
<circle cx="375.12" cy="466.33" r="2.27"/>
<circle cx="381.69" cy="466.33" r="2.27"/>
<circle cx="388.26" cy="466.33" r="2.27"/>
<circle cx="394.83" cy="466.33" r="2.27"/>
<circle cx="401.40" cy="466.33" r="2.27"/>
<circle cx="335.70" cy="473.62" r="2.27"/>
<circle cx="342.27" cy="473.62" r="2.27"/>
<circle cx="348.84" cy="473.62" r="2.27"/>
<circle cx="355.41" cy="473.62" r="2.27"/>
<circle cx="361.98" cy="473.62" r="2.27"/>
<circle cx="368.55" cy="473.62" r="2.27"/>
<circle cx="375.12" cy="473.62" r="2.27"/>
<circle cx="381.69" cy="473.62" r="2.27"/>
<circle cx="388.26" cy="473.62" r="2.27"/>
<circle cx="394.83" cy="473.62" r="2.27"/>
<circle cx="401.40" cy="473.62" r="2.27"/>
<circle cx="335.70" cy="480.91" r="2.27"/>
<circle cx="342.27" cy="480.91" r="2.27"/>
<circle cx="348.84" cy="480.91" r="2.27"/>
<circle cx="355.41" cy="480.91" r="2.27"/>
<circle cx="361.98" cy="480.91" r="2.27"/>
<circle cx="368.55" cy="480.91" r="2.27"/>
<circle cx="375.12" cy="480.91" r="2.27"/>
<circle cx="381.69" cy="480.91" r="2.27"/>
<circle cx="388.26" cy="480.91" r="2.27"/>
<circle cx="394.83" cy="480.91" r="2.27"/>
<circle cx="401.40" cy="480.91" r="2.27"/>
<circle cx="335.70" cy="488.20" r="2.27"/>
<circle cx="342.27" cy="488.20" r="2.27"/>
<circle cx="348.84" cy="488.20" r="2.27"/>
<circle cx="355.41" cy="488.20" r="2.27"/>
<circle cx="361.98" cy="488.20" r="2.27"/>
<circle cx="368.55" cy="488.20" r="2.27"/>
<circle cx="375.12" cy="488.20" r="2.27"/>
<circle cx="381.69" cy="488.20" r="2.27"/>
<circle cx="388.26" cy="488.20" r="2.27"/>
<circle cx="394.83" cy="488.20" r="2.27"/>
<circle cx="401.40" cy="488.20" r="2.27"/>
<circle cx="335.70" cy="495.50" r="2.27"/>
<circle cx="342.27" cy="495.50" r="2.27"/>
<circle cx="348.84" cy="495.50" r="2.27"/>
<circle cx="355.41" cy="495.50" r="2.27"/>
<circle cx="361.98" cy="495.50" r="2.27"/>
<circle cx="368.55" cy="495.50" r="2.27"/>
<circle cx="375.12" cy="495.50" r="2.27"/>
<circle cx="381.69" cy="495.50" r="2.27"/>
<circle cx="388.26" cy="495.50" r="2.27"/>
<circle cx="394.83" cy="495.50" r="2.27"/>
<circle cx="401.40" cy="495.50" r="2.27"/>
<circle cx="335.70" cy="502.79" r="2.27"/>
<circle cx="342.27" cy="502.79" r="2.27"/>
<circle cx="348.84" cy="502.79" r="2.27"/>
<circle cx="355.41" cy="502.79" r="2.27"/>
<circle cx="361.98" cy="502.79" r="2.27"/>
<circle cx="368.55" cy="502.79" r="2.27"/>
<circle cx="375.12" cy="502.79" r="2.27"/>
<circle cx="381.69" cy="502.79" r="2.27"/>
<circle cx="388.26" cy="502.79" r="2.27"/>
<circle cx="394.83" cy="502.79" r="2.27"/>
<circle cx="401.40" cy="502.79" r="2.27"/>
<circle cx="335.70" cy="510.08" r="2.27"/>
<circle cx="342.27" cy="510.08" r="2.27"/>
<circle cx="348.84" cy="510.08" r="2.27"/>
<circle cx="355.41" cy="510.08" r="2.27"/>
<circle cx="361.98" cy="510.08" r="2.27"/>
<circle cx="368.55" cy="510.08" r="2.27"/>
<circle cx="375.12" cy="510.08" r="2.27"/>
<circle cx="381.69" cy="510.08" r="2.27"/>
<circle cx="388.26" cy="510.08" r="2.27"/>
<circle cx="394.83" cy="510.08" r="2.27"/>
<circle cx="401.40" cy="510.08" r="2.27"/>
<circle cx="335.70" cy="517.37" r="2.27"/>
<circle cx="342.27" cy="517.37" r="2.27"/>
<circle cx="348.84" cy="517.37" r="2.27"/>
<circle cx="355.41" cy="517.37" r="2.27"/>
<circle cx="361.98" cy="517.37" r="2.27"/>
<circle cx="368.55" cy="517.37" r="2.27"/>
<circle cx="375.12" cy="517.37" r="2.27"/>
<circle cx="381.69" cy="517.37" r="2.27"/>
<circle cx="388.26" cy="517.37" r="2.27"/>
<circle cx="394.83" cy="517.37" r="2.27"/>
<circle cx="401.40" cy="517.37" r="2.27"/>
<circle cx="335.70" cy="524.66" r="2.27"/>
<circle cx="342.27" cy="524.66" r="2.27"/>
<circle cx="348.84" cy="524.66" r="2.27"/>
<circle cx="355.41" cy="524.66" r="2.27"/>
<circle cx="361.98" cy="524.66" r="2.27"/>
<circle cx="368.55" cy="524.66" r="2.27"/>
<circle cx="375.12" cy="524.66" r="2.27"/>
<circle cx="381.69" cy="524.66" r="2.27"/>
<circle cx="388.26" cy="524.66" r="2.27"/>
<circle cx="394.83" cy="524.66" r="2.27"/>
<circle cx="401.40" cy="524.66" r="2.27"/>
<circle cx="335.70" cy="531.96" r="2.27"/>
<circle cx="342.27" cy="531.96" r="2.27"/>
<circle cx="348.84" cy="531.96" r="2.27"/>
<circle cx="355.41" cy="531.96" r="2.27"/>
<circle cx="361.98" cy="531.96" r="2.27"/>
<circle cx="368.55" cy="531.96" r="2.27"/>
<circle cx="375.12" cy="531.96" r="2.27"/>
<circle cx="381.69" cy="531.96" r="2.27"/>
<circle cx="388.26" cy="531.96" r="2.27"/>
<circle cx="394.83" cy="531.96" r="2.27"/>
<circle cx="401.40" cy="531.96" r="2.27"/>
<circle cx="335.70" cy="539.25" r="2.27"/>
<circle cx="342.27" cy="539.25" r="2.27"/>
<circle cx="348.84" cy="539.25" r="2.27"/>
<circle cx="355.41" cy="539.25" r="2.27"/>
<circle cx="361.98" cy="539.25" r="2.27"/>
<circle cx="368.55" cy="539.25" r="2.27"/>
<circle cx="375.12" cy="539.25" r="2.27"/>
<circle cx="381.69" cy="539.25" r="2.27"/>
<circle cx="388.26" cy="539.25" r="2.27"/>
<circle cx="394.83" cy="539.25" r="2.27"/>
<circle cx="401.40" cy="539.25" r="2.27"/>
<circle cx="335.70" cy="546.54" r="2.27"/>
<circle cx="342.27" cy="546.54" r="2.27"/>
<circle cx="348.84" cy="546.54" r="2.27"/>
<circle cx="355.41" cy="546.54" r="2.27"/>
<circle cx="361.98" cy="546.54" r="2.27"/>
<circle cx="368.55" cy="546.54" r="2.27"/>
<circle cx="375.12" cy="546.54" r="2.27"/>
<circle cx="381.69" cy="546.54" r="2.27"/>
<circle cx="388.26" cy="546.54" r="2.27"/>
<circle cx="394.83" cy="546.54" r="2.27"/>
<circle cx="401.40" cy="546.54" r="2.27"/>
<circle cx="335.70" cy="553.83" r="2.27"/>
<circle cx="342.27" cy="553.83" r="2.27"/>
<circle cx="348.84" cy="553.83" r="2.27"/>
<circle cx="355.41" cy="553.83" r="2.27"/>
<circle cx="361.98" cy="553.83" r="2.27"/>
<circle cx="368.55" cy="553.83" r="2.27"/>
<circle cx="375.12" cy="553.83" r="2.27"/>
<circle cx="381.69" cy="553.83" r="2.27"/>
<circle cx="388.26" cy="553.83" r="2.27"/>
<circle cx="394.83" cy="553.83" r="2.27"/>
<circle cx="401.40" cy="553.83" r="2.27"/>
<circle cx="335.70" cy="561.12" r="2.27"/>
<circle cx="342.27" cy="561.12" r="2.27"/>
<circle cx="348.84" cy="561.12" r="2.27"/>
<circle cx="355.41" cy="561.12" r="2.27"/>
<circle cx="361.98" cy="561.12" r="2.27"/>
<circle cx="368.55" cy="561.12" r="2.27"/>
<circle cx="375.12" cy="561.12" r="2.27"/>
<circle cx="381.69" cy="561.12" r="2.27"/>
<circle cx="388.26" cy="561.12" r="2.27"/>
<circle cx="394.83" cy="561.12" r="2.27"/>
<circle cx="401.40" cy="561.12" r="2.27"/>
<circle cx="335.70" cy="568.42" r="2.27"/>
<circle cx="342.27" cy="568.42" r="2.27"/>
<circle cx="348.84" cy="568.42" r="2.27"/>
<circle cx="355.41" cy="568.42" r="2.27"/>
<circle cx="361.98" cy="568.42" r="2.27"/>
<circle cx="368.55" cy="568.42" r="2.27"/>
<circle cx="375.12" cy="568.42" r="2.27"/>
<circle cx="381.69" cy="568.42" r="2.27"/>
<circle cx="388.26" cy="568.42" r="2.27"/>
<circle cx="401.40" cy="568.42" r="2.27"/>
<circle cx="335.70" cy="575.71" r="2.27"/>
<circle cx="342.27" cy="575.71" r="2.27"/>
<circle cx="355.41" cy="575.71" r="2.27"/>
<circle cx="361.98" cy="575.71" r="2.27"/>
<circle cx="368.55" cy="575.71" r="2.27"/>
<circle cx="375.12" cy="575.71" r="2.27"/>
<circle cx="381.69" cy="575.71" r="2.27"/>
<circle cx="388.26" cy="575.71" r="2.27"/>
<circle cx="394.83" cy="575.71" r="2.27"/>
<circle cx="401.40" cy="575.71" r="2.27"/>
<circle cx="335.70" cy="583.00" r="2.27"/>
<circle cx="342.27" cy="583.00" r="2.27"/>
<circle cx="355.41" cy="583.00" r="2.27"/>
<circle cx="361.98" cy="583.00" r="2.27"/>
<circle cx="368.55" cy="583.00" r="2.27"/>
<circle cx="375.12" cy="583.00" r="2.27"/>
<circle cx="381.69" cy="583.00" r="2.27"/>
<circle cx="388.26" cy="583.00" r="2.27"/>
<circle cx="394.83" cy="583.00" r="2.27"/>
<circle cx="401.40" cy="583.00" r="2.27"/>
<circle cx="335.70" cy="590.29" r="2.27"/>
<circle cx="342.27" cy="590.29" r="2.27"/>
<circle cx="355.41" cy="590.29" r="2.27"/>
<circle cx="361.98" cy="590.29" r="2.27"/>
<circle cx="368.55" cy="590.29" r="2.27"/>
<circle cx="375.12" cy="590.29" r="2.27"/>
<circle cx="381.69" cy="590.29" r="2.27"/>
<circle cx="388.26" cy="590.29" r="2.27"/>
<circle cx="394.83" cy="590.29" r="2.27"/>
<circle cx="401.40" cy="590.29" r="2.27"/>
</g>
<g fill="#000">
<circle cx="394.83" cy="568.42" r="2.50"/>
<circle cx="348.84" cy="575.71" r="2.50"/>
<circle cx="348.84" cy="583.00" r="2.50"/>
<circle cx="348.84" cy="590.29" r="2.50"/>
</g>
</g>
<g>
<path d="M412.60 400.70H485.60M412.60 408.03H485.60M412.60 415.37H485.60M412.60 422.70H485.60M412.60 430.04H485.60M412.60 437.38H485.60M412.60 444.71H485.60M412.60 452.04H485.60M412.60 459.38H485.60M412.60 466.71H485.60M412.60 474.05H485.60M412.60 481.38H485.60M412.60 488.72H485.60M412.60 496.06H485.60M412.60 503.39H485.60M412.60 510.73H485.60M412.60 518.06H485.60M412.60 525.39H485.60" stroke="#222" stroke-width="0.55" fill="none"/>
<g fill="#fff" stroke="#222" stroke-width="0.48">
<circle cx="416.20" cy="400.70" r="2.27"/>
<circle cx="422.78" cy="400.70" r="2.27"/>
<circle cx="429.36" cy="400.70" r="2.27"/>
<circle cx="435.94" cy="400.70" r="2.27"/>
<circle cx="442.52" cy="400.70" r="2.27"/>
<circle cx="449.10" cy="400.70" r="2.27"/>
<circle cx="455.68" cy="400.70" r="2.27"/>
<circle cx="462.26" cy="400.70" r="2.27"/>
<circle cx="468.84" cy="400.70" r="2.27"/>
<circle cx="475.42" cy="400.70" r="2.27"/>
<circle cx="482.00" cy="400.70" r="2.27"/>
<circle cx="416.20" cy="408.03" r="2.27"/>
<circle cx="422.78" cy="408.03" r="2.27"/>
<circle cx="429.36" cy="408.03" r="2.27"/>
<circle cx="435.94" cy="408.03" r="2.27"/>
<circle cx="442.52" cy="408.03" r="2.27"/>
<circle cx="449.10" cy="408.03" r="2.27"/>
<circle cx="455.68" cy="408.03" r="2.27"/>
<circle cx="462.26" cy="408.03" r="2.27"/>
<circle cx="468.84" cy="408.03" r="2.27"/>
<circle cx="475.42" cy="408.03" r="2.27"/>
<circle cx="482.00" cy="408.03" r="2.27"/>
<circle cx="416.20" cy="415.37" r="2.27"/>
<circle cx="422.78" cy="415.37" r="2.27"/>
<circle cx="429.36" cy="415.37" r="2.27"/>
<circle cx="435.94" cy="415.37" r="2.27"/>
<circle cx="442.52" cy="415.37" r="2.27"/>
<circle cx="449.10" cy="415.37" r="2.27"/>
<circle cx="455.68" cy="415.37" r="2.27"/>
<circle cx="462.26" cy="415.37" r="2.27"/>
<circle cx="468.84" cy="415.37" r="2.27"/>
<circle cx="475.42" cy="415.37" r="2.27"/>
<circle cx="482.00" cy="415.37" r="2.27"/>
<circle cx="416.20" cy="422.70" r="2.27"/>
<circle cx="422.78" cy="422.70" r="2.27"/>
<circle cx="429.36" cy="422.70" r="2.27"/>
<circle cx="435.94" cy="422.70" r="2.27"/>
<circle cx="442.52" cy="422.70" r="2.27"/>
<circle cx="449.10" cy="422.70" r="2.27"/>
<circle cx="455.68" cy="422.70" r="2.27"/>
<circle cx="462.26" cy="422.70" r="2.27"/>
<circle cx="468.84" cy="422.70" r="2.27"/>
<circle cx="475.42" cy="422.70" r="2.27"/>
<circle cx="482.00" cy="422.70" r="2.27"/>
<circle cx="416.20" cy="430.04" r="2.27"/>
<circle cx="422.78" cy="430.04" r="2.27"/>
<circle cx="429.36" cy="430.04" r="2.27"/>
<circle cx="435.94" cy="430.04" r="2.27"/>
<circle cx="442.52" cy="430.04" r="2.27"/>
<circle cx="449.10" cy="430.04" r="2.27"/>
<circle cx="455.68" cy="430.04" r="2.27"/>
<circle cx="462.26" cy="430.04" r="2.27"/>
<circle cx="468.84" cy="430.04" r="2.27"/>
<circle cx="475.42" cy="430.04" r="2.27"/>
<circle cx="482.00" cy="430.04" r="2.27"/>
<circle cx="416.20" cy="437.38" r="2.27"/>
<circle cx="422.78" cy="437.38" r="2.27"/>
<circle cx="429.36" cy="437.38" r="2.27"/>
<circle cx="435.94" cy="437.38" r="2.27"/>
<circle cx="442.52" cy="437.38" r="2.27"/>
<circle cx="449.10" cy="437.38" r="2.27"/>
<circle cx="455.68" cy="437.38" r="2.27"/>
<circle cx="462.26" cy="437.38" r="2.27"/>
<circle cx="468.84" cy="437.38" r="2.27"/>
<circle cx="475.42" cy="437.38" r="2.27"/>
<circle cx="482.00" cy="437.38" r="2.27"/>
<circle cx="416.20" cy="444.71" r="2.27"/>
<circle cx="422.78" cy="444.71" r="2.27"/>
<circle cx="429.36" cy="444.71" r="2.27"/>
<circle cx="435.94" cy="444.71" r="2.27"/>
<circle cx="442.52" cy="444.71" r="2.27"/>
<circle cx="449.10" cy="444.71" r="2.27"/>
<circle cx="455.68" cy="444.71" r="2.27"/>
<circle cx="462.26" cy="444.71" r="2.27"/>
<circle cx="468.84" cy="444.71" r="2.27"/>
<circle cx="475.42" cy="444.71" r="2.27"/>
<circle cx="482.00" cy="444.71" r="2.27"/>
<circle cx="416.20" cy="452.04" r="2.27"/>
<circle cx="422.78" cy="452.04" r="2.27"/>
<circle cx="429.36" cy="452.04" r="2.27"/>
<circle cx="435.94" cy="452.04" r="2.27"/>
<circle cx="442.52" cy="452.04" r="2.27"/>
<circle cx="449.10" cy="452.04" r="2.27"/>
<circle cx="455.68" cy="452.04" r="2.27"/>
<circle cx="462.26" cy="452.04" r="2.27"/>
<circle cx="468.84" cy="452.04" r="2.27"/>
<circle cx="475.42" cy="452.04" r="2.27"/>
<circle cx="482.00" cy="452.04" r="2.27"/>
<circle cx="416.20" cy="459.38" r="2.27"/>
<circle cx="422.78" cy="459.38" r="2.27"/>
<circle cx="429.36" cy="459.38" r="2.27"/>
<circle cx="435.94" cy="459.38" r="2.27"/>
<circle cx="442.52" cy="459.38" r="2.27"/>
<circle cx="449.10" cy="459.38" r="2.27"/>
<circle cx="455.68" cy="459.38" r="2.27"/>
<circle cx="462.26" cy="459.38" r="2.27"/>
<circle cx="468.84" cy="459.38" r="2.27"/>
<circle cx="475.42" cy="459.38" r="2.27"/>
<circle cx="482.00" cy="459.38" r="2.27"/>
<circle cx="416.20" cy="466.71" r="2.27"/>
<circle cx="422.78" cy="466.71" r="2.27"/>
<circle cx="429.36" cy="466.71" r="2.27"/>
<circle cx="435.94" cy="466.71" r="2.27"/>
<circle cx="442.52" cy="466.71" r="2.27"/>
<circle cx="449.10" cy="466.71" r="2.27"/>
<circle cx="455.68" cy="466.71" r="2.27"/>
<circle cx="462.26" cy="466.71" r="2.27"/>
<circle cx="468.84" cy="466.71" r="2.27"/>
<circle cx="475.42" cy="466.71" r="2.27"/>
<circle cx="482.00" cy="466.71" r="2.27"/>
<circle cx="416.20" cy="474.05" r="2.27"/>
<circle cx="422.78" cy="474.05" r="2.27"/>
<circle cx="429.36" cy="474.05" r="2.27"/>
<circle cx="435.94" cy="474.05" r="2.27"/>
<circle cx="442.52" cy="474.05" r="2.27"/>
<circle cx="449.10" cy="474.05" r="2.27"/>
<circle cx="455.68" cy="474.05" r="2.27"/>
<circle cx="462.26" cy="474.05" r="2.27"/>
<circle cx="468.84" cy="474.05" r="2.27"/>
<circle cx="475.42" cy="474.05" r="2.27"/>
<circle cx="482.00" cy="474.05" r="2.27"/>
<circle cx="416.20" cy="481.38" r="2.27"/>
<circle cx="422.78" cy="481.38" r="2.27"/>
<circle cx="429.36" cy="481.38" r="2.27"/>
<circle cx="435.94" cy="481.38" r="2.27"/>
<circle cx="442.52" cy="481.38" r="2.27"/>
<circle cx="449.10" cy="481.38" r="2.27"/>
<circle cx="455.68" cy="481.38" r="2.27"/>
<circle cx="462.26" cy="481.38" r="2.27"/>
<circle cx="468.84" cy="481.38" r="2.27"/>
<circle cx="475.42" cy="481.38" r="2.27"/>
<circle cx="416.20" cy="488.72" r="2.27"/>
<circle cx="422.78" cy="488.72" r="2.27"/>
<circle cx="429.36" cy="488.72" r="2.27"/>
<circle cx="435.94" cy="488.72" r="2.27"/>
<circle cx="442.52" cy="488.72" r="2.27"/>
<circle cx="449.10" cy="488.72" r="2.27"/>
<circle cx="455.68" cy="488.72" r="2.27"/>
<circle cx="462.26" cy="488.72" r="2.27"/>
<circle cx="468.84" cy="488.72" r="2.27"/>
<circle cx="475.42" cy="488.72" r="2.27"/>
<circle cx="422.78" cy="496.06" r="2.27"/>
<circle cx="429.36" cy="496.06" r="2.27"/>
<circle cx="435.94" cy="496.06" r="2.27"/>
<circle cx="442.52" cy="496.06" r="2.27"/>
<circle cx="449.10" cy="496.06" r="2.27"/>
<circle cx="455.68" cy="496.06" r="2.27"/>
<circle cx="462.26" cy="496.06" r="2.27"/>
<circle cx="468.84" cy="496.06" r="2.27"/>
<circle cx="475.42" cy="496.06" r="2.27"/>
<circle cx="482.00" cy="496.06" r="2.27"/>
<circle cx="422.78" cy="503.39" r="2.27"/>
<circle cx="429.36" cy="503.39" r="2.27"/>
<circle cx="435.94" cy="503.39" r="2.27"/>
<circle cx="442.52" cy="503.39" r="2.27"/>
<circle cx="449.10" cy="503.39" r="2.27"/>
<circle cx="455.68" cy="503.39" r="2.27"/>
<circle cx="462.26" cy="503.39" r="2.27"/>
<circle cx="468.84" cy="503.39" r="2.27"/>
<circle cx="475.42" cy="503.39" r="2.27"/>
<circle cx="482.00" cy="503.39" r="2.27"/>
<circle cx="422.78" cy="510.73" r="2.27"/>
<circle cx="429.36" cy="510.73" r="2.27"/>
<circle cx="435.94" cy="510.73" r="2.27"/>
<circle cx="442.52" cy="510.73" r="2.27"/>
<circle cx="449.10" cy="510.73" r="2.27"/>
<circle cx="455.68" cy="510.73" r="2.27"/>
<circle cx="462.26" cy="510.73" r="2.27"/>
<circle cx="468.84" cy="510.73" r="2.27"/>
<circle cx="475.42" cy="510.73" r="2.27"/>
<circle cx="482.00" cy="510.73" r="2.27"/>
<circle cx="422.78" cy="518.06" r="2.27"/>
<circle cx="429.36" cy="518.06" r="2.27"/>
<circle cx="435.94" cy="518.06" r="2.27"/>
<circle cx="442.52" cy="518.06" r="2.27"/>
<circle cx="449.10" cy="518.06" r="2.27"/>
<circle cx="455.68" cy="518.06" r="2.27"/>
<circle cx="462.26" cy="518.06" r="2.27"/>
<circle cx="468.84" cy="518.06" r="2.27"/>
<circle cx="475.42" cy="518.06" r="2.27"/>
<circle cx="482.00" cy="518.06" r="2.27"/>
</g>
<g fill="#000">
<circle cx="482.00" cy="481.38" r="2.50"/>
<circle cx="482.00" cy="488.72" r="2.50"/>
<circle cx="416.20" cy="496.06" r="2.50"/>
<circle cx="416.20" cy="503.39" r="2.50"/>
<circle cx="416.20" cy="510.73" r="2.50"/>
<circle cx="416.20" cy="518.06" r="2.50"/>
<circle cx="416.20" cy="525.39" r="2.50"/>
<circle cx="422.78" cy="525.39" r="2.50"/>
<circle cx="429.36" cy="525.39" r="2.50"/>
<circle cx="435.94" cy="525.39" r="2.50"/>
<circle cx="442.52" cy="525.39" r="2.50"/>
<circle cx="449.10" cy="525.39" r="2.50"/>
<circle cx="455.68" cy="525.39" r="2.50"/>
<circle cx="462.26" cy="525.39" r="2.50"/>
<circle cx="468.84" cy="525.39" r="2.50"/>
<circle cx="475.42" cy="525.39" r="2.50"/>
<circle cx="482.00" cy="525.39" r="2.50"/>
</g>
</g>
<g>
<path d="M526.20 400.70H603.00M526.20 407.72H603.00M526.20 414.75H603.00M526.20 421.77H603.00M526.20 428.80H603.00M526.20 435.82H603.00M526.20 442.84H603.00M526.20 449.87H603.00M526.20 456.89H603.00M526.20 463.92H603.00M526.20 470.94H603.00M526.20 477.96H603.00M526.20 484.99H603.00M526.20 492.01H603.00M526.20 499.04H603.00M526.20 506.06H603.00M526.20 513.08H603.00M526.20 520.11H603.00M526.20 527.13H603.00M526.20 534.16H603.00M526.20 541.18H603.00M526.20 548.20H603.00M526.20 555.23H603.00M526.20 562.25H603.00M526.20 569.28H603.00M526.20 576.30H603.00" stroke="#222" stroke-width="0.53" fill="none"/>
<g fill="#fff" stroke="#222" stroke-width="0.46">
<circle cx="529.80" cy="400.70" r="2.18"/>
<circle cx="536.13" cy="400.70" r="2.18"/>
<circle cx="542.45" cy="400.70" r="2.18"/>
<circle cx="548.78" cy="400.70" r="2.18"/>
<circle cx="555.11" cy="400.70" r="2.18"/>
<circle cx="561.43" cy="400.70" r="2.18"/>
<circle cx="567.76" cy="400.70" r="2.18"/>
<circle cx="574.09" cy="400.70" r="2.18"/>
<circle cx="580.42" cy="400.70" r="2.18"/>
<circle cx="586.74" cy="400.70" r="2.18"/>
<circle cx="593.07" cy="400.70" r="2.18"/>
<circle cx="599.40" cy="400.70" r="2.18"/>
<circle cx="529.80" cy="407.72" r="2.18"/>
<circle cx="536.13" cy="407.72" r="2.18"/>
<circle cx="542.45" cy="407.72" r="2.18"/>
<circle cx="548.78" cy="407.72" r="2.18"/>
<circle cx="555.11" cy="407.72" r="2.18"/>
<circle cx="561.43" cy="407.72" r="2.18"/>
<circle cx="567.76" cy="407.72" r="2.18"/>
<circle cx="574.09" cy="407.72" r="2.18"/>
<circle cx="580.42" cy="407.72" r="2.18"/>
<circle cx="586.74" cy="407.72" r="2.18"/>
<circle cx="593.07" cy="407.72" r="2.18"/>
<circle cx="599.40" cy="407.72" r="2.18"/>
<circle cx="529.80" cy="414.75" r="2.18"/>
<circle cx="536.13" cy="414.75" r="2.18"/>
<circle cx="542.45" cy="414.75" r="2.18"/>
<circle cx="548.78" cy="414.75" r="2.18"/>
<circle cx="555.11" cy="414.75" r="2.18"/>
<circle cx="561.43" cy="414.75" r="2.18"/>
<circle cx="567.76" cy="414.75" r="2.18"/>
<circle cx="574.09" cy="414.75" r="2.18"/>
<circle cx="580.42" cy="414.75" r="2.18"/>
<circle cx="586.74" cy="414.75" r="2.18"/>
<circle cx="593.07" cy="414.75" r="2.18"/>
<circle cx="599.40" cy="414.75" r="2.18"/>
<circle cx="529.80" cy="421.77" r="2.18"/>
<circle cx="536.13" cy="421.77" r="2.18"/>
<circle cx="542.45" cy="421.77" r="2.18"/>
<circle cx="548.78" cy="421.77" r="2.18"/>
<circle cx="555.11" cy="421.77" r="2.18"/>
<circle cx="561.43" cy="421.77" r="2.18"/>
<circle cx="567.76" cy="421.77" r="2.18"/>
<circle cx="574.09" cy="421.77" r="2.18"/>
<circle cx="580.42" cy="421.77" r="2.18"/>
<circle cx="586.74" cy="421.77" r="2.18"/>
<circle cx="593.07" cy="421.77" r="2.18"/>
<circle cx="599.40" cy="421.77" r="2.18"/>
<circle cx="529.80" cy="428.80" r="2.18"/>
<circle cx="536.13" cy="428.80" r="2.18"/>
<circle cx="542.45" cy="428.80" r="2.18"/>
<circle cx="548.78" cy="428.80" r="2.18"/>
<circle cx="555.11" cy="428.80" r="2.18"/>
<circle cx="561.43" cy="428.80" r="2.18"/>
<circle cx="567.76" cy="428.80" r="2.18"/>
<circle cx="574.09" cy="428.80" r="2.18"/>
<circle cx="580.42" cy="428.80" r="2.18"/>
<circle cx="586.74" cy="428.80" r="2.18"/>
<circle cx="593.07" cy="428.80" r="2.18"/>
<circle cx="599.40" cy="428.80" r="2.18"/>
<circle cx="529.80" cy="435.82" r="2.18"/>
<circle cx="536.13" cy="435.82" r="2.18"/>
<circle cx="542.45" cy="435.82" r="2.18"/>
<circle cx="548.78" cy="435.82" r="2.18"/>
<circle cx="555.11" cy="435.82" r="2.18"/>
<circle cx="561.43" cy="435.82" r="2.18"/>
<circle cx="567.76" cy="435.82" r="2.18"/>
<circle cx="574.09" cy="435.82" r="2.18"/>
<circle cx="580.42" cy="435.82" r="2.18"/>
<circle cx="586.74" cy="435.82" r="2.18"/>
<circle cx="593.07" cy="435.82" r="2.18"/>
<circle cx="599.40" cy="435.82" r="2.18"/>
<circle cx="529.80" cy="442.84" r="2.18"/>
<circle cx="536.13" cy="442.84" r="2.18"/>
<circle cx="542.45" cy="442.84" r="2.18"/>
<circle cx="548.78" cy="442.84" r="2.18"/>
<circle cx="555.11" cy="442.84" r="2.18"/>
<circle cx="561.43" cy="442.84" r="2.18"/>
<circle cx="567.76" cy="442.84" r="2.18"/>
<circle cx="574.09" cy="442.84" r="2.18"/>
<circle cx="580.42" cy="442.84" r="2.18"/>
<circle cx="586.74" cy="442.84" r="2.18"/>
<circle cx="593.07" cy="442.84" r="2.18"/>
<circle cx="599.40" cy="442.84" r="2.18"/>
<circle cx="529.80" cy="449.87" r="2.18"/>
<circle cx="536.13" cy="449.87" r="2.18"/>
<circle cx="542.45" cy="449.87" r="2.18"/>
<circle cx="548.78" cy="449.87" r="2.18"/>
<circle cx="555.11" cy="449.87" r="2.18"/>
<circle cx="561.43" cy="449.87" r="2.18"/>
<circle cx="567.76" cy="449.87" r="2.18"/>
<circle cx="574.09" cy="449.87" r="2.18"/>
<circle cx="580.42" cy="449.87" r="2.18"/>
<circle cx="586.74" cy="449.87" r="2.18"/>
<circle cx="593.07" cy="449.87" r="2.18"/>
<circle cx="599.40" cy="449.87" r="2.18"/>
<circle cx="529.80" cy="456.89" r="2.18"/>
<circle cx="536.13" cy="456.89" r="2.18"/>
<circle cx="542.45" cy="456.89" r="2.18"/>
<circle cx="548.78" cy="456.89" r="2.18"/>
<circle cx="555.11" cy="456.89" r="2.18"/>
<circle cx="561.43" cy="456.89" r="2.18"/>
<circle cx="567.76" cy="456.89" r="2.18"/>
<circle cx="574.09" cy="456.89" r="2.18"/>
<circle cx="580.42" cy="456.89" r="2.18"/>
<circle cx="586.74" cy="456.89" r="2.18"/>
<circle cx="593.07" cy="456.89" r="2.18"/>
<circle cx="599.40" cy="456.89" r="2.18"/>
<circle cx="529.80" cy="463.92" r="2.18"/>
<circle cx="536.13" cy="463.92" r="2.18"/>
<circle cx="542.45" cy="463.92" r="2.18"/>
<circle cx="548.78" cy="463.92" r="2.18"/>
<circle cx="555.11" cy="463.92" r="2.18"/>
<circle cx="561.43" cy="463.92" r="2.18"/>
<circle cx="567.76" cy="463.92" r="2.18"/>
<circle cx="574.09" cy="463.92" r="2.18"/>
<circle cx="580.42" cy="463.92" r="2.18"/>
<circle cx="586.74" cy="463.92" r="2.18"/>
<circle cx="593.07" cy="463.92" r="2.18"/>
<circle cx="599.40" cy="463.92" r="2.18"/>
<circle cx="529.80" cy="470.94" r="2.18"/>
<circle cx="536.13" cy="470.94" r="2.18"/>
<circle cx="542.45" cy="470.94" r="2.18"/>
<circle cx="548.78" cy="470.94" r="2.18"/>
<circle cx="555.11" cy="470.94" r="2.18"/>
<circle cx="561.43" cy="470.94" r="2.18"/>
<circle cx="567.76" cy="470.94" r="2.18"/>
<circle cx="574.09" cy="470.94" r="2.18"/>
<circle cx="580.42" cy="470.94" r="2.18"/>
<circle cx="586.74" cy="470.94" r="2.18"/>
<circle cx="593.07" cy="470.94" r="2.18"/>
<circle cx="599.40" cy="470.94" r="2.18"/>
<circle cx="529.80" cy="477.96" r="2.18"/>
<circle cx="536.13" cy="477.96" r="2.18"/>
<circle cx="542.45" cy="477.96" r="2.18"/>
<circle cx="548.78" cy="477.96" r="2.18"/>
<circle cx="555.11" cy="477.96" r="2.18"/>
<circle cx="561.43" cy="477.96" r="2.18"/>
<circle cx="567.76" cy="477.96" r="2.18"/>
<circle cx="574.09" cy="477.96" r="2.18"/>
<circle cx="580.42" cy="477.96" r="2.18"/>
<circle cx="586.74" cy="477.96" r="2.18"/>
<circle cx="593.07" cy="477.96" r="2.18"/>
<circle cx="599.40" cy="477.96" r="2.18"/>
<circle cx="529.80" cy="484.99" r="2.18"/>
<circle cx="536.13" cy="484.99" r="2.18"/>
<circle cx="542.45" cy="484.99" r="2.18"/>
<circle cx="548.78" cy="484.99" r="2.18"/>
<circle cx="555.11" cy="484.99" r="2.18"/>
<circle cx="561.43" cy="484.99" r="2.18"/>
<circle cx="567.76" cy="484.99" r="2.18"/>
<circle cx="574.09" cy="484.99" r="2.18"/>
<circle cx="580.42" cy="484.99" r="2.18"/>
<circle cx="586.74" cy="484.99" r="2.18"/>
<circle cx="593.07" cy="484.99" r="2.18"/>
<circle cx="599.40" cy="484.99" r="2.18"/>
<circle cx="529.80" cy="492.01" r="2.18"/>
<circle cx="536.13" cy="492.01" r="2.18"/>
<circle cx="542.45" cy="492.01" r="2.18"/>
<circle cx="548.78" cy="492.01" r="2.18"/>
<circle cx="555.11" cy="492.01" r="2.18"/>
<circle cx="561.43" cy="492.01" r="2.18"/>
<circle cx="567.76" cy="492.01" r="2.18"/>
<circle cx="574.09" cy="492.01" r="2.18"/>
<circle cx="580.42" cy="492.01" r="2.18"/>
<circle cx="586.74" cy="492.01" r="2.18"/>
<circle cx="593.07" cy="492.01" r="2.18"/>
<circle cx="599.40" cy="492.01" r="2.18"/>
<circle cx="529.80" cy="499.04" r="2.18"/>
<circle cx="536.13" cy="499.04" r="2.18"/>
<circle cx="542.45" cy="499.04" r="2.18"/>
<circle cx="548.78" cy="499.04" r="2.18"/>
<circle cx="555.11" cy="499.04" r="2.18"/>
<circle cx="561.43" cy="499.04" r="2.18"/>
<circle cx="567.76" cy="499.04" r="2.18"/>
<circle cx="574.09" cy="499.04" r="2.18"/>
<circle cx="580.42" cy="499.04" r="2.18"/>
<circle cx="586.74" cy="499.04" r="2.18"/>
<circle cx="593.07" cy="499.04" r="2.18"/>
<circle cx="599.40" cy="499.04" r="2.18"/>
<circle cx="529.80" cy="506.06" r="2.18"/>
<circle cx="536.13" cy="506.06" r="2.18"/>
<circle cx="542.45" cy="506.06" r="2.18"/>
<circle cx="548.78" cy="506.06" r="2.18"/>
<circle cx="555.11" cy="506.06" r="2.18"/>
<circle cx="561.43" cy="506.06" r="2.18"/>
<circle cx="567.76" cy="506.06" r="2.18"/>
<circle cx="574.09" cy="506.06" r="2.18"/>
<circle cx="580.42" cy="506.06" r="2.18"/>
<circle cx="586.74" cy="506.06" r="2.18"/>
<circle cx="593.07" cy="506.06" r="2.18"/>
<circle cx="599.40" cy="506.06" r="2.18"/>
<circle cx="529.80" cy="513.08" r="2.18"/>
<circle cx="536.13" cy="513.08" r="2.18"/>
<circle cx="542.45" cy="513.08" r="2.18"/>
<circle cx="548.78" cy="513.08" r="2.18"/>
<circle cx="555.11" cy="513.08" r="2.18"/>
<circle cx="561.43" cy="513.08" r="2.18"/>
<circle cx="567.76" cy="513.08" r="2.18"/>
<circle cx="574.09" cy="513.08" r="2.18"/>
<circle cx="580.42" cy="513.08" r="2.18"/>
<circle cx="586.74" cy="513.08" r="2.18"/>
<circle cx="593.07" cy="513.08" r="2.18"/>
<circle cx="599.40" cy="513.08" r="2.18"/>
<circle cx="529.80" cy="520.11" r="2.18"/>
<circle cx="536.13" cy="520.11" r="2.18"/>
<circle cx="542.45" cy="520.11" r="2.18"/>
<circle cx="548.78" cy="520.11" r="2.18"/>
<circle cx="555.11" cy="520.11" r="2.18"/>
<circle cx="561.43" cy="520.11" r="2.18"/>
<circle cx="567.76" cy="520.11" r="2.18"/>
<circle cx="574.09" cy="520.11" r="2.18"/>
<circle cx="580.42" cy="520.11" r="2.18"/>
<circle cx="586.74" cy="520.11" r="2.18"/>
<circle cx="593.07" cy="520.11" r="2.18"/>
<circle cx="599.40" cy="520.11" r="2.18"/>
<circle cx="529.80" cy="527.13" r="2.18"/>
<circle cx="536.13" cy="527.13" r="2.18"/>
<circle cx="542.45" cy="527.13" r="2.18"/>
<circle cx="548.78" cy="527.13" r="2.18"/>
<circle cx="555.11" cy="527.13" r="2.18"/>
<circle cx="561.43" cy="527.13" r="2.18"/>
<circle cx="567.76" cy="527.13" r="2.18"/>
<circle cx="574.09" cy="527.13" r="2.18"/>
<circle cx="580.42" cy="527.13" r="2.18"/>
<circle cx="586.74" cy="527.13" r="2.18"/>
<circle cx="593.07" cy="527.13" r="2.18"/>
<circle cx="599.40" cy="527.13" r="2.18"/>
<circle cx="529.80" cy="534.16" r="2.18"/>
<circle cx="536.13" cy="534.16" r="2.18"/>
<circle cx="542.45" cy="534.16" r="2.18"/>
<circle cx="548.78" cy="534.16" r="2.18"/>
<circle cx="555.11" cy="534.16" r="2.18"/>
<circle cx="561.43" cy="534.16" r="2.18"/>
<circle cx="567.76" cy="534.16" r="2.18"/>
<circle cx="574.09" cy="534.16" r="2.18"/>
<circle cx="580.42" cy="534.16" r="2.18"/>
<circle cx="586.74" cy="534.16" r="2.18"/>
<circle cx="593.07" cy="534.16" r="2.18"/>
<circle cx="599.40" cy="534.16" r="2.18"/>
<circle cx="529.80" cy="541.18" r="2.18"/>
<circle cx="536.13" cy="541.18" r="2.18"/>
<circle cx="542.45" cy="541.18" r="2.18"/>
<circle cx="548.78" cy="541.18" r="2.18"/>
<circle cx="555.11" cy="541.18" r="2.18"/>
<circle cx="561.43" cy="541.18" r="2.18"/>
<circle cx="567.76" cy="541.18" r="2.18"/>
<circle cx="574.09" cy="541.18" r="2.18"/>
<circle cx="580.42" cy="541.18" r="2.18"/>
<circle cx="586.74" cy="541.18" r="2.18"/>
<circle cx="593.07" cy="541.18" r="2.18"/>
<circle cx="599.40" cy="541.18" r="2.18"/>
<circle cx="529.80" cy="548.20" r="2.18"/>
<circle cx="536.13" cy="548.20" r="2.18"/>
<circle cx="542.45" cy="548.20" r="2.18"/>
<circle cx="548.78" cy="548.20" r="2.18"/>
<circle cx="555.11" cy="548.20" r="2.18"/>
<circle cx="561.43" cy="548.20" r="2.18"/>
<circle cx="567.76" cy="548.20" r="2.18"/>
<circle cx="574.09" cy="548.20" r="2.18"/>
<circle cx="580.42" cy="548.20" r="2.18"/>
<circle cx="586.74" cy="548.20" r="2.18"/>
<circle cx="593.07" cy="548.20" r="2.18"/>
<circle cx="599.40" cy="548.20" r="2.18"/>
<circle cx="529.80" cy="555.23" r="2.18"/>
<circle cx="536.13" cy="555.23" r="2.18"/>
<circle cx="542.45" cy="555.23" r="2.18"/>
<circle cx="548.78" cy="555.23" r="2.18"/>
<circle cx="555.11" cy="555.23" r="2.18"/>
<circle cx="561.43" cy="555.23" r="2.18"/>
<circle cx="567.76" cy="555.23" r="2.18"/>
<circle cx="574.09" cy="555.23" r="2.18"/>
<circle cx="580.42" cy="555.23" r="2.18"/>
<circle cx="586.74" cy="555.23" r="2.18"/>
<circle cx="593.07" cy="555.23" r="2.18"/>
<circle cx="599.40" cy="555.23" r="2.18"/>
<circle cx="529.80" cy="562.25" r="2.18"/>
<circle cx="536.13" cy="562.25" r="2.18"/>
<circle cx="542.45" cy="562.25" r="2.18"/>
<circle cx="548.78" cy="562.25" r="2.18"/>
<circle cx="555.11" cy="562.25" r="2.18"/>
<circle cx="561.43" cy="562.25" r="2.18"/>
<circle cx="567.76" cy="562.25" r="2.18"/>
<circle cx="574.09" cy="562.25" r="2.18"/>
<circle cx="580.42" cy="562.25" r="2.18"/>
<circle cx="586.74" cy="562.25" r="2.18"/>
<circle cx="593.07" cy="562.25" r="2.18"/>
<circle cx="599.40" cy="562.25" r="2.18"/>
<circle cx="529.80" cy="569.28" r="2.18"/>
<circle cx="536.13" cy="569.28" r="2.18"/>
<circle cx="542.45" cy="569.28" r="2.18"/>
<circle cx="548.78" cy="569.28" r="2.18"/>
<circle cx="555.11" cy="569.28" r="2.18"/>
<circle cx="561.43" cy="569.28" r="2.18"/>
<circle cx="567.76" cy="569.28" r="2.18"/>
<circle cx="574.09" cy="569.28" r="2.18"/>
<circle cx="580.42" cy="569.28" r="2.18"/>
<circle cx="586.74" cy="569.28" r="2.18"/>
<circle cx="593.07" cy="569.28" r="2.18"/>
<circle cx="599.40" cy="569.28" r="2.18"/>
<circle cx="529.80" cy="576.30" r="2.18"/>
<circle cx="536.13" cy="576.30" r="2.18"/>
<circle cx="542.45" cy="576.30" r="2.18"/>
<circle cx="548.78" cy="576.30" r="2.18"/>
<circle cx="555.11" cy="576.30" r="2.18"/>
<circle cx="561.43" cy="576.30" r="2.18"/>
<circle cx="567.76" cy="576.30" r="2.18"/>
<circle cx="574.09" cy="576.30" r="2.18"/>
<circle cx="580.42" cy="576.30" r="2.18"/>
<circle cx="586.74" cy="576.30" r="2.18"/>
<circle cx="593.07" cy="576.30" r="2.18"/>
<circle cx="599.40" cy="576.30" r="2.18"/>
</g>
</g>
<g>
<path d="M613.30 400.70H690.00M613.30 407.72H690.00M613.30 414.75H690.00M613.30 421.77H690.00M613.30 428.80H690.00M613.30 435.82H690.00M613.30 442.85H690.00M613.30 449.88H690.00M613.30 456.90H690.00M613.30 463.93H690.00M613.30 470.95H690.00M613.30 477.98H690.00M613.30 485.00H690.00M613.30 492.02H690.00M613.30 499.05H690.00M613.30 506.07H690.00M613.30 513.10H690.00" stroke="#222" stroke-width="0.52" fill="none"/>
<g fill="#fff" stroke="#222" stroke-width="0.46">
<circle cx="616.90" cy="400.70" r="2.18"/>
<circle cx="623.22" cy="400.70" r="2.18"/>
<circle cx="629.54" cy="400.70" r="2.18"/>
<circle cx="635.85" cy="400.70" r="2.18"/>
<circle cx="642.17" cy="400.70" r="2.18"/>
<circle cx="648.49" cy="400.70" r="2.18"/>
<circle cx="654.81" cy="400.70" r="2.18"/>
<circle cx="661.13" cy="400.70" r="2.18"/>
<circle cx="667.44" cy="400.70" r="2.18"/>
<circle cx="673.76" cy="400.70" r="2.18"/>
<circle cx="680.08" cy="400.70" r="2.18"/>
<circle cx="686.40" cy="400.70" r="2.18"/>
<circle cx="616.90" cy="407.72" r="2.18"/>
<circle cx="623.22" cy="407.72" r="2.18"/>
<circle cx="629.54" cy="407.72" r="2.18"/>
<circle cx="635.85" cy="407.72" r="2.18"/>
<circle cx="642.17" cy="407.72" r="2.18"/>
<circle cx="648.49" cy="407.72" r="2.18"/>
<circle cx="654.81" cy="407.72" r="2.18"/>
<circle cx="661.13" cy="407.72" r="2.18"/>
<circle cx="667.44" cy="407.72" r="2.18"/>
<circle cx="673.76" cy="407.72" r="2.18"/>
<circle cx="680.08" cy="407.72" r="2.18"/>
<circle cx="686.40" cy="407.72" r="2.18"/>
<circle cx="616.90" cy="414.75" r="2.18"/>
<circle cx="623.22" cy="414.75" r="2.18"/>
<circle cx="629.54" cy="414.75" r="2.18"/>
<circle cx="635.85" cy="414.75" r="2.18"/>
<circle cx="642.17" cy="414.75" r="2.18"/>
<circle cx="648.49" cy="414.75" r="2.18"/>
<circle cx="654.81" cy="414.75" r="2.18"/>
<circle cx="661.13" cy="414.75" r="2.18"/>
<circle cx="667.44" cy="414.75" r="2.18"/>
<circle cx="673.76" cy="414.75" r="2.18"/>
<circle cx="680.08" cy="414.75" r="2.18"/>
<circle cx="686.40" cy="414.75" r="2.18"/>
<circle cx="616.90" cy="421.77" r="2.18"/>
<circle cx="623.22" cy="421.77" r="2.18"/>
<circle cx="629.54" cy="421.77" r="2.18"/>
<circle cx="635.85" cy="421.77" r="2.18"/>
<circle cx="642.17" cy="421.77" r="2.18"/>
<circle cx="648.49" cy="421.77" r="2.18"/>
<circle cx="654.81" cy="421.77" r="2.18"/>
<circle cx="661.13" cy="421.77" r="2.18"/>
<circle cx="667.44" cy="421.77" r="2.18"/>
<circle cx="673.76" cy="421.77" r="2.18"/>
<circle cx="680.08" cy="421.77" r="2.18"/>
<circle cx="686.40" cy="421.77" r="2.18"/>
<circle cx="616.90" cy="428.80" r="2.18"/>
<circle cx="623.22" cy="428.80" r="2.18"/>
<circle cx="629.54" cy="428.80" r="2.18"/>
<circle cx="635.85" cy="428.80" r="2.18"/>
<circle cx="642.17" cy="428.80" r="2.18"/>
<circle cx="648.49" cy="428.80" r="2.18"/>
<circle cx="654.81" cy="428.80" r="2.18"/>
<circle cx="661.13" cy="428.80" r="2.18"/>
<circle cx="667.44" cy="428.80" r="2.18"/>
<circle cx="673.76" cy="428.80" r="2.18"/>
<circle cx="680.08" cy="428.80" r="2.18"/>
<circle cx="686.40" cy="428.80" r="2.18"/>
<circle cx="616.90" cy="435.82" r="2.18"/>
<circle cx="623.22" cy="435.82" r="2.18"/>
<circle cx="629.54" cy="435.82" r="2.18"/>
<circle cx="635.85" cy="435.82" r="2.18"/>
<circle cx="642.17" cy="435.82" r="2.18"/>
<circle cx="648.49" cy="435.82" r="2.18"/>
<circle cx="654.81" cy="435.82" r="2.18"/>
<circle cx="661.13" cy="435.82" r="2.18"/>
<circle cx="667.44" cy="435.82" r="2.18"/>
<circle cx="673.76" cy="435.82" r="2.18"/>
<circle cx="680.08" cy="435.82" r="2.18"/>
<circle cx="686.40" cy="435.82" r="2.18"/>
<circle cx="616.90" cy="442.85" r="2.18"/>
<circle cx="623.22" cy="442.85" r="2.18"/>
<circle cx="629.54" cy="442.85" r="2.18"/>
<circle cx="635.85" cy="442.85" r="2.18"/>
<circle cx="642.17" cy="442.85" r="2.18"/>
<circle cx="648.49" cy="442.85" r="2.18"/>
<circle cx="654.81" cy="442.85" r="2.18"/>
<circle cx="661.13" cy="442.85" r="2.18"/>
<circle cx="667.44" cy="442.85" r="2.18"/>
<circle cx="673.76" cy="442.85" r="2.18"/>
<circle cx="680.08" cy="442.85" r="2.18"/>
<circle cx="686.40" cy="442.85" r="2.18"/>
<circle cx="616.90" cy="449.88" r="2.18"/>
<circle cx="623.22" cy="449.88" r="2.18"/>
<circle cx="629.54" cy="449.88" r="2.18"/>
<circle cx="635.85" cy="449.88" r="2.18"/>
<circle cx="642.17" cy="449.88" r="2.18"/>
<circle cx="648.49" cy="449.88" r="2.18"/>
<circle cx="654.81" cy="449.88" r="2.18"/>
<circle cx="661.13" cy="449.88" r="2.18"/>
<circle cx="667.44" cy="449.88" r="2.18"/>
<circle cx="673.76" cy="449.88" r="2.18"/>
<circle cx="680.08" cy="449.88" r="2.18"/>
<circle cx="686.40" cy="449.88" r="2.18"/>
<circle cx="616.90" cy="456.90" r="2.18"/>
<circle cx="623.22" cy="456.90" r="2.18"/>
<circle cx="629.54" cy="456.90" r="2.18"/>
<circle cx="635.85" cy="456.90" r="2.18"/>
<circle cx="642.17" cy="456.90" r="2.18"/>
<circle cx="648.49" cy="456.90" r="2.18"/>
<circle cx="654.81" cy="456.90" r="2.18"/>
<circle cx="661.13" cy="456.90" r="2.18"/>
<circle cx="667.44" cy="456.90" r="2.18"/>
<circle cx="673.76" cy="456.90" r="2.18"/>
<circle cx="680.08" cy="456.90" r="2.18"/>
<circle cx="686.40" cy="456.90" r="2.18"/>
<circle cx="616.90" cy="463.93" r="2.18"/>
<circle cx="623.22" cy="463.93" r="2.18"/>
<circle cx="629.54" cy="463.93" r="2.18"/>
<circle cx="635.85" cy="463.93" r="2.18"/>
<circle cx="642.17" cy="463.93" r="2.18"/>
<circle cx="648.49" cy="463.93" r="2.18"/>
<circle cx="654.81" cy="463.93" r="2.18"/>
<circle cx="661.13" cy="463.93" r="2.18"/>
<circle cx="667.44" cy="463.93" r="2.18"/>
<circle cx="673.76" cy="463.93" r="2.18"/>
<circle cx="680.08" cy="463.93" r="2.18"/>
<circle cx="686.40" cy="463.93" r="2.18"/>
<circle cx="616.90" cy="470.95" r="2.18"/>
<circle cx="623.22" cy="470.95" r="2.18"/>
<circle cx="629.54" cy="470.95" r="2.18"/>
<circle cx="635.85" cy="470.95" r="2.18"/>
<circle cx="642.17" cy="470.95" r="2.18"/>
<circle cx="648.49" cy="470.95" r="2.18"/>
<circle cx="654.81" cy="470.95" r="2.18"/>
<circle cx="661.13" cy="470.95" r="2.18"/>
<circle cx="667.44" cy="470.95" r="2.18"/>
<circle cx="673.76" cy="470.95" r="2.18"/>
<circle cx="680.08" cy="470.95" r="2.18"/>
<circle cx="686.40" cy="470.95" r="2.18"/>
<circle cx="616.90" cy="477.98" r="2.18"/>
<circle cx="623.22" cy="477.98" r="2.18"/>
<circle cx="629.54" cy="477.98" r="2.18"/>
<circle cx="635.85" cy="477.98" r="2.18"/>
<circle cx="642.17" cy="477.98" r="2.18"/>
<circle cx="648.49" cy="477.98" r="2.18"/>
<circle cx="654.81" cy="477.98" r="2.18"/>
<circle cx="661.13" cy="477.98" r="2.18"/>
<circle cx="667.44" cy="477.98" r="2.18"/>
<circle cx="673.76" cy="477.98" r="2.18"/>
<circle cx="680.08" cy="477.98" r="2.18"/>
<circle cx="686.40" cy="477.98" r="2.18"/>
<circle cx="616.90" cy="485.00" r="2.18"/>
<circle cx="623.22" cy="485.00" r="2.18"/>
<circle cx="629.54" cy="485.00" r="2.18"/>
<circle cx="635.85" cy="485.00" r="2.18"/>
<circle cx="642.17" cy="485.00" r="2.18"/>
<circle cx="648.49" cy="485.00" r="2.18"/>
<circle cx="654.81" cy="485.00" r="2.18"/>
<circle cx="661.13" cy="485.00" r="2.18"/>
<circle cx="667.44" cy="485.00" r="2.18"/>
<circle cx="673.76" cy="485.00" r="2.18"/>
<circle cx="680.08" cy="485.00" r="2.18"/>
<circle cx="616.90" cy="492.02" r="2.18"/>
<circle cx="623.22" cy="492.02" r="2.18"/>
<circle cx="629.54" cy="492.02" r="2.18"/>
<circle cx="635.85" cy="492.02" r="2.18"/>
<circle cx="642.17" cy="492.02" r="2.18"/>
<circle cx="648.49" cy="492.02" r="2.18"/>
<circle cx="654.81" cy="492.02" r="2.18"/>
<circle cx="661.13" cy="492.02" r="2.18"/>
<circle cx="667.44" cy="492.02" r="2.18"/>
<circle cx="673.76" cy="492.02" r="2.18"/>
<circle cx="686.40" cy="492.02" r="2.18"/>
<circle cx="616.90" cy="499.05" r="2.18"/>
<circle cx="623.22" cy="499.05" r="2.18"/>
<circle cx="629.54" cy="499.05" r="2.18"/>
<circle cx="635.85" cy="499.05" r="2.18"/>
<circle cx="642.17" cy="499.05" r="2.18"/>
<circle cx="648.49" cy="499.05" r="2.18"/>
<circle cx="654.81" cy="499.05" r="2.18"/>
<circle cx="667.44" cy="499.05" r="2.18"/>
<circle cx="673.76" cy="499.05" r="2.18"/>
<circle cx="680.08" cy="499.05" r="2.18"/>
<circle cx="686.40" cy="499.05" r="2.18"/>
<circle cx="616.90" cy="506.07" r="2.18"/>
<circle cx="623.22" cy="506.07" r="2.18"/>
<circle cx="635.85" cy="506.07" r="2.18"/>
<circle cx="642.17" cy="506.07" r="2.18"/>
<circle cx="648.49" cy="506.07" r="2.18"/>
<circle cx="654.81" cy="506.07" r="2.18"/>
<circle cx="661.13" cy="506.07" r="2.18"/>
<circle cx="667.44" cy="506.07" r="2.18"/>
<circle cx="673.76" cy="506.07" r="2.18"/>
<circle cx="680.08" cy="506.07" r="2.18"/>
<circle cx="686.40" cy="506.07" r="2.18"/>
<circle cx="616.90" cy="513.10" r="2.18"/>
<circle cx="623.22" cy="513.10" r="2.18"/>
<circle cx="635.85" cy="513.10" r="2.18"/>
<circle cx="642.17" cy="513.10" r="2.18"/>
<circle cx="648.49" cy="513.10" r="2.18"/>
<circle cx="654.81" cy="513.10" r="2.18"/>
<circle cx="661.13" cy="513.10" r="2.18"/>
<circle cx="667.44" cy="513.10" r="2.18"/>
<circle cx="673.76" cy="513.10" r="2.18"/>
<circle cx="686.40" cy="513.10" r="2.18"/>
</g>
<g fill="#000">
<circle cx="686.40" cy="485.00" r="2.40"/>
<circle cx="680.08" cy="492.02" r="2.40"/>
<circle cx="661.13" cy="499.05" r="2.40"/>
<circle cx="629.54" cy="506.07" r="2.40"/>
<circle cx="629.54" cy="513.10" r="2.40"/>
<circle cx="680.08" cy="513.10" r="2.40"/>
</g>
</g>
</svg>
</body></html>
